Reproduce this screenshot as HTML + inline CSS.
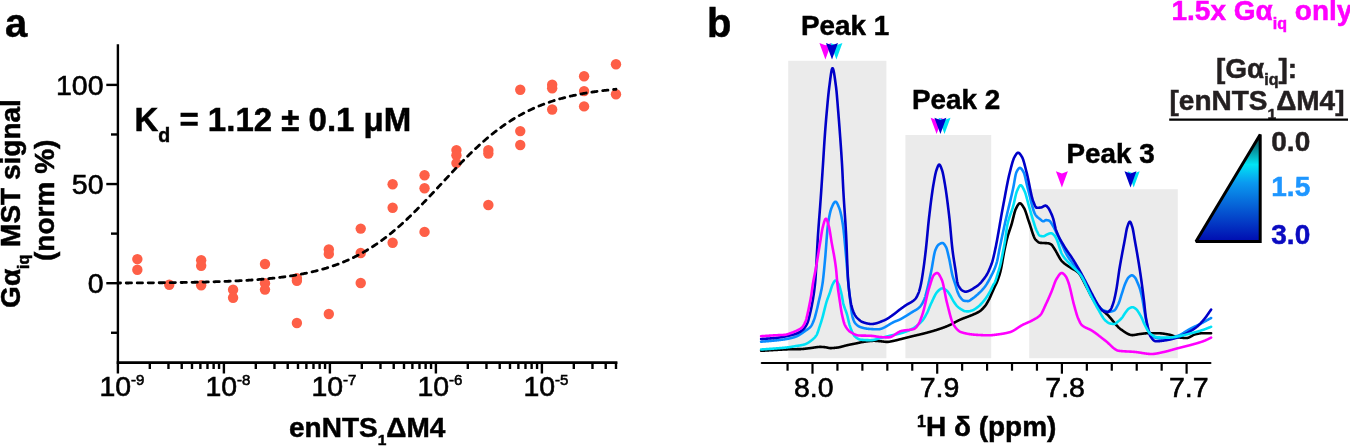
<!DOCTYPE html>
<html><head><meta charset="utf-8"><style>
html,body{margin:0;padding:0;background:#fff;overflow:hidden;}
svg{display:block;will-change:transform;}
text{font-family:"Liberation Sans", sans-serif;}
</style></head><body>
<svg width="1350" height="446" viewBox="0 0 1350 446" font-family='"Liberation Sans", sans-serif'>
<rect width="1350" height="446" fill="#fff"/>
<line x1="117.9" y1="44.2" x2="117.9" y2="373.5" stroke="#000" stroke-width="2.4"/>
<line x1="116.7" y1="362.6" x2="617.4" y2="362.6" stroke="#000" stroke-width="2.6"/>
<line x1="106.3" y1="84.90" x2="117.9" y2="84.90" stroke="#000" stroke-width="2.4"/>
<line x1="111.0" y1="134.47" x2="117.9" y2="134.47" stroke="#000" stroke-width="2.4"/>
<line x1="106.3" y1="184.05" x2="117.9" y2="184.05" stroke="#000" stroke-width="2.4"/>
<line x1="111.0" y1="233.62" x2="117.9" y2="233.62" stroke="#000" stroke-width="2.4"/>
<line x1="106.3" y1="283.20" x2="117.9" y2="283.20" stroke="#000" stroke-width="2.4"/>
<line x1="111.0" y1="332.77" x2="117.9" y2="332.77" stroke="#000" stroke-width="2.4"/>
<line x1="149.81" y1="362" x2="149.81" y2="369" stroke="#000" stroke-width="2.4"/>
<line x1="168.47" y1="362" x2="168.47" y2="369" stroke="#000" stroke-width="2.4"/>
<line x1="181.72" y1="362" x2="181.72" y2="369" stroke="#000" stroke-width="2.4"/>
<line x1="191.99" y1="362" x2="191.99" y2="369" stroke="#000" stroke-width="2.4"/>
<line x1="200.38" y1="362" x2="200.38" y2="369" stroke="#000" stroke-width="2.4"/>
<line x1="207.48" y1="362" x2="207.48" y2="369" stroke="#000" stroke-width="2.4"/>
<line x1="213.63" y1="362" x2="213.63" y2="369" stroke="#000" stroke-width="2.4"/>
<line x1="219.05" y1="362" x2="219.05" y2="369" stroke="#000" stroke-width="2.4"/>
<line x1="223.90" y1="362" x2="223.90" y2="373.5" stroke="#000" stroke-width="2.4"/>
<line x1="255.81" y1="362" x2="255.81" y2="369" stroke="#000" stroke-width="2.4"/>
<line x1="274.47" y1="362" x2="274.47" y2="369" stroke="#000" stroke-width="2.4"/>
<line x1="287.72" y1="362" x2="287.72" y2="369" stroke="#000" stroke-width="2.4"/>
<line x1="297.99" y1="362" x2="297.99" y2="369" stroke="#000" stroke-width="2.4"/>
<line x1="306.38" y1="362" x2="306.38" y2="369" stroke="#000" stroke-width="2.4"/>
<line x1="313.48" y1="362" x2="313.48" y2="369" stroke="#000" stroke-width="2.4"/>
<line x1="319.63" y1="362" x2="319.63" y2="369" stroke="#000" stroke-width="2.4"/>
<line x1="325.05" y1="362" x2="325.05" y2="369" stroke="#000" stroke-width="2.4"/>
<line x1="329.90" y1="362" x2="329.90" y2="373.5" stroke="#000" stroke-width="2.4"/>
<line x1="361.81" y1="362" x2="361.81" y2="369" stroke="#000" stroke-width="2.4"/>
<line x1="380.47" y1="362" x2="380.47" y2="369" stroke="#000" stroke-width="2.4"/>
<line x1="393.72" y1="362" x2="393.72" y2="369" stroke="#000" stroke-width="2.4"/>
<line x1="403.99" y1="362" x2="403.99" y2="369" stroke="#000" stroke-width="2.4"/>
<line x1="412.38" y1="362" x2="412.38" y2="369" stroke="#000" stroke-width="2.4"/>
<line x1="419.48" y1="362" x2="419.48" y2="369" stroke="#000" stroke-width="2.4"/>
<line x1="425.63" y1="362" x2="425.63" y2="369" stroke="#000" stroke-width="2.4"/>
<line x1="431.05" y1="362" x2="431.05" y2="369" stroke="#000" stroke-width="2.4"/>
<line x1="435.90" y1="362" x2="435.90" y2="373.5" stroke="#000" stroke-width="2.4"/>
<line x1="467.81" y1="362" x2="467.81" y2="369" stroke="#000" stroke-width="2.4"/>
<line x1="486.47" y1="362" x2="486.47" y2="369" stroke="#000" stroke-width="2.4"/>
<line x1="499.72" y1="362" x2="499.72" y2="369" stroke="#000" stroke-width="2.4"/>
<line x1="509.99" y1="362" x2="509.99" y2="369" stroke="#000" stroke-width="2.4"/>
<line x1="518.38" y1="362" x2="518.38" y2="369" stroke="#000" stroke-width="2.4"/>
<line x1="525.48" y1="362" x2="525.48" y2="369" stroke="#000" stroke-width="2.4"/>
<line x1="531.63" y1="362" x2="531.63" y2="369" stroke="#000" stroke-width="2.4"/>
<line x1="537.05" y1="362" x2="537.05" y2="369" stroke="#000" stroke-width="2.4"/>
<line x1="541.90" y1="362" x2="541.90" y2="373.5" stroke="#000" stroke-width="2.4"/>
<line x1="573.81" y1="362" x2="573.81" y2="369" stroke="#000" stroke-width="2.4"/>
<line x1="592.47" y1="362" x2="592.47" y2="369" stroke="#000" stroke-width="2.4"/>
<line x1="605.72" y1="362" x2="605.72" y2="369" stroke="#000" stroke-width="2.4"/>
<line x1="615.99" y1="362" x2="615.99" y2="369" stroke="#000" stroke-width="2.4"/>
<text x="103.5" y="95.10" text-anchor="end" font-size="28.5" stroke="#000" stroke-width="0.6">100</text>
<text x="103.5" y="194.25" text-anchor="end" font-size="28.5" stroke="#000" stroke-width="0.6">50</text>
<text x="103.5" y="293.40" text-anchor="end" font-size="28.5" stroke="#000" stroke-width="0.6">0</text>
<text x="99.40" y="395.8" font-size="28.5" stroke="#000" stroke-width="0.6">10<tspan font-size="15" dy="-11">-9</tspan></text>
<text x="205.40" y="395.8" font-size="28.5" stroke="#000" stroke-width="0.6">10<tspan font-size="15" dy="-11">-8</tspan></text>
<text x="311.40" y="395.8" font-size="28.5" stroke="#000" stroke-width="0.6">10<tspan font-size="15" dy="-11">-7</tspan></text>
<text x="417.40" y="395.8" font-size="28.5" stroke="#000" stroke-width="0.6">10<tspan font-size="15" dy="-11">-6</tspan></text>
<text x="523.40" y="395.8" font-size="28.5" stroke="#000" stroke-width="0.6">10<tspan font-size="15" dy="-11">-5</tspan></text>
<circle cx="137.35" cy="259.1" r="5.2" fill="#fe5f47"/>
<circle cx="137.35" cy="269.8" r="5.2" fill="#fe5f47"/>
<circle cx="169.26" cy="284.8" r="5.2" fill="#fe5f47"/>
<circle cx="201.17" cy="260.2" r="5.2" fill="#fe5f47"/>
<circle cx="201.17" cy="265.8" r="5.2" fill="#fe5f47"/>
<circle cx="201.17" cy="285.3" r="5.2" fill="#fe5f47"/>
<circle cx="233.08" cy="289.8" r="5.2" fill="#fe5f47"/>
<circle cx="233.08" cy="297.8" r="5.2" fill="#fe5f47"/>
<circle cx="264.99" cy="264" r="5.2" fill="#fe5f47"/>
<circle cx="264.99" cy="283.2" r="5.2" fill="#fe5f47"/>
<circle cx="264.99" cy="289.6" r="5.2" fill="#fe5f47"/>
<circle cx="296.90" cy="278.1" r="5.2" fill="#fe5f47"/>
<circle cx="296.90" cy="280.8" r="5.2" fill="#fe5f47"/>
<circle cx="296.90" cy="323" r="5.2" fill="#fe5f47"/>
<circle cx="328.81" cy="249.4" r="5.2" fill="#fe5f47"/>
<circle cx="328.81" cy="253.9" r="5.2" fill="#fe5f47"/>
<circle cx="328.81" cy="314" r="5.2" fill="#fe5f47"/>
<circle cx="360.72" cy="253" r="5.2" fill="#fe5f47"/>
<circle cx="360.72" cy="283" r="5.2" fill="#fe5f47"/>
<circle cx="360.72" cy="228.6" r="5.2" fill="#fe5f47"/>
<circle cx="392.63" cy="242.7" r="5.2" fill="#fe5f47"/>
<circle cx="392.63" cy="184.2" r="5.2" fill="#fe5f47"/>
<circle cx="392.63" cy="207.7" r="5.2" fill="#fe5f47"/>
<circle cx="424.54" cy="175.2" r="5.2" fill="#fe5f47"/>
<circle cx="424.54" cy="188.2" r="5.2" fill="#fe5f47"/>
<circle cx="424.54" cy="231.9" r="5.2" fill="#fe5f47"/>
<circle cx="456.44" cy="150.1" r="5.2" fill="#fe5f47"/>
<circle cx="456.44" cy="155.2" r="5.2" fill="#fe5f47"/>
<circle cx="456.44" cy="163.1" r="5.2" fill="#fe5f47"/>
<circle cx="488.35" cy="150.1" r="5.2" fill="#fe5f47"/>
<circle cx="488.35" cy="153.5" r="5.2" fill="#fe5f47"/>
<circle cx="488.35" cy="205" r="5.2" fill="#fe5f47"/>
<circle cx="520.26" cy="89.8" r="5.2" fill="#fe5f47"/>
<circle cx="520.26" cy="131.1" r="5.2" fill="#fe5f47"/>
<circle cx="520.26" cy="145" r="5.2" fill="#fe5f47"/>
<circle cx="552.17" cy="84.8" r="5.2" fill="#fe5f47"/>
<circle cx="552.17" cy="88.2" r="5.2" fill="#fe5f47"/>
<circle cx="552.17" cy="109.5" r="5.2" fill="#fe5f47"/>
<circle cx="584.08" cy="76.3" r="5.2" fill="#fe5f47"/>
<circle cx="584.08" cy="91.1" r="5.2" fill="#fe5f47"/>
<circle cx="584.08" cy="106.4" r="5.2" fill="#fe5f47"/>
<circle cx="615.99" cy="64.2" r="5.2" fill="#fe5f47"/>
<circle cx="615.99" cy="94.3" r="5.2" fill="#fe5f47"/>
<polyline points="117.90,283.02 118.73,283.02 119.56,283.02 120.39,283.01 121.22,283.01 122.05,283.01 122.88,283.00 123.71,283.00 124.54,283.00 125.37,282.99 126.20,282.99 127.03,282.98 127.86,282.98 128.69,282.98 129.52,282.97 130.35,282.97 131.18,282.96 132.01,282.96 132.84,282.96 133.67,282.95 134.50,282.95 135.33,282.94 136.16,282.94 136.99,282.93 137.82,282.93 138.65,282.92 139.48,282.92 140.31,282.91 141.14,282.91 141.97,282.90 142.80,282.90 143.63,282.89 144.46,282.89 145.29,282.88 146.13,282.87 146.96,282.87 147.79,282.86 148.62,282.86 149.45,282.85 150.28,282.84 151.11,282.84 151.94,282.83 152.77,282.82 153.60,282.82 154.43,282.81 155.26,282.80 156.09,282.79 156.92,282.79 157.75,282.78 158.58,282.77 159.41,282.76 160.24,282.76 161.07,282.75 161.90,282.74 162.73,282.73 163.56,282.72 164.39,282.72 165.22,282.71 166.05,282.70 166.88,282.69 167.71,282.68 168.54,282.67 169.37,282.66 170.20,282.65 171.03,282.64 171.86,282.63 172.69,282.62 173.52,282.61 174.35,282.60 175.18,282.59 176.01,282.58 176.84,282.57 177.67,282.55 178.50,282.54 179.33,282.53 180.16,282.52 180.99,282.51 181.82,282.49 182.65,282.48 183.48,282.47 184.31,282.45 185.14,282.44 185.97,282.43 186.80,282.41 187.63,282.40 188.46,282.38 189.29,282.37 190.12,282.35 190.95,282.34 191.78,282.32 192.61,282.31 193.44,282.29 194.27,282.27 195.10,282.26 195.93,282.24 196.76,282.22 197.59,282.21 198.42,282.19 199.25,282.17 200.08,282.15 200.92,282.13 201.75,282.11 202.58,282.09 203.41,282.07 204.24,282.05 205.07,282.03 205.90,282.01 206.73,281.99 207.56,281.97 208.39,281.94 209.22,281.92 210.05,281.90 210.88,281.87 211.71,281.85 212.54,281.83 213.37,281.80 214.20,281.78 215.03,281.75 215.86,281.72 216.69,281.70 217.52,281.67 218.35,281.64 219.18,281.61 220.01,281.59 220.84,281.56 221.67,281.53 222.50,281.50 223.33,281.47 224.16,281.44 224.99,281.40 225.82,281.37 226.65,281.34 227.48,281.30 228.31,281.27 229.14,281.24 229.97,281.20 230.80,281.16 231.63,281.13 232.46,281.09 233.29,281.05 234.12,281.01 234.95,280.97 235.78,280.93 236.61,280.89 237.44,280.85 238.27,280.81 239.10,280.77 239.93,280.72 240.76,280.68 241.59,280.63 242.42,280.59 243.25,280.54 244.08,280.49 244.91,280.44 245.74,280.39 246.57,280.34 247.40,280.29 248.23,280.24 249.06,280.19 249.89,280.13 250.72,280.08 251.55,280.02 252.38,279.97 253.21,279.91 254.04,279.85 254.87,279.79 255.71,279.73 256.54,279.67 257.37,279.60 258.20,279.54 259.03,279.47 259.86,279.41 260.69,279.34 261.52,279.27 262.35,279.20 263.18,279.13 264.01,279.06 264.84,278.98 265.67,278.91 266.50,278.83 267.33,278.75 268.16,278.68 268.99,278.59 269.82,278.51 270.65,278.43 271.48,278.35 272.31,278.26 273.14,278.17 273.97,278.08 274.80,277.99 275.63,277.90 276.46,277.81 277.29,277.71 278.12,277.61 278.95,277.51 279.78,277.41 280.61,277.31 281.44,277.21 282.27,277.10 283.10,276.99 283.93,276.89 284.76,276.77 285.59,276.66 286.42,276.55 287.25,276.43 288.08,276.31 288.91,276.19 289.74,276.07 290.57,275.94 291.40,275.81 292.23,275.68 293.06,275.55 293.89,275.42 294.72,275.28 295.55,275.15 296.38,275.00 297.21,274.86 298.04,274.72 298.87,274.57 299.70,274.42 300.53,274.27 301.36,274.11 302.19,273.95 303.02,273.79 303.85,273.63 304.68,273.46 305.51,273.30 306.34,273.13 307.17,272.95 308.00,272.77 308.83,272.60 309.66,272.41 310.50,272.23 311.33,272.04 312.16,271.85 312.99,271.65 313.82,271.46 314.65,271.25 315.48,271.05 316.31,270.84 317.14,270.63 317.97,270.42 318.80,270.20 319.63,269.98 320.46,269.76 321.29,269.53 322.12,269.30 322.95,269.06 323.78,268.82 324.61,268.58 325.44,268.33 326.27,268.09 327.10,267.83 327.93,267.57 328.76,267.31 329.59,267.05 330.42,266.78 331.25,266.50 332.08,266.23 332.91,265.94 333.74,265.66 334.57,265.37 335.40,265.07 336.23,264.77 337.06,264.47 337.89,264.16 338.72,263.85 339.55,263.53 340.38,263.21 341.21,262.88 342.04,262.55 342.87,262.22 343.70,261.87 344.53,261.53 345.36,261.18 346.19,260.82 347.02,260.46 347.85,260.10 348.68,259.73 349.51,259.35 350.34,258.97 351.17,258.58 352.00,258.19 352.83,257.80 353.66,257.39 354.49,256.99 355.32,256.57 356.15,256.15 356.98,255.73 357.81,255.30 358.64,254.87 359.47,254.42 360.30,253.98 361.13,253.53 361.96,253.07 362.79,252.60 363.62,252.14 364.45,251.66 365.29,251.18 366.12,250.69 366.95,250.20 367.78,249.70 368.61,249.19 369.44,248.68 370.27,248.17 371.10,247.64 371.93,247.11 372.76,246.58 373.59,246.04 374.42,245.49 375.25,244.94 376.08,244.38 376.91,243.81 377.74,243.24 378.57,242.66 379.40,242.07 380.23,241.48 381.06,240.89 381.89,240.28 382.72,239.67 383.55,239.06 384.38,238.44 385.21,237.81 386.04,237.17 386.87,236.53 387.70,235.89 388.53,235.23 389.36,234.57 390.19,233.91 391.02,233.24 391.85,232.56 392.68,231.88 393.51,231.19 394.34,230.49 395.17,229.79 396.00,229.09 396.83,228.37 397.66,227.66 398.49,226.93 399.32,226.20 400.15,225.47 400.98,224.73 401.81,223.98 402.64,223.23 403.47,222.47 404.30,221.71 405.13,220.94 405.96,220.17 406.79,219.39 407.62,218.61 408.45,217.82 409.28,217.03 410.11,216.23 410.94,215.43 411.77,214.62 412.60,213.81 413.43,212.99 414.26,212.17 415.09,211.35 415.92,210.52 416.75,209.69 417.58,208.85 418.41,208.01 419.24,207.17 420.08,206.32 420.91,205.47 421.74,204.62 422.57,203.76 423.40,202.90 424.23,202.04 425.06,201.17 425.89,200.30 426.72,199.43 427.55,198.56 428.38,197.68 429.21,196.81 430.04,195.92 430.87,195.04 431.70,194.16 432.53,193.27 433.36,192.39 434.19,191.50 435.02,190.61 435.85,189.72 436.68,188.83 437.51,187.93 438.34,187.04 439.17,186.15 440.00,185.25 440.83,184.36 441.66,183.47 442.49,182.57 443.32,181.68 444.15,180.79 444.98,179.89 445.81,179.00 446.64,178.11 447.47,177.22 448.30,176.33 449.13,175.44 449.96,174.56 450.79,173.67 451.62,172.79 452.45,171.91 453.28,171.03 454.11,170.15 454.94,169.27 455.77,168.40 456.60,167.53 457.43,166.66 458.26,165.80 459.09,164.93 459.92,164.08 460.75,163.22 461.58,162.37 462.41,161.52 463.24,160.67 464.07,159.83 464.90,158.99 465.73,158.15 466.56,157.32 467.39,156.50 468.22,155.67 469.05,154.86 469.88,154.04 470.71,153.23 471.54,152.43 472.37,151.63 473.20,150.83 474.03,150.04 474.87,149.25 475.70,148.47 476.53,147.69 477.36,146.92 478.19,146.16 479.02,145.40 479.85,144.64 480.68,143.89 481.51,143.15 482.34,142.41 483.17,141.67 484.00,140.95 484.83,140.22 485.66,139.51 486.49,138.80 487.32,138.09 488.15,137.39 488.98,136.70 489.81,136.01 490.64,135.33 491.47,134.66 492.30,133.99 493.13,133.32 493.96,132.67 494.79,132.02 495.62,131.37 496.45,130.73 497.28,130.10 498.11,129.47 498.94,128.85 499.77,128.24 500.60,127.63 501.43,127.03 502.26,126.44 503.09,125.85 503.92,125.26 504.75,124.69 505.58,124.12 506.41,123.55 507.24,122.99 508.07,122.44 508.90,121.90 509.73,121.36 510.56,120.82 511.39,120.30 512.22,119.78 513.05,119.26 513.88,118.75 514.71,118.25 515.54,117.75 516.37,117.26 517.20,116.77 518.03,116.29 518.86,115.82 519.69,115.35 520.52,114.89 521.35,114.43 522.18,113.98 523.01,113.54 523.84,113.10 524.67,112.67 525.50,112.24 526.33,111.82 527.16,111.40 527.99,110.99 528.82,110.58 529.66,110.18 530.49,109.79 531.32,109.40 532.15,109.01 532.98,108.63 533.81,108.26 534.64,107.89 535.47,107.53 536.30,107.17 537.13,106.81 537.96,106.46 538.79,106.12 539.62,105.78 540.45,105.45 541.28,105.12 542.11,104.79 542.94,104.47 543.77,104.16 544.60,103.84 545.43,103.54 546.26,103.24 547.09,102.94 547.92,102.64 548.75,102.35 549.58,102.07 550.41,101.79 551.24,101.51 552.07,101.24 552.90,100.97 553.73,100.71 554.56,100.45 555.39,100.19 556.22,99.94 557.05,99.69 557.88,99.44 558.71,99.20 559.54,98.97 560.37,98.73 561.20,98.50 562.03,98.28 562.86,98.05 563.69,97.83 564.52,97.62 565.35,97.40 566.18,97.19 567.01,96.99 567.84,96.78 568.67,96.58 569.50,96.39 570.33,96.19 571.16,96.00 571.99,95.82 572.82,95.63 573.65,95.45 574.48,95.27 575.31,95.10 576.14,94.92 576.97,94.75 577.80,94.58 578.63,94.42 579.46,94.26 580.29,94.10 581.12,93.94 581.95,93.79 582.78,93.64 583.61,93.49 584.45,93.34 585.28,93.19 586.11,93.05 586.94,92.91 587.77,92.77 588.60,92.64 589.43,92.51 590.26,92.38 591.09,92.25 591.92,92.12 592.75,92.00 593.58,91.87 594.41,91.75 595.24,91.64 596.07,91.52 596.90,91.40 597.73,91.29 598.56,91.18 599.39,91.07 600.22,90.97 601.05,90.86 601.88,90.76 602.71,90.66 603.54,90.56 604.37,90.46 605.20,90.36 606.03,90.27 606.86,90.17 607.69,90.08 608.52,89.99 609.35,89.90 610.18,89.81 611.01,89.73 611.84,89.64 612.67,89.56 613.50,89.48 614.33,89.40 615.16,89.32 615.99,89.24" fill="none" stroke="#000" stroke-width="2.8" stroke-linecap="round" stroke-dasharray="5.3 5.669" stroke-dashoffset="2.624"/>
<text x="5" y="36.5" font-size="40" font-weight="bold" stroke="#000" stroke-width="0.5">a</text>
<text x="134.5" y="131.1" font-size="33" font-weight="bold" stroke="#000" stroke-width="0.5">K<tspan font-size="19.5" dy="10.5">d</tspan><tspan dy="-10.5"> = 1.12 ± 0.1 μM</tspan></text>
<text x="289" y="436.7" font-size="28" font-weight="bold" stroke="#000" stroke-width="0.5">enNTS<tspan font-size="15.5" dy="8.7">1</tspan><tspan dy="-8.7">ΔM4</tspan></text>
<text transform="translate(20.4,203.5) rotate(-90)" text-anchor="middle" font-size="28" font-weight="bold" stroke="#000" stroke-width="0.5">Gα<tspan font-size="16" dy="8.5">iq</tspan><tspan dy="-8.5"> MST signal</tspan></text>
<text transform="translate(53.8,200.3) rotate(-90)" text-anchor="middle" font-size="28" font-weight="bold" stroke="#000" stroke-width="0.5">(norm %)</text>
<rect x="788.2" y="60.8" width="98.2" height="297.4" fill="#ebebeb"/>
<rect x="905.4" y="135" width="85.8" height="223.2" fill="#ebebeb"/>
<rect x="1029.2" y="189.2" width="148.6" height="169" fill="#ebebeb"/>
<line x1="761.8" y1="363" x2="1210.4" y2="363" stroke="#000" stroke-width="2.2" stroke-linecap="round"/>
<line x1="787.56" y1="363" x2="787.56" y2="370.7" stroke="#000" stroke-width="2.2"/>
<line x1="812.50" y1="363" x2="812.50" y2="373.7" stroke="#000" stroke-width="2.2"/>
<line x1="837.44" y1="363" x2="837.44" y2="370.7" stroke="#000" stroke-width="2.2"/>
<line x1="862.38" y1="363" x2="862.38" y2="370.7" stroke="#000" stroke-width="2.2"/>
<line x1="887.32" y1="363" x2="887.32" y2="370.7" stroke="#000" stroke-width="2.2"/>
<line x1="912.26" y1="363" x2="912.26" y2="370.7" stroke="#000" stroke-width="2.2"/>
<line x1="937.20" y1="363" x2="937.20" y2="373.7" stroke="#000" stroke-width="2.2"/>
<line x1="962.14" y1="363" x2="962.14" y2="370.7" stroke="#000" stroke-width="2.2"/>
<line x1="987.08" y1="363" x2="987.08" y2="370.7" stroke="#000" stroke-width="2.2"/>
<line x1="1012.02" y1="363" x2="1012.02" y2="370.7" stroke="#000" stroke-width="2.2"/>
<line x1="1036.96" y1="363" x2="1036.96" y2="370.7" stroke="#000" stroke-width="2.2"/>
<line x1="1061.90" y1="363" x2="1061.90" y2="373.7" stroke="#000" stroke-width="2.2"/>
<line x1="1086.84" y1="363" x2="1086.84" y2="370.7" stroke="#000" stroke-width="2.2"/>
<line x1="1111.78" y1="363" x2="1111.78" y2="370.7" stroke="#000" stroke-width="2.2"/>
<line x1="1136.72" y1="363" x2="1136.72" y2="370.7" stroke="#000" stroke-width="2.2"/>
<line x1="1161.66" y1="363" x2="1161.66" y2="370.7" stroke="#000" stroke-width="2.2"/>
<line x1="1186.60" y1="363" x2="1186.60" y2="373.7" stroke="#000" stroke-width="2.2"/>
<text x="813.70" y="396.6" text-anchor="middle" font-size="28.5" stroke="#000" stroke-width="0.6">8.0</text>
<text x="939.50" y="396.6" text-anchor="middle" font-size="28.5" stroke="#000" stroke-width="0.6">7.9</text>
<text x="1065.10" y="396.6" text-anchor="middle" font-size="28.5" stroke="#000" stroke-width="0.6">7.8</text>
<text x="1188.80" y="396.6" text-anchor="middle" font-size="28.5" stroke="#000" stroke-width="0.6">7.7</text>
<text x="917" y="435.9" font-size="28" font-weight="bold" stroke="#000" stroke-width="0.5"><tspan font-size="16" dy="-9">1</tspan><tspan dy="9">H δ (ppm)</tspan></text>
<text x="707" y="36.7" font-size="40" font-weight="bold" stroke="#000" stroke-width="0.5">b</text>
<text x="801" y="34.8" font-size="27.8" font-weight="bold" stroke="#000" stroke-width="0.5">Peak 1</text>
<text x="912" y="109.3" font-size="27.8" font-weight="bold" stroke="#000" stroke-width="0.5">Peak 2</text>
<text x="1066.5" y="163" font-size="27.8" font-weight="bold" stroke="#000" stroke-width="0.5">Peak 3</text>
<polyline points="761.10,350.80 761.35,350.79 761.60,350.77 761.85,350.76 762.10,350.74 762.35,350.73 762.60,350.71 762.85,350.70 763.10,350.68 763.35,350.67 763.60,350.65 763.85,350.64 764.10,350.62 764.35,350.61 764.60,350.59 764.85,350.58 765.10,350.56 765.35,350.55 765.60,350.53 765.85,350.52 766.10,350.50 766.35,350.49 766.60,350.47 766.85,350.46 767.10,350.44 767.35,350.43 767.60,350.41 767.85,350.40 768.10,350.38 768.35,350.37 768.60,350.35 768.85,350.34 769.10,350.32 769.35,350.31 769.60,350.29 769.85,350.28 770.10,350.26 770.35,350.25 770.60,350.23 770.85,350.22 771.10,350.20 771.35,350.19 771.60,350.17 771.85,350.16 772.10,350.14 772.35,350.13 772.60,350.11 772.85,350.10 773.10,350.08 773.35,350.07 773.60,350.06 773.85,350.04 774.10,350.03 774.35,350.01 774.60,350.00 774.85,349.98 775.10,349.97 775.35,349.95 775.60,349.94 775.85,349.93 776.10,349.91 776.35,349.90 776.60,349.88 776.85,349.87 777.10,349.86 777.35,349.84 777.60,349.83 777.85,349.81 778.10,349.80 778.35,349.79 778.60,349.77 778.85,349.76 779.10,349.75 779.35,349.73 779.60,349.72 779.85,349.71 780.10,349.69 780.35,349.68 780.60,349.67 780.85,349.65 781.10,349.64 781.35,349.63 781.60,349.61 781.85,349.60 782.10,349.59 782.35,349.57 782.60,349.56 782.85,349.54 783.10,349.53 783.35,349.52 783.60,349.50 783.85,349.49 784.10,349.48 784.35,349.46 784.60,349.45 784.85,349.44 785.10,349.42 785.35,349.41 785.60,349.40 785.85,349.39 786.10,349.38 786.35,349.37 786.60,349.36 786.85,349.35 787.10,349.34 787.35,349.33 787.60,349.32 787.85,349.31 788.10,349.31 788.35,349.30 788.60,349.29 788.85,349.29 789.10,349.28 789.35,349.28 789.60,349.27 789.85,349.27 790.10,349.26 790.35,349.26 790.60,349.25 790.85,349.25 791.10,349.25 791.35,349.24 791.60,349.24 791.85,349.23 792.10,349.23 792.35,349.23 792.60,349.23 792.85,349.22 793.10,349.22 793.35,349.22 793.60,349.21 793.85,349.21 794.10,349.21 794.35,349.20 794.60,349.20 794.85,349.20 795.10,349.20 795.35,349.19 795.60,349.19 795.85,349.19 796.10,349.18 796.35,349.18 796.60,349.18 796.85,349.17 797.10,349.17 797.35,349.17 797.60,349.16 797.85,349.16 798.10,349.15 798.35,349.15 798.60,349.14 798.85,349.14 799.10,349.13 799.35,349.13 799.60,349.12 799.85,349.11 800.10,349.11 800.35,349.10 800.60,349.09 800.85,349.08 801.10,349.07 801.35,349.06 801.60,349.04 801.85,349.03 802.10,349.01 802.35,348.99 802.60,348.97 802.85,348.95 803.10,348.93 803.35,348.91 803.60,348.88 803.85,348.86 804.10,348.83 804.35,348.81 804.60,348.78 804.85,348.75 805.10,348.72 805.35,348.69 805.60,348.66 805.85,348.64 806.10,348.61 806.35,348.57 806.60,348.54 806.85,348.51 807.10,348.48 807.35,348.45 807.60,348.42 807.85,348.39 808.10,348.36 808.35,348.33 808.60,348.30 808.85,348.27 809.10,348.24 809.35,348.21 809.60,348.18 809.85,348.15 810.10,348.12 810.35,348.09 810.60,348.07 810.85,348.04 811.10,348.00 811.35,347.97 811.60,347.94 811.85,347.90 812.10,347.87 812.35,347.83 812.60,347.79 812.85,347.75 813.10,347.71 813.35,347.67 813.60,347.63 813.85,347.59 814.10,347.55 814.35,347.51 814.60,347.47 814.85,347.43 815.10,347.39 815.35,347.36 815.60,347.32 815.85,347.28 816.10,347.25 816.35,347.21 816.60,347.18 816.85,347.14 817.10,347.11 817.35,347.08 817.60,347.06 817.85,347.03 818.10,347.01 818.35,346.99 818.60,346.97 818.85,346.95 819.10,346.93 819.35,346.92 819.60,346.91 819.85,346.90 820.10,346.90 820.35,346.90 820.60,346.90 820.85,346.91 821.10,346.91 821.35,346.92 821.60,346.93 821.85,346.95 822.10,346.96 822.35,346.98 822.60,346.99 822.85,347.01 823.10,347.03 823.35,347.05 823.60,347.07 823.85,347.09 824.10,347.12 824.35,347.14 824.60,347.16 824.85,347.19 825.10,347.21 825.35,347.24 825.60,347.27 825.85,347.32 826.10,347.36 826.35,347.41 826.60,347.46 826.85,347.52 827.10,347.57 827.35,347.63 827.60,347.69 827.85,347.75 828.10,347.80 828.35,347.85 828.60,347.90 828.85,347.95 829.10,347.99 829.35,348.03 829.60,348.06 829.85,348.08 830.10,348.09 830.35,348.10 830.60,348.10 830.85,348.10 831.10,348.09 831.35,348.09 831.60,348.08 831.85,348.07 832.10,348.06 832.35,348.04 832.60,348.03 832.85,348.01 833.10,347.99 833.35,347.97 833.60,347.95 833.85,347.93 834.10,347.91 834.35,347.89 834.60,347.86 834.85,347.84 835.10,347.82 835.35,347.79 835.60,347.76 835.85,347.74 836.10,347.71 836.35,347.68 836.60,347.65 836.85,347.63 837.10,347.60 837.35,347.57 837.60,347.54 837.85,347.50 838.10,347.46 838.35,347.42 838.60,347.38 838.85,347.33 839.10,347.28 839.35,347.23 839.60,347.18 839.85,347.12 840.10,347.06 840.35,347.01 840.60,346.94 840.85,346.88 841.10,346.82 841.35,346.75 841.60,346.69 841.85,346.62 842.10,346.55 842.35,346.48 842.60,346.41 842.85,346.34 843.10,346.27 843.35,346.20 843.60,346.13 843.85,346.06 844.10,345.99 844.35,345.92 844.60,345.85 844.85,345.79 845.10,345.72 845.35,345.65 845.60,345.59 845.85,345.52 846.10,345.46 846.35,345.40 846.60,345.34 846.85,345.28 847.10,345.22 847.35,345.17 847.60,345.11 847.85,345.06 848.10,345.01 848.35,344.95 848.60,344.90 848.85,344.85 849.10,344.80 849.35,344.75 849.60,344.70 849.85,344.64 850.10,344.59 850.35,344.54 850.60,344.49 850.85,344.44 851.10,344.39 851.35,344.34 851.60,344.29 851.85,344.24 852.10,344.19 852.35,344.15 852.60,344.10 852.85,344.05 853.10,344.00 853.35,343.95 853.60,343.90 853.85,343.85 854.10,343.80 854.35,343.75 854.60,343.70 854.85,343.65 855.10,343.60 855.35,343.55 855.60,343.50 855.85,343.45 856.10,343.40 856.35,343.34 856.60,343.29 856.85,343.24 857.10,343.18 857.35,343.13 857.60,343.07 857.85,343.01 858.10,342.96 858.35,342.90 858.60,342.85 858.85,342.79 859.10,342.73 859.35,342.68 859.60,342.62 859.85,342.57 860.10,342.51 860.35,342.46 860.60,342.41 860.85,342.35 861.10,342.30 861.35,342.25 861.60,342.20 861.85,342.15 862.10,342.11 862.35,342.06 862.60,342.02 862.85,341.97 863.10,341.93 863.35,341.89 863.60,341.86 863.85,341.82 864.10,341.79 864.35,341.75 864.60,341.72 864.85,341.68 865.10,341.65 865.35,341.62 865.60,341.58 865.85,341.55 866.10,341.51 866.35,341.48 866.60,341.44 866.85,341.41 867.10,341.38 867.35,341.34 867.60,341.31 867.85,341.28 868.10,341.24 868.35,341.21 868.60,341.18 868.85,341.15 869.10,341.12 869.35,341.10 869.60,341.07 869.85,341.04 870.10,341.02 870.35,340.99 870.60,340.97 870.85,340.95 871.10,340.93 871.35,340.91 871.60,340.89 871.85,340.87 872.10,340.86 872.35,340.85 872.60,340.83 872.85,340.82 873.10,340.82 873.35,340.81 873.60,340.80 873.85,340.80 874.10,340.80 874.35,340.80 874.60,340.81 874.85,340.81 875.10,340.82 875.35,340.83 875.60,340.84 875.85,340.86 876.10,340.87 876.35,340.89 876.60,340.91 876.85,340.93 877.10,340.95 877.35,340.97 877.60,340.99 877.85,341.01 878.10,341.03 878.35,341.06 878.60,341.08 878.85,341.10 879.10,341.12 879.35,341.15 879.60,341.17 879.85,341.19 880.10,341.21 880.35,341.23 880.60,341.25 880.85,341.28 881.10,341.31 881.35,341.33 881.60,341.36 881.85,341.39 882.10,341.42 882.35,341.46 882.60,341.49 882.85,341.52 883.10,341.55 883.35,341.58 883.60,341.62 883.85,341.65 884.10,341.68 884.35,341.71 884.60,341.73 884.85,341.76 885.10,341.78 885.35,341.81 885.60,341.83 885.85,341.85 886.10,341.86 886.35,341.88 886.60,341.89 886.85,341.89 887.10,341.90 887.35,341.90 887.60,341.90 887.85,341.89 888.10,341.87 888.35,341.85 888.60,341.82 888.85,341.79 889.10,341.76 889.35,341.72 889.60,341.68 889.85,341.64 890.10,341.59 890.35,341.55 890.60,341.50 890.85,341.45 891.10,341.39 891.35,341.34 891.60,341.29 891.85,341.23 892.10,341.18 892.35,341.13 892.60,341.08 892.85,341.03 893.10,340.98 893.35,340.93 893.60,340.88 893.85,340.83 894.10,340.78 894.35,340.72 894.60,340.67 894.85,340.61 895.10,340.55 895.35,340.49 895.60,340.43 895.85,340.37 896.10,340.31 896.35,340.25 896.60,340.18 896.85,340.12 897.10,340.06 897.35,339.99 897.60,339.93 897.85,339.87 898.10,339.80 898.35,339.74 898.60,339.67 898.85,339.61 899.10,339.55 899.35,339.49 899.60,339.42 899.85,339.36 900.10,339.30 900.35,339.24 900.60,339.18 900.85,339.12 901.10,339.05 901.35,338.99 901.60,338.93 901.85,338.87 902.10,338.80 902.35,338.74 902.60,338.68 902.85,338.61 903.10,338.55 903.35,338.49 903.60,338.42 903.85,338.36 904.10,338.30 904.35,338.23 904.60,338.17 904.85,338.11 905.10,338.04 905.35,337.98 905.60,337.91 905.85,337.85 906.10,337.79 906.35,337.72 906.60,337.66 906.85,337.60 907.10,337.53 907.35,337.47 907.60,337.40 907.85,337.34 908.10,337.28 908.35,337.21 908.60,337.15 908.85,337.09 909.10,337.02 909.35,336.96 909.60,336.90 909.85,336.83 910.10,336.77 910.35,336.71 910.60,336.65 910.85,336.58 911.10,336.52 911.35,336.46 911.60,336.40 911.85,336.34 912.10,336.28 912.35,336.21 912.60,336.15 912.85,336.09 913.10,336.03 913.35,335.97 913.60,335.91 913.85,335.86 914.10,335.80 914.35,335.74 914.60,335.68 914.85,335.62 915.10,335.56 915.35,335.50 915.60,335.45 915.85,335.39 916.10,335.33 916.35,335.27 916.60,335.22 916.85,335.16 917.10,335.10 917.35,335.04 917.60,334.99 917.85,334.93 918.10,334.87 918.35,334.81 918.60,334.75 918.85,334.70 919.10,334.64 919.35,334.58 919.60,334.52 919.85,334.46 920.10,334.41 920.35,334.35 920.60,334.29 920.85,334.23 921.10,334.17 921.35,334.11 921.60,334.05 921.85,333.99 922.10,333.93 922.35,333.87 922.60,333.81 922.85,333.75 923.10,333.68 923.35,333.62 923.60,333.56 923.85,333.50 924.10,333.43 924.35,333.37 924.60,333.30 924.85,333.24 925.10,333.17 925.35,333.11 925.60,333.04 925.85,332.98 926.10,332.91 926.35,332.84 926.60,332.78 926.85,332.71 927.10,332.64 927.35,332.58 927.60,332.51 927.85,332.44 928.10,332.37 928.35,332.30 928.60,332.24 928.85,332.17 929.10,332.10 929.35,332.03 929.60,331.96 929.85,331.89 930.10,331.82 930.35,331.75 930.60,331.68 930.85,331.61 931.10,331.54 931.35,331.47 931.60,331.40 931.85,331.32 932.10,331.25 932.35,331.18 932.60,331.11 932.85,331.03 933.10,330.96 933.35,330.89 933.60,330.81 933.85,330.74 934.10,330.66 934.35,330.59 934.60,330.51 934.85,330.44 935.10,330.36 935.35,330.29 935.60,330.21 935.85,330.13 936.10,330.06 936.35,329.98 936.60,329.90 936.85,329.82 937.10,329.74 937.35,329.66 937.60,329.58 937.85,329.50 938.10,329.42 938.35,329.34 938.60,329.26 938.85,329.18 939.10,329.10 939.35,329.02 939.60,328.93 939.85,328.85 940.10,328.77 940.35,328.68 940.60,328.60 940.85,328.51 941.10,328.42 941.35,328.34 941.60,328.25 941.85,328.16 942.10,328.07 942.35,327.98 942.60,327.89 942.85,327.80 943.10,327.71 943.35,327.62 943.60,327.53 943.85,327.44 944.10,327.34 944.35,327.25 944.60,327.15 944.85,327.06 945.10,326.96 945.35,326.86 945.60,326.76 945.85,326.67 946.10,326.57 946.35,326.47 946.60,326.36 946.85,326.26 947.10,326.16 947.35,326.06 947.60,325.95 947.85,325.85 948.10,325.74 948.35,325.64 948.60,325.53 948.85,325.42 949.10,325.30 949.35,325.19 949.60,325.07 949.85,324.95 950.10,324.84 950.35,324.71 950.60,324.59 950.85,324.47 951.10,324.34 951.35,324.22 951.60,324.09 951.85,323.96 952.10,323.83 952.35,323.70 952.60,323.57 952.85,323.44 953.10,323.30 953.35,323.17 953.60,323.04 953.85,322.90 954.10,322.77 954.35,322.64 954.60,322.50 954.85,322.37 955.10,322.23 955.35,322.10 955.60,321.97 955.85,321.83 956.10,321.70 956.35,321.57 956.60,321.44 956.85,321.30 957.10,321.17 957.35,321.04 957.60,320.92 957.85,320.79 958.10,320.66 958.35,320.54 958.60,320.41 958.85,320.29 959.10,320.17 959.35,320.05 959.60,319.93 959.85,319.81 960.10,319.70 960.35,319.58 960.60,319.47 960.85,319.36 961.10,319.26 961.35,319.15 961.60,319.05 961.85,318.95 962.10,318.85 962.35,318.75 962.60,318.65 962.85,318.55 963.10,318.46 963.35,318.36 963.60,318.27 963.85,318.18 964.10,318.08 964.35,317.99 964.60,317.90 964.85,317.81 965.10,317.71 965.35,317.62 965.60,317.53 965.85,317.44 966.10,317.34 966.35,317.25 966.60,317.15 966.85,317.06 967.10,316.96 967.35,316.86 967.60,316.77 967.85,316.67 968.10,316.58 968.35,316.48 968.60,316.39 968.85,316.30 969.10,316.20 969.35,316.11 969.60,316.01 969.85,315.92 970.10,315.82 970.35,315.73 970.60,315.63 970.85,315.53 971.10,315.43 971.35,315.33 971.60,315.23 971.85,315.13 972.10,315.03 972.35,314.92 972.60,314.82 972.85,314.71 973.10,314.60 973.35,314.49 973.60,314.38 973.85,314.27 974.10,314.16 974.35,314.05 974.60,313.94 974.85,313.83 975.10,313.72 975.35,313.61 975.60,313.50 975.85,313.38 976.10,313.27 976.35,313.15 976.60,313.03 976.85,312.90 977.10,312.78 977.35,312.65 977.60,312.52 977.85,312.39 978.10,312.25 978.35,312.11 978.60,311.96 978.85,311.81 979.10,311.66 979.35,311.50 979.60,311.33 979.85,311.17 980.10,310.99 980.35,310.80 980.60,310.61 980.85,310.41 981.10,310.20 981.35,309.99 981.60,309.76 981.85,309.53 982.10,309.29 982.35,309.05 982.60,308.79 982.85,308.54 983.10,308.27 983.35,308.00 983.60,307.72 983.85,307.43 984.10,307.14 984.35,306.85 984.60,306.55 984.85,306.24 985.10,305.93 985.35,305.61 985.60,305.27 985.85,304.92 986.10,304.55 986.35,304.17 986.60,303.78 986.85,303.37 987.10,302.95 987.35,302.52 987.60,302.08 987.85,301.63 988.10,301.18 988.35,300.71 988.60,300.25 988.85,299.77 989.10,299.29 989.35,298.81 989.60,298.30 989.85,297.77 990.10,297.22 990.35,296.66 990.60,296.09 990.85,295.51 991.10,294.93 991.35,294.35 991.60,293.78 991.85,293.21 992.10,292.65 992.35,292.08 992.60,291.51 992.85,290.94 993.10,290.37 993.35,289.80 993.60,289.23 993.85,288.66 994.10,288.10 994.35,287.55 994.60,287.00 994.85,286.47 995.10,285.96 995.35,285.46 995.60,284.97 995.85,284.48 996.10,283.97 996.35,283.45 996.60,282.90 996.85,282.32 997.10,281.71 997.35,281.08 997.60,280.44 997.85,279.78 998.10,279.10 998.35,278.40 998.60,277.67 998.85,276.92 999.10,276.15 999.35,275.34 999.60,274.51 999.85,273.64 1000.10,272.74 1000.35,271.81 1000.60,270.80 1000.85,269.69 1001.10,268.51 1001.35,267.26 1001.60,265.95 1001.85,264.59 1002.10,263.20 1002.35,261.78 1002.60,260.34 1002.85,258.90 1003.10,257.46 1003.35,256.04 1003.60,254.65 1003.85,253.29 1004.10,251.98 1004.35,250.72 1004.60,249.53 1004.85,248.35 1005.10,247.19 1005.35,246.03 1005.60,244.89 1005.85,243.77 1006.10,242.66 1006.35,241.58 1006.60,240.53 1006.85,239.51 1007.10,238.51 1007.35,237.56 1007.60,236.64 1007.85,235.76 1008.10,234.91 1008.35,234.09 1008.60,233.30 1008.85,232.52 1009.10,231.77 1009.35,231.02 1009.60,230.29 1009.85,229.55 1010.10,228.82 1010.35,228.08 1010.60,227.34 1010.85,226.57 1011.10,225.79 1011.35,224.99 1011.60,224.16 1011.85,223.28 1012.10,222.36 1012.35,221.40 1012.60,220.40 1012.85,219.39 1013.10,218.37 1013.35,217.34 1013.60,216.32 1013.85,215.31 1014.10,214.33 1014.35,213.37 1014.60,212.46 1014.85,211.60 1015.10,210.79 1015.35,210.05 1015.60,209.39 1015.85,208.81 1016.10,208.31 1016.35,207.83 1016.60,207.34 1016.85,206.87 1017.10,206.40 1017.35,205.95 1017.60,205.52 1017.85,205.12 1018.10,204.74 1018.35,204.40 1018.60,204.09 1018.85,203.83 1019.10,203.62 1019.35,203.45 1019.60,203.35 1019.85,203.30 1020.10,203.32 1020.35,203.39 1020.60,203.51 1020.85,203.67 1021.10,203.87 1021.35,204.12 1021.60,204.39 1021.85,204.70 1022.10,205.03 1022.35,205.38 1022.60,205.76 1022.85,206.14 1023.10,206.54 1023.35,206.94 1023.60,207.35 1023.85,207.76 1024.10,208.17 1024.35,208.62 1024.60,209.13 1024.85,209.69 1025.10,210.30 1025.35,210.95 1025.60,211.63 1025.85,212.35 1026.10,213.09 1026.35,213.85 1026.60,214.63 1026.85,215.42 1027.10,216.21 1027.35,217.01 1027.60,217.81 1027.85,218.59 1028.10,219.37 1028.35,220.12 1028.60,220.86 1028.85,221.56 1029.10,222.26 1029.35,222.97 1029.60,223.71 1029.85,224.46 1030.10,225.23 1030.35,226.02 1030.60,226.81 1030.85,227.60 1031.10,228.40 1031.35,229.20 1031.60,230.00 1031.85,230.78 1032.10,231.56 1032.35,232.32 1032.60,233.07 1032.85,233.80 1033.10,234.50 1033.35,235.18 1033.60,235.83 1033.85,236.45 1034.10,237.03 1034.35,237.57 1034.60,238.07 1034.85,238.53 1035.10,238.94 1035.35,239.30 1035.60,239.60 1035.85,239.87 1036.10,240.14 1036.35,240.40 1036.60,240.66 1036.85,240.91 1037.10,241.14 1037.35,241.37 1037.60,241.58 1037.85,241.79 1038.10,241.97 1038.35,242.15 1038.60,242.30 1038.85,242.44 1039.10,242.55 1039.35,242.65 1039.60,242.73 1039.85,242.78 1040.10,242.81 1040.35,242.83 1040.60,242.85 1040.85,242.87 1041.10,242.89 1041.35,242.90 1041.60,242.91 1041.85,242.93 1042.10,242.94 1042.35,242.95 1042.60,242.96 1042.85,242.97 1043.10,242.98 1043.35,243.00 1043.60,243.01 1043.85,243.03 1044.10,243.04 1044.35,243.05 1044.60,243.06 1044.85,243.08 1045.10,243.09 1045.35,243.10 1045.60,243.11 1045.85,243.12 1046.10,243.14 1046.35,243.15 1046.60,243.17 1046.85,243.19 1047.10,243.20 1047.35,243.23 1047.60,243.25 1047.85,243.27 1048.10,243.30 1048.35,243.33 1048.60,243.38 1048.85,243.44 1049.10,243.50 1049.35,243.58 1049.60,243.67 1049.85,243.77 1050.10,243.87 1050.35,243.99 1050.60,244.11 1050.85,244.24 1051.10,244.38 1051.35,244.53 1051.60,244.72 1051.85,244.97 1052.10,245.26 1052.35,245.59 1052.60,245.95 1052.85,246.33 1053.10,246.73 1053.35,247.13 1053.60,247.53 1053.85,247.92 1054.10,248.30 1054.35,248.67 1054.60,249.06 1054.85,249.46 1055.10,249.86 1055.35,250.28 1055.60,250.71 1055.85,251.15 1056.10,251.59 1056.35,252.04 1056.60,252.50 1056.85,252.95 1057.10,253.41 1057.35,253.88 1057.60,254.34 1057.85,254.80 1058.10,255.26 1058.35,255.71 1058.60,256.16 1058.85,256.61 1059.10,257.05 1059.35,257.48 1059.60,257.90 1059.85,258.31 1060.10,258.71 1060.35,259.10 1060.60,259.48 1060.85,259.84 1061.10,260.19 1061.35,260.52 1061.60,260.83 1061.85,261.12 1062.10,261.40 1062.35,261.65 1062.60,261.90 1062.85,262.14 1063.10,262.37 1063.35,262.59 1063.60,262.81 1063.85,263.03 1064.10,263.24 1064.35,263.44 1064.60,263.64 1064.85,263.83 1065.10,264.02 1065.35,264.20 1065.60,264.38 1065.85,264.56 1066.10,264.73 1066.35,264.91 1066.60,265.07 1066.85,265.24 1067.10,265.41 1067.35,265.57 1067.60,265.73 1067.85,265.90 1068.10,266.06 1068.35,266.22 1068.60,266.38 1068.85,266.54 1069.10,266.70 1069.35,266.86 1069.60,267.03 1069.85,267.20 1070.10,267.36 1070.35,267.53 1070.60,267.70 1070.85,267.86 1071.10,268.02 1071.35,268.17 1071.60,268.32 1071.85,268.46 1072.10,268.61 1072.35,268.75 1072.60,268.88 1072.85,269.02 1073.10,269.15 1073.35,269.29 1073.60,269.42 1073.85,269.56 1074.10,269.69 1074.35,269.83 1074.60,269.97 1074.85,270.11 1075.10,270.26 1075.35,270.41 1075.60,270.56 1075.85,270.72 1076.10,270.88 1076.35,271.05 1076.60,271.22 1076.85,271.40 1077.10,271.59 1077.35,271.78 1077.60,271.98 1077.85,272.20 1078.10,272.42 1078.35,272.65 1078.60,272.90 1078.85,273.17 1079.10,273.46 1079.35,273.78 1079.60,274.11 1079.85,274.46 1080.10,274.83 1080.35,275.22 1080.60,275.62 1080.85,276.04 1081.10,276.46 1081.35,276.90 1081.60,277.36 1081.85,277.82 1082.10,278.29 1082.35,278.77 1082.60,279.25 1082.85,279.74 1083.10,280.24 1083.35,280.73 1083.60,281.24 1083.85,281.74 1084.10,282.24 1084.35,282.74 1084.60,283.24 1084.85,283.74 1085.10,284.24 1085.35,284.72 1085.60,285.21 1085.85,285.68 1086.10,286.15 1086.35,286.61 1086.60,287.06 1086.85,287.53 1087.10,287.99 1087.35,288.47 1087.60,288.95 1087.85,289.43 1088.10,289.92 1088.35,290.41 1088.60,290.91 1088.85,291.40 1089.10,291.90 1089.35,292.40 1089.60,292.89 1089.85,293.39 1090.10,293.88 1090.35,294.37 1090.60,294.86 1090.85,295.34 1091.10,295.82 1091.35,296.29 1091.60,296.76 1091.85,297.21 1092.10,297.66 1092.35,298.11 1092.60,298.54 1092.85,298.96 1093.10,299.37 1093.35,299.77 1093.60,300.15 1093.85,300.53 1094.10,300.91 1094.35,301.28 1094.60,301.64 1094.85,302.00 1095.10,302.35 1095.35,302.69 1095.60,303.04 1095.85,303.37 1096.10,303.70 1096.35,304.02 1096.60,304.34 1096.85,304.65 1097.10,304.95 1097.35,305.25 1097.60,305.54 1097.85,305.83 1098.10,306.11 1098.35,306.39 1098.60,306.65 1098.85,306.92 1099.10,307.18 1099.35,307.43 1099.60,307.68 1099.85,307.93 1100.10,308.17 1100.35,308.41 1100.60,308.64 1100.85,308.87 1101.10,309.10 1101.35,309.33 1101.60,309.55 1101.85,309.77 1102.10,309.99 1102.35,310.21 1102.60,310.43 1102.85,310.64 1103.10,310.86 1103.35,311.07 1103.60,311.29 1103.85,311.50 1104.10,311.72 1104.35,311.93 1104.60,312.15 1104.85,312.36 1105.10,312.58 1105.35,312.80 1105.60,313.02 1105.85,313.25 1106.10,313.48 1106.35,313.70 1106.60,313.94 1106.85,314.17 1107.10,314.41 1107.35,314.65 1107.60,314.90 1107.85,315.15 1108.10,315.41 1108.35,315.67 1108.60,315.93 1108.85,316.20 1109.10,316.48 1109.35,316.76 1109.60,317.04 1109.85,317.32 1110.10,317.61 1110.35,317.90 1110.60,318.20 1110.85,318.49 1111.10,318.79 1111.35,319.09 1111.60,319.39 1111.85,319.69 1112.10,320.00 1112.35,320.30 1112.60,320.61 1112.85,320.91 1113.10,321.22 1113.35,321.52 1113.60,321.83 1113.85,322.13 1114.10,322.43 1114.35,322.74 1114.60,323.04 1114.85,323.34 1115.10,323.63 1115.35,323.93 1115.60,324.22 1115.85,324.51 1116.10,324.79 1116.35,325.08 1116.60,325.36 1116.85,325.63 1117.10,325.90 1117.35,326.17 1117.60,326.43 1117.85,326.69 1118.10,326.95 1118.35,327.19 1118.60,327.44 1118.85,327.67 1119.10,327.90 1119.35,328.13 1119.60,328.35 1119.85,328.56 1120.10,328.76 1120.35,328.96 1120.60,329.15 1120.85,329.33 1121.10,329.50 1121.35,329.67 1121.60,329.84 1121.85,330.01 1122.10,330.19 1122.35,330.36 1122.60,330.54 1122.85,330.71 1123.10,330.88 1123.35,331.06 1123.60,331.23 1123.85,331.41 1124.10,331.58 1124.35,331.75 1124.60,331.92 1124.85,332.08 1125.10,332.25 1125.35,332.41 1125.60,332.57 1125.85,332.73 1126.10,332.89 1126.35,333.04 1126.60,333.19 1126.85,333.33 1127.10,333.47 1127.35,333.61 1127.60,333.74 1127.85,333.87 1128.10,333.99 1128.35,334.11 1128.60,334.22 1128.85,334.33 1129.10,334.43 1129.35,334.53 1129.60,334.61 1129.85,334.70 1130.10,334.77 1130.35,334.84 1130.60,334.90 1130.85,334.95 1131.10,335.00 1131.35,335.04 1131.60,335.06 1131.85,335.09 1132.10,335.10 1132.35,335.10 1132.60,335.10 1132.85,335.09 1133.10,335.08 1133.35,335.06 1133.60,335.04 1133.85,335.01 1134.10,334.98 1134.35,334.95 1134.60,334.92 1134.85,334.88 1135.10,334.84 1135.35,334.80 1135.60,334.76 1135.85,334.71 1136.10,334.67 1136.35,334.62 1136.60,334.57 1136.85,334.53 1137.10,334.48 1137.35,334.43 1137.60,334.38 1137.85,334.33 1138.10,334.29 1138.35,334.24 1138.60,334.20 1138.85,334.16 1139.10,334.12 1139.35,334.08 1139.60,334.05 1139.85,334.02 1140.10,333.99 1140.35,333.96 1140.60,333.93 1140.85,333.90 1141.10,333.87 1141.35,333.84 1141.60,333.81 1141.85,333.78 1142.10,333.75 1142.35,333.72 1142.60,333.68 1142.85,333.65 1143.10,333.62 1143.35,333.59 1143.60,333.56 1143.85,333.53 1144.10,333.51 1144.35,333.48 1144.60,333.45 1144.85,333.42 1145.10,333.40 1145.35,333.38 1145.60,333.35 1145.85,333.33 1146.10,333.31 1146.35,333.29 1146.60,333.27 1146.85,333.26 1147.10,333.24 1147.35,333.23 1147.60,333.22 1147.85,333.21 1148.10,333.21 1148.35,333.20 1148.60,333.20 1148.85,333.20 1149.10,333.20 1149.35,333.20 1149.60,333.20 1149.85,333.20 1150.10,333.20 1150.35,333.20 1150.60,333.20 1150.85,333.20 1151.10,333.20 1151.35,333.20 1151.60,333.20 1151.85,333.20 1152.10,333.20 1152.35,333.20 1152.60,333.20 1152.85,333.20 1153.10,333.20 1153.35,333.20 1153.60,333.20 1153.85,333.20 1154.10,333.20 1154.35,333.20 1154.60,333.20 1154.85,333.20 1155.10,333.20 1155.35,333.20 1155.60,333.20 1155.85,333.20 1156.10,333.20 1156.35,333.20 1156.60,333.20 1156.85,333.20 1157.10,333.20 1157.35,333.20 1157.60,333.20 1157.85,333.20 1158.10,333.21 1158.35,333.21 1158.60,333.22 1158.85,333.23 1159.10,333.24 1159.35,333.25 1159.60,333.27 1159.85,333.28 1160.10,333.30 1160.35,333.32 1160.60,333.34 1160.85,333.36 1161.10,333.38 1161.35,333.41 1161.60,333.44 1161.85,333.46 1162.10,333.49 1162.35,333.52 1162.60,333.55 1162.85,333.58 1163.10,333.62 1163.35,333.65 1163.60,333.69 1163.85,333.72 1164.10,333.76 1164.35,333.80 1164.60,333.83 1164.85,333.87 1165.10,333.91 1165.35,333.95 1165.60,333.99 1165.85,334.03 1166.10,334.08 1166.35,334.12 1166.60,334.16 1166.85,334.20 1167.10,334.25 1167.35,334.29 1167.60,334.33 1167.85,334.38 1168.10,334.42 1168.35,334.47 1168.60,334.51 1168.85,334.56 1169.10,334.60 1169.35,334.65 1169.60,334.70 1169.85,334.76 1170.10,334.82 1170.35,334.89 1170.60,334.96 1170.85,335.04 1171.10,335.12 1171.35,335.21 1171.60,335.29 1171.85,335.38 1172.10,335.47 1172.35,335.56 1172.60,335.66 1172.85,335.75 1173.10,335.85 1173.35,335.95 1173.60,336.04 1173.85,336.14 1174.10,336.23 1174.35,336.33 1174.60,336.42 1174.85,336.51 1175.10,336.60 1175.35,336.68 1175.60,336.76 1175.85,336.84 1176.10,336.91 1176.35,336.98 1176.60,337.05 1176.85,337.11 1177.10,337.16 1177.35,337.21 1177.60,337.26 1177.85,337.29 1178.10,337.33 1178.35,337.36 1178.60,337.39 1178.85,337.42 1179.10,337.45 1179.35,337.48 1179.60,337.51 1179.85,337.54 1180.10,337.57 1180.35,337.60 1180.60,337.62 1180.85,337.65 1181.10,337.68 1181.35,337.70 1181.60,337.73 1181.85,337.75 1182.10,337.77 1182.35,337.80 1182.60,337.82 1182.85,337.84 1183.10,337.86 1183.35,337.88 1183.60,337.89 1183.85,337.91 1184.10,337.93 1184.35,337.94 1184.60,337.95 1184.85,337.96 1185.10,337.97 1185.35,337.98 1185.60,337.99 1185.85,337.99 1186.10,338.00 1186.35,338.00 1186.60,338.00 1186.85,337.99 1187.10,337.97 1187.35,337.94 1187.60,337.89 1187.85,337.83 1188.10,337.76 1188.35,337.68 1188.60,337.59 1188.85,337.49 1189.10,337.38 1189.35,337.27 1189.60,337.15 1189.85,337.02 1190.10,336.89 1190.35,336.76 1190.60,336.62 1190.85,336.48 1191.10,336.33 1191.35,336.19 1191.60,336.04 1191.85,335.90 1192.10,335.75 1192.35,335.61 1192.60,335.47 1192.85,335.33 1193.10,335.20 1193.35,335.07 1193.60,334.95 1193.85,334.83 1194.10,334.72 1194.35,334.62 1194.60,334.53 1194.85,334.45 1195.10,334.37 1195.35,334.31 1195.60,334.26 1195.85,334.20 1196.10,334.15 1196.35,334.09 1196.60,334.04 1196.85,333.98 1197.10,333.93 1197.35,333.88 1197.60,333.83 1197.85,333.78 1198.10,333.73 1198.35,333.68 1198.60,333.63 1198.85,333.59 1199.10,333.54 1199.35,333.50 1199.60,333.46 1199.85,333.42 1200.10,333.39 1200.35,333.36 1200.60,333.33 1200.85,333.30 1201.10,333.28 1201.35,333.25 1201.60,333.24 1201.85,333.22 1202.10,333.21 1202.35,333.20 1202.60,333.20 1202.85,333.20 1203.10,333.20 1203.35,333.20 1203.60,333.20 1203.85,333.20 1204.10,333.20 1204.35,333.20 1204.60,333.20 1204.85,333.20 1205.10,333.20 1205.35,333.20 1205.60,333.20 1205.85,333.20 1206.10,333.20 1206.35,333.20 1206.60,333.20 1206.85,333.20 1207.10,333.20 1207.35,333.20 1207.60,333.20 1207.85,333.20 1208.10,333.20 1208.35,333.20 1208.60,333.20 1208.85,333.20 1209.10,333.20 1209.35,333.20 1209.60,333.20 1209.85,333.20 1210.10,333.20 1210.35,333.20 1210.60,333.20 1210.85,333.20 1211.10,333.20" fill="none" stroke="#000" stroke-width="2.6" stroke-linejoin="round" stroke-linecap="round"/>
<polyline points="761.10,341.70 761.35,341.68 761.60,341.66 761.85,341.64 762.10,341.61 762.35,341.59 762.60,341.57 762.85,341.55 763.10,341.53 763.35,341.51 763.60,341.49 763.85,341.47 764.10,341.45 764.35,341.43 764.60,341.41 764.85,341.39 765.10,341.37 765.35,341.35 765.60,341.33 765.85,341.31 766.10,341.29 766.35,341.27 766.60,341.24 766.85,341.22 767.10,341.20 767.35,341.18 767.60,341.16 767.85,341.14 768.10,341.12 768.35,341.10 768.60,341.08 768.85,341.06 769.10,341.04 769.35,341.02 769.60,341.00 769.85,340.98 770.10,340.95 770.35,340.93 770.60,340.91 770.85,340.89 771.10,340.87 771.35,340.84 771.60,340.82 771.85,340.80 772.10,340.78 772.35,340.75 772.60,340.73 772.85,340.71 773.10,340.69 773.35,340.66 773.60,340.64 773.85,340.61 774.10,340.59 774.35,340.56 774.60,340.54 774.85,340.52 775.10,340.49 775.35,340.46 775.60,340.44 775.85,340.41 776.10,340.39 776.35,340.36 776.60,340.34 776.85,340.31 777.10,340.28 777.35,340.26 777.60,340.23 777.85,340.20 778.10,340.18 778.35,340.15 778.60,340.12 778.85,340.10 779.10,340.07 779.35,340.04 779.60,340.01 779.85,339.98 780.10,339.95 780.35,339.92 780.60,339.89 780.85,339.86 781.10,339.83 781.35,339.80 781.60,339.77 781.85,339.74 782.10,339.71 782.35,339.68 782.60,339.64 782.85,339.61 783.10,339.58 783.35,339.54 783.60,339.51 783.85,339.47 784.10,339.43 784.35,339.40 784.60,339.36 784.85,339.32 785.10,339.28 785.35,339.25 785.60,339.20 785.85,339.16 786.10,339.12 786.35,339.08 786.60,339.03 786.85,338.98 787.10,338.94 787.35,338.89 787.60,338.84 787.85,338.79 788.10,338.74 788.35,338.68 788.60,338.63 788.85,338.58 789.10,338.52 789.35,338.47 789.60,338.41 789.85,338.35 790.10,338.29 790.35,338.24 790.60,338.18 790.85,338.12 791.10,338.05 791.35,337.99 791.60,337.93 791.85,337.87 792.10,337.80 792.35,337.74 792.60,337.67 792.85,337.60 793.10,337.53 793.35,337.46 793.60,337.39 793.85,337.31 794.10,337.23 794.35,337.16 794.60,337.07 794.85,336.99 795.10,336.91 795.35,336.82 795.60,336.73 795.85,336.63 796.10,336.54 796.35,336.44 796.60,336.34 796.85,336.23 797.10,336.11 797.35,336.00 797.60,335.87 797.85,335.75 798.10,335.62 798.35,335.48 798.60,335.34 798.85,335.20 799.10,335.06 799.35,334.91 799.60,334.76 799.85,334.60 800.10,334.44 800.35,334.28 800.60,334.12 800.85,333.96 801.10,333.79 801.35,333.62 801.60,333.45 801.85,333.28 802.10,333.10 802.35,332.93 802.60,332.75 802.85,332.58 803.10,332.40 803.35,332.22 803.60,332.04 803.85,331.86 804.10,331.68 804.35,331.51 804.60,331.33 804.85,331.15 805.10,330.97 805.35,330.79 805.60,330.62 805.85,330.45 806.10,330.29 806.35,330.12 806.60,329.95 806.85,329.79 807.10,329.62 807.35,329.45 807.60,329.28 807.85,329.10 808.10,328.92 808.35,328.73 808.60,328.54 808.85,328.34 809.10,328.13 809.35,327.91 809.60,327.68 809.85,327.44 810.10,327.18 810.35,326.92 810.60,326.64 810.85,326.34 811.10,326.01 811.35,325.64 811.60,325.23 811.85,324.79 812.10,324.31 812.35,323.80 812.60,323.27 812.85,322.70 813.10,322.12 813.35,321.51 813.60,320.89 813.85,320.25 814.10,319.60 814.35,318.91 814.60,318.16 814.85,317.35 815.10,316.50 815.35,315.61 815.60,314.69 815.85,313.74 816.10,312.77 816.35,311.78 816.60,310.79 816.85,309.80 817.10,308.79 817.35,307.74 817.60,306.65 817.85,305.53 818.10,304.40 818.35,303.26 818.60,302.13 818.85,301.01 819.10,299.93 819.35,298.88 819.60,297.88 819.85,296.89 820.10,295.87 820.35,294.77 820.60,293.64 820.85,292.50 821.10,291.34 821.35,290.13 821.60,288.88 821.85,287.55 822.10,286.13 822.35,284.62 822.60,283.00 822.85,281.20 823.10,279.17 823.35,276.97 823.60,274.61 823.85,272.12 824.10,269.55 824.35,266.91 824.60,264.25 824.85,261.58 825.10,258.93 825.35,256.05 825.60,252.96 825.85,249.71 826.10,246.36 826.35,242.99 826.60,239.64 826.85,236.38 827.10,233.27 827.35,230.38 827.60,227.76 827.85,225.48 828.10,223.60 828.35,221.97 828.60,220.42 828.85,218.94 829.10,217.53 829.35,216.19 829.60,214.94 829.85,213.76 830.10,212.66 830.35,211.63 830.60,210.69 830.85,209.84 831.10,209.06 831.35,208.37 831.60,207.76 831.85,207.17 832.10,206.59 832.35,206.01 832.60,205.46 832.85,204.92 833.10,204.41 833.35,203.93 833.60,203.49 833.85,203.08 834.10,202.72 834.35,202.40 834.60,202.14 834.85,201.93 835.10,201.79 835.35,201.71 835.60,201.71 835.85,201.78 836.10,201.94 836.35,202.17 836.60,202.47 836.85,202.83 837.10,203.24 837.35,203.71 837.60,204.21 837.85,204.75 838.10,205.32 838.35,205.91 838.60,206.51 838.85,207.13 839.10,207.75 839.35,208.39 839.60,209.09 839.85,209.88 840.10,210.74 840.35,211.67 840.60,212.68 840.85,213.75 841.10,214.89 841.35,216.09 841.60,217.36 841.85,218.68 842.10,220.07 842.35,221.50 842.60,222.99 842.85,224.56 843.10,226.33 843.35,228.30 843.60,230.45 843.85,232.75 844.10,235.18 844.35,237.73 844.60,240.37 844.85,243.07 845.10,245.83 845.35,248.61 845.60,251.40 845.85,254.18 846.10,256.92 846.35,259.65 846.60,262.53 846.85,265.53 847.10,268.61 847.35,271.72 847.60,274.80 847.85,277.82 848.10,280.72 848.35,283.46 848.60,285.98 848.85,288.30 849.10,290.50 849.35,292.67 849.60,294.90 849.85,297.18 850.10,299.46 850.35,301.70 850.60,303.87 850.85,306.09 851.10,308.28 851.35,310.30 851.60,312.00 851.85,313.45 852.10,314.79 852.35,316.01 852.60,317.09 852.85,318.02 853.10,318.79 853.35,319.49 853.60,320.15 853.85,320.75 854.10,321.31 854.35,321.82 854.60,322.28 854.85,322.69 855.10,323.05 855.35,323.36 855.60,323.64 855.85,323.92 856.10,324.18 856.35,324.44 856.60,324.68 856.85,324.91 857.10,325.13 857.35,325.34 857.60,325.54 857.85,325.73 858.10,325.90 858.35,326.07 858.60,326.23 858.85,326.38 859.10,326.51 859.35,326.64 859.60,326.76 859.85,326.87 860.10,326.96 860.35,327.05 860.60,327.14 860.85,327.23 861.10,327.31 861.35,327.39 861.60,327.47 861.85,327.55 862.10,327.62 862.35,327.70 862.60,327.77 862.85,327.84 863.10,327.91 863.35,327.97 863.60,328.03 863.85,328.10 864.10,328.16 864.35,328.21 864.60,328.27 864.85,328.32 865.10,328.37 865.35,328.42 865.60,328.47 865.85,328.52 866.10,328.56 866.35,328.60 866.60,328.64 866.85,328.68 867.10,328.71 867.35,328.74 867.60,328.78 867.85,328.80 868.10,328.83 868.35,328.85 868.60,328.88 868.85,328.90 869.10,328.91 869.35,328.93 869.60,328.95 869.85,328.97 870.10,328.99 870.35,329.00 870.60,329.02 870.85,329.04 871.10,329.05 871.35,329.07 871.60,329.08 871.85,329.10 872.10,329.11 872.35,329.13 872.60,329.14 872.85,329.15 873.10,329.17 873.35,329.18 873.60,329.19 873.85,329.20 874.10,329.21 874.35,329.22 874.60,329.23 874.85,329.24 875.10,329.25 875.35,329.26 875.60,329.27 875.85,329.27 876.10,329.28 876.35,329.28 876.60,329.29 876.85,329.29 877.10,329.29 877.35,329.30 877.60,329.30 877.85,329.30 878.10,329.30 878.35,329.29 878.60,329.28 878.85,329.26 879.10,329.23 879.35,329.20 879.60,329.16 879.85,329.11 880.10,329.06 880.35,329.00 880.60,328.94 880.85,328.87 881.10,328.80 881.35,328.72 881.60,328.63 881.85,328.54 882.10,328.45 882.35,328.35 882.60,328.25 882.85,328.14 883.10,328.03 883.35,327.92 883.60,327.80 883.85,327.68 884.10,327.56 884.35,327.43 884.60,327.30 884.85,327.17 885.10,327.03 885.35,326.89 885.60,326.75 885.85,326.61 886.10,326.47 886.35,326.32 886.60,326.17 886.85,326.02 887.10,325.87 887.35,325.72 887.60,325.57 887.85,325.42 888.10,325.26 888.35,325.11 888.60,324.96 888.85,324.80 889.10,324.65 889.35,324.50 889.60,324.34 889.85,324.19 890.10,324.04 890.35,323.89 890.60,323.74 890.85,323.59 891.10,323.45 891.35,323.30 891.60,323.16 891.85,323.02 892.10,322.88 892.35,322.75 892.60,322.61 892.85,322.48 893.10,322.35 893.35,322.23 893.60,322.11 893.85,321.99 894.10,321.88 894.35,321.76 894.60,321.66 894.85,321.55 895.10,321.45 895.35,321.35 895.60,321.25 895.85,321.16 896.10,321.06 896.35,320.97 896.60,320.87 896.85,320.78 897.10,320.68 897.35,320.59 897.60,320.49 897.85,320.39 898.10,320.29 898.35,320.19 898.60,320.09 898.85,319.98 899.10,319.87 899.35,319.76 899.60,319.65 899.85,319.53 900.10,319.41 900.35,319.28 900.60,319.15 900.85,319.02 901.10,318.88 901.35,318.75 901.60,318.60 901.85,318.46 902.10,318.32 902.35,318.17 902.60,318.02 902.85,317.87 903.10,317.72 903.35,317.57 903.60,317.42 903.85,317.27 904.10,317.11 904.35,316.96 904.60,316.81 904.85,316.65 905.10,316.50 905.35,316.35 905.60,316.20 905.85,316.05 906.10,315.90 906.35,315.75 906.60,315.60 906.85,315.44 907.10,315.29 907.35,315.14 907.60,314.98 907.85,314.83 908.10,314.67 908.35,314.52 908.60,314.36 908.85,314.20 909.10,314.05 909.35,313.89 909.60,313.73 909.85,313.57 910.10,313.41 910.35,313.26 910.60,313.10 910.85,312.94 911.10,312.78 911.35,312.62 911.60,312.46 911.85,312.30 912.10,312.14 912.35,311.98 912.60,311.83 912.85,311.67 913.10,311.53 913.35,311.38 913.60,311.24 913.85,311.09 914.10,310.95 914.35,310.81 914.60,310.67 914.85,310.52 915.10,310.38 915.35,310.23 915.60,310.09 915.85,309.94 916.10,309.78 916.35,309.63 916.60,309.47 916.85,309.31 917.10,309.14 917.35,308.97 917.60,308.79 917.85,308.60 918.10,308.41 918.35,308.21 918.60,308.01 918.85,307.80 919.10,307.58 919.35,307.35 919.60,307.10 919.85,306.84 920.10,306.56 920.35,306.25 920.60,305.93 920.85,305.59 921.10,305.24 921.35,304.87 921.60,304.49 921.85,304.09 922.10,303.68 922.35,303.26 922.60,302.83 922.85,302.37 923.10,301.90 923.35,301.40 923.60,300.87 923.85,300.32 924.10,299.73 924.35,299.13 924.60,298.49 924.85,297.82 925.10,297.11 925.35,296.33 925.60,295.48 925.85,294.57 926.10,293.61 926.35,292.62 926.60,291.61 926.85,290.60 927.10,289.60 927.35,288.58 927.60,287.55 927.85,286.50 928.10,285.44 928.35,284.36 928.60,283.26 928.85,282.16 929.10,281.04 929.35,279.91 929.60,278.77 929.85,277.62 930.10,276.47 930.35,275.30 930.60,274.13 930.85,272.96 931.10,271.77 931.35,270.57 931.60,269.29 931.85,267.93 932.10,266.52 932.35,265.06 932.60,263.58 932.85,262.08 933.10,260.60 933.35,259.14 933.60,257.71 933.85,256.34 934.10,255.03 934.35,253.82 934.60,252.70 934.85,251.70 935.10,250.84 935.35,250.12 935.60,249.53 935.85,248.95 936.10,248.41 936.35,247.89 936.60,247.40 936.85,246.94 937.10,246.51 937.35,246.11 937.60,245.75 937.85,245.42 938.10,245.12 938.35,244.86 938.60,244.65 938.85,244.47 939.10,244.30 939.35,244.14 939.60,243.99 939.85,243.84 940.10,243.70 940.35,243.57 940.60,243.45 940.85,243.34 941.10,243.25 941.35,243.16 941.60,243.10 941.85,243.05 942.10,243.01 942.35,243.00 942.60,243.02 942.85,243.09 943.10,243.20 943.35,243.37 943.60,243.57 943.85,243.82 944.10,244.10 944.35,244.41 944.60,244.75 944.85,245.11 945.10,245.50 945.35,245.90 945.60,246.31 945.85,246.74 946.10,247.18 946.35,247.74 946.60,248.40 946.85,249.18 947.10,250.04 947.35,250.97 947.60,251.97 947.85,253.01 948.10,254.09 948.35,255.18 948.60,256.28 948.85,257.36 949.10,258.43 949.35,259.57 949.60,260.79 949.85,262.07 950.10,263.40 950.35,264.76 950.60,266.14 950.85,267.52 951.10,268.89 951.35,270.23 951.60,271.53 951.85,272.77 952.10,273.93 952.35,275.00 952.60,275.98 952.85,276.89 953.10,277.74 953.35,278.55 953.60,279.33 953.85,280.08 954.10,280.81 954.35,281.54 954.60,282.26 954.85,283.00 955.10,283.75 955.35,284.52 955.60,285.33 955.85,286.19 956.10,287.08 956.35,287.99 956.60,288.88 956.85,289.75 957.10,290.56 957.35,291.30 957.60,291.95 957.85,292.57 958.10,293.17 958.35,293.74 958.60,294.29 958.85,294.82 959.10,295.31 959.35,295.78 959.60,296.21 959.85,296.61 960.10,296.97 960.35,297.29 960.60,297.62 960.85,297.94 961.10,298.26 961.35,298.57 961.60,298.86 961.85,299.15 962.10,299.42 962.35,299.68 962.60,299.92 962.85,300.13 963.10,300.32 963.35,300.48 963.60,300.61 963.85,300.72 964.10,300.78 964.35,300.82 964.60,300.85 964.85,300.88 965.10,300.91 965.35,300.94 965.60,300.97 965.85,300.99 966.10,301.01 966.35,301.03 966.60,301.05 966.85,301.06 967.10,301.07 967.35,301.08 967.60,301.09 967.85,301.10 968.10,301.10 968.35,301.09 968.60,301.05 968.85,300.98 969.10,300.88 969.35,300.76 969.60,300.62 969.85,300.46 970.10,300.28 970.35,300.10 970.60,299.91 970.85,299.72 971.10,299.53 971.35,299.34 971.60,299.17 971.85,299.00 972.10,298.83 972.35,298.66 972.60,298.49 972.85,298.31 973.10,298.13 973.35,297.95 973.60,297.76 973.85,297.57 974.10,297.38 974.35,297.18 974.60,296.99 974.85,296.79 975.10,296.58 975.35,296.38 975.60,296.17 975.85,295.96 976.10,295.75 976.35,295.54 976.60,295.32 976.85,295.10 977.10,294.88 977.35,294.66 977.60,294.43 977.85,294.20 978.10,293.98 978.35,293.75 978.60,293.51 978.85,293.28 979.10,293.05 979.35,292.81 979.60,292.57 979.85,292.33 980.10,292.09 980.35,291.84 980.60,291.59 980.85,291.34 981.10,291.08 981.35,290.83 981.60,290.56 981.85,290.30 982.10,290.03 982.35,289.76 982.60,289.48 982.85,289.20 983.10,288.91 983.35,288.62 983.60,288.32 983.85,288.02 984.10,287.72 984.35,287.40 984.60,287.09 984.85,286.76 985.10,286.43 985.35,286.10 985.60,285.75 985.85,285.39 986.10,285.03 986.35,284.65 986.60,284.26 986.85,283.87 987.10,283.46 987.35,283.05 987.60,282.63 987.85,282.20 988.10,281.77 988.35,281.33 988.60,280.88 988.85,280.43 989.10,279.98 989.35,279.51 989.60,279.05 989.85,278.58 990.10,278.10 990.35,277.63 990.60,277.15 990.85,276.66 991.10,276.18 991.35,275.69 991.60,275.20 991.85,274.71 992.10,274.22 992.35,273.72 992.60,273.21 992.85,272.70 993.10,272.17 993.35,271.64 993.60,271.09 993.85,270.53 994.10,269.95 994.35,269.36 994.60,268.75 994.85,268.13 995.10,267.48 995.35,266.83 995.60,266.15 995.85,265.44 996.10,264.69 996.35,263.91 996.60,263.07 996.85,262.18 997.10,261.21 997.35,260.12 997.60,258.93 997.85,257.66 998.10,256.35 998.35,255.00 998.60,253.64 998.85,252.30 999.10,251.00 999.35,249.76 999.60,248.54 999.85,247.32 1000.10,246.11 1000.35,244.90 1000.60,243.69 1000.85,242.49 1001.10,241.28 1001.35,240.08 1001.60,238.89 1001.85,237.69 1002.10,236.51 1002.35,235.32 1002.60,234.14 1002.85,232.96 1003.10,231.79 1003.35,230.62 1003.60,229.46 1003.85,228.30 1004.10,227.15 1004.35,226.00 1004.60,224.86 1004.85,223.73 1005.10,222.60 1005.35,221.48 1005.60,220.36 1005.85,219.26 1006.10,218.17 1006.35,217.09 1006.60,216.02 1006.85,214.96 1007.10,213.90 1007.35,212.85 1007.60,211.81 1007.85,210.77 1008.10,209.74 1008.35,208.70 1008.60,207.68 1008.85,206.65 1009.10,205.62 1009.35,204.59 1009.60,203.56 1009.85,202.53 1010.10,201.50 1010.35,200.46 1010.60,199.42 1010.85,198.37 1011.10,197.32 1011.35,196.25 1011.60,195.19 1011.85,194.11 1012.10,193.02 1012.35,191.92 1012.60,190.81 1012.85,189.69 1013.10,188.56 1013.35,187.39 1013.60,186.11 1013.85,184.75 1014.10,183.32 1014.35,181.86 1014.60,180.40 1014.85,178.96 1015.10,177.57 1015.35,176.25 1015.60,175.04 1015.85,173.97 1016.10,173.06 1016.35,172.33 1016.60,171.81 1016.85,171.33 1017.10,170.87 1017.35,170.43 1017.60,170.01 1017.85,169.62 1018.10,169.26 1018.35,168.93 1018.60,168.64 1018.85,168.40 1019.10,168.19 1019.35,168.04 1019.60,167.94 1019.85,167.90 1020.10,167.92 1020.35,167.99 1020.60,168.11 1020.85,168.29 1021.10,168.50 1021.35,168.76 1021.60,169.05 1021.85,169.37 1022.10,169.72 1022.35,170.09 1022.60,170.48 1022.85,170.89 1023.10,171.31 1023.35,171.74 1023.60,172.18 1023.85,172.73 1024.10,173.39 1024.35,174.15 1024.60,175.00 1024.85,175.93 1025.10,176.92 1025.35,177.97 1025.60,179.05 1025.85,180.17 1026.10,181.30 1026.35,182.43 1026.60,183.56 1026.85,184.66 1027.10,185.74 1027.35,186.76 1027.60,187.73 1027.85,188.65 1028.10,189.58 1028.35,190.53 1028.60,191.51 1028.85,192.49 1029.10,193.49 1029.35,194.50 1029.60,195.51 1029.85,196.53 1030.10,197.56 1030.35,198.58 1030.60,199.59 1030.85,200.60 1031.10,201.60 1031.35,202.59 1031.60,203.57 1031.85,204.53 1032.10,205.47 1032.35,206.38 1032.60,207.27 1032.85,208.13 1033.10,208.96 1033.35,209.76 1033.60,210.52 1033.85,211.25 1034.10,211.93 1034.35,212.57 1034.60,213.16 1034.85,213.70 1035.10,214.19 1035.35,214.62 1035.60,215.00 1035.85,215.34 1036.10,215.65 1036.35,215.95 1036.60,216.23 1036.85,216.50 1037.10,216.75 1037.35,216.99 1037.60,217.22 1037.85,217.44 1038.10,217.65 1038.35,217.85 1038.60,218.05 1038.85,218.24 1039.10,218.43 1039.35,218.61 1039.60,218.80 1039.85,218.99 1040.10,219.18 1040.35,219.38 1040.60,219.59 1040.85,219.81 1041.10,220.02 1041.35,220.24 1041.60,220.44 1041.85,220.64 1042.10,220.81 1042.35,220.97 1042.60,221.10 1042.85,221.20 1043.10,221.27 1043.35,221.30 1043.60,221.28 1043.85,221.20 1044.10,221.09 1044.35,220.94 1044.60,220.77 1044.85,220.60 1045.10,220.43 1045.35,220.29 1045.60,220.18 1045.85,220.11 1046.10,220.10 1046.35,220.11 1046.60,220.12 1046.85,220.15 1047.10,220.18 1047.35,220.22 1047.60,220.26 1047.85,220.31 1048.10,220.37 1048.35,220.43 1048.60,220.49 1048.85,220.56 1049.10,220.63 1049.35,220.76 1049.60,220.93 1049.85,221.15 1050.10,221.41 1050.35,221.71 1050.60,222.05 1050.85,222.41 1051.10,222.79 1051.35,223.20 1051.60,223.62 1051.85,224.04 1052.10,224.48 1052.35,224.91 1052.60,225.34 1052.85,225.76 1053.10,226.16 1053.35,226.59 1053.60,227.03 1053.85,227.49 1054.10,227.97 1054.35,228.46 1054.60,228.96 1054.85,229.47 1055.10,229.99 1055.35,230.52 1055.60,231.05 1055.85,231.58 1056.10,232.11 1056.35,232.64 1056.60,233.17 1056.85,233.69 1057.10,234.20 1057.35,234.72 1057.60,235.23 1057.85,235.75 1058.10,236.27 1058.35,236.79 1058.60,237.31 1058.85,237.84 1059.10,238.36 1059.35,238.89 1059.60,239.41 1059.85,239.94 1060.10,240.47 1060.35,241.00 1060.60,241.53 1060.85,242.06 1061.10,242.59 1061.35,243.12 1061.60,243.65 1061.85,244.18 1062.10,244.71 1062.35,245.25 1062.60,245.80 1062.85,246.36 1063.10,246.92 1063.35,247.49 1063.60,248.06 1063.85,248.62 1064.10,249.19 1064.35,249.76 1064.60,250.32 1064.85,250.87 1065.10,251.42 1065.35,251.96 1065.60,252.48 1065.85,253.00 1066.10,253.49 1066.35,253.98 1066.60,254.44 1066.85,254.89 1067.10,255.32 1067.35,255.74 1067.60,256.15 1067.85,256.55 1068.10,256.94 1068.35,257.32 1068.60,257.70 1068.85,258.07 1069.10,258.43 1069.35,258.79 1069.60,259.15 1069.85,259.50 1070.10,259.85 1070.35,260.19 1070.60,260.54 1070.85,260.89 1071.10,261.23 1071.35,261.58 1071.60,261.93 1071.85,262.29 1072.10,262.64 1072.35,263.00 1072.60,263.34 1072.85,263.69 1073.10,264.03 1073.35,264.37 1073.60,264.70 1073.85,265.03 1074.10,265.36 1074.35,265.69 1074.60,266.02 1074.85,266.35 1075.10,266.67 1075.35,267.00 1075.60,267.32 1075.85,267.65 1076.10,267.97 1076.35,268.30 1076.60,268.63 1076.85,268.96 1077.10,269.30 1077.35,269.64 1077.60,269.98 1077.85,270.32 1078.10,270.67 1078.35,271.03 1078.60,271.38 1078.85,271.75 1079.10,272.12 1079.35,272.49 1079.60,272.87 1079.85,273.26 1080.10,273.66 1080.35,274.06 1080.60,274.48 1080.85,274.90 1081.10,275.33 1081.35,275.76 1081.60,276.21 1081.85,276.66 1082.10,277.11 1082.35,277.57 1082.60,278.04 1082.85,278.51 1083.10,278.99 1083.35,279.47 1083.60,279.95 1083.85,280.44 1084.10,280.93 1084.35,281.42 1084.60,281.91 1084.85,282.41 1085.10,282.91 1085.35,283.40 1085.60,283.90 1085.85,284.40 1086.10,284.90 1086.35,285.39 1086.60,285.89 1086.85,286.38 1087.10,286.87 1087.35,287.36 1087.60,287.85 1087.85,288.33 1088.10,288.81 1088.35,289.29 1088.60,289.76 1088.85,290.22 1089.10,290.68 1089.35,291.15 1089.60,291.61 1089.85,292.07 1090.10,292.54 1090.35,293.00 1090.60,293.47 1090.85,293.93 1091.10,294.40 1091.35,294.86 1091.60,295.31 1091.85,295.77 1092.10,296.22 1092.35,296.67 1092.60,297.12 1092.85,297.55 1093.10,297.99 1093.35,298.42 1093.60,298.84 1093.85,299.25 1094.10,299.66 1094.35,300.07 1094.60,300.48 1094.85,300.89 1095.10,301.30 1095.35,301.71 1095.60,302.11 1095.85,302.52 1096.10,302.91 1096.35,303.30 1096.60,303.69 1096.85,304.06 1097.10,304.43 1097.35,304.79 1097.60,305.13 1097.85,305.47 1098.10,305.79 1098.35,306.09 1098.60,306.39 1098.85,306.67 1099.10,306.94 1099.35,307.21 1099.60,307.47 1099.85,307.73 1100.10,307.98 1100.35,308.22 1100.60,308.45 1100.85,308.67 1101.10,308.87 1101.35,309.07 1101.60,309.25 1101.85,309.41 1102.10,309.56 1102.35,309.70 1102.60,309.84 1102.85,309.97 1103.10,310.09 1103.35,310.21 1103.60,310.33 1103.85,310.44 1104.10,310.54 1104.35,310.64 1104.60,310.73 1104.85,310.81 1105.10,310.89 1105.35,310.96 1105.60,311.03 1105.85,311.09 1106.10,311.15 1106.35,311.21 1106.60,311.27 1106.85,311.33 1107.10,311.39 1107.35,311.44 1107.60,311.50 1107.85,311.54 1108.10,311.58 1108.35,311.62 1108.60,311.65 1108.85,311.67 1109.10,311.69 1109.35,311.70 1109.60,311.70 1109.85,311.69 1110.10,311.68 1110.35,311.65 1110.60,311.62 1110.85,311.58 1111.10,311.54 1111.35,311.48 1111.60,311.43 1111.85,311.36 1112.10,311.29 1112.35,311.21 1112.60,311.13 1112.85,311.05 1113.10,310.96 1113.35,310.86 1113.60,310.76 1113.85,310.66 1114.10,310.55 1114.35,310.41 1114.60,310.22 1114.85,309.98 1115.10,309.71 1115.35,309.41 1115.60,309.07 1115.85,308.70 1116.10,308.31 1116.35,307.89 1116.60,307.45 1116.85,306.99 1117.10,306.51 1117.35,306.02 1117.60,305.53 1117.85,305.02 1118.10,304.51 1118.35,304.00 1118.60,303.47 1118.85,302.88 1119.10,302.23 1119.35,301.54 1119.60,300.80 1119.85,300.04 1120.10,299.24 1120.35,298.44 1120.60,297.62 1120.85,296.80 1121.10,295.99 1121.35,295.18 1121.60,294.40 1121.85,293.65 1122.10,292.89 1122.35,292.12 1122.60,291.33 1122.85,290.53 1123.10,289.73 1123.35,288.94 1123.60,288.15 1123.85,287.38 1124.10,286.63 1124.35,285.90 1124.60,285.21 1124.85,284.55 1125.10,283.93 1125.35,283.35 1125.60,282.78 1125.85,282.21 1126.10,281.65 1126.35,281.10 1126.60,280.56 1126.85,280.05 1127.10,279.56 1127.35,279.10 1127.60,278.68 1127.85,278.29 1128.10,277.95 1128.35,277.65 1128.60,277.40 1128.85,277.16 1129.10,276.93 1129.35,276.69 1129.60,276.47 1129.85,276.26 1130.10,276.06 1130.35,275.88 1130.60,275.72 1130.85,275.58 1131.10,275.47 1131.35,275.38 1131.60,275.33 1131.85,275.30 1132.10,275.31 1132.35,275.37 1132.60,275.45 1132.85,275.58 1133.10,275.73 1133.35,275.91 1133.60,276.11 1133.85,276.33 1134.10,276.57 1134.35,276.82 1134.60,277.07 1134.85,277.34 1135.10,277.61 1135.35,277.95 1135.60,278.36 1135.85,278.83 1136.10,279.35 1136.35,279.90 1136.60,280.48 1136.85,281.07 1137.10,281.67 1137.35,282.26 1137.60,282.83 1137.85,283.40 1138.10,283.97 1138.35,284.55 1138.60,285.15 1138.85,285.77 1139.10,286.41 1139.35,287.09 1139.60,287.79 1139.85,288.53 1140.10,289.32 1140.35,290.18 1140.60,291.09 1140.85,292.07 1141.10,293.10 1141.35,294.17 1141.60,295.27 1141.85,296.41 1142.10,297.57 1142.35,298.81 1142.60,300.13 1142.85,301.51 1143.10,302.95 1143.35,304.43 1143.60,305.94 1143.85,307.46 1144.10,308.98 1144.35,310.50 1144.60,311.99 1144.85,313.45 1145.10,314.87 1145.35,316.22 1145.60,317.51 1145.85,318.73 1146.10,319.96 1146.35,321.20 1146.60,322.42 1146.85,323.63 1147.10,324.80 1147.35,325.91 1147.60,326.96 1147.85,327.94 1148.10,328.82 1148.35,329.59 1148.60,330.26 1148.85,330.88 1149.10,331.49 1149.35,332.08 1149.60,332.64 1149.85,333.17 1150.10,333.66 1150.35,334.12 1150.60,334.54 1150.85,334.91 1151.10,335.24 1151.35,335.51 1151.60,335.73 1151.85,335.90 1152.10,336.06 1152.35,336.21 1152.60,336.37 1152.85,336.51 1153.10,336.66 1153.35,336.79 1153.60,336.93 1153.85,337.05 1154.10,337.18 1154.35,337.29 1154.60,337.41 1154.85,337.51 1155.10,337.62 1155.35,337.71 1155.60,337.80 1155.85,337.89 1156.10,337.96 1156.35,338.04 1156.60,338.10 1156.85,338.16 1157.10,338.22 1157.35,338.26 1157.60,338.30 1157.85,338.34 1158.10,338.36 1158.35,338.38 1158.60,338.39 1158.85,338.40 1159.10,338.40 1159.35,338.40 1159.60,338.40 1159.85,338.40 1160.10,338.39 1160.35,338.39 1160.60,338.39 1160.85,338.38 1161.10,338.38 1161.35,338.37 1161.60,338.37 1161.85,338.36 1162.10,338.35 1162.35,338.35 1162.60,338.34 1162.85,338.33 1163.10,338.32 1163.35,338.31 1163.60,338.30 1163.85,338.29 1164.10,338.28 1164.35,338.27 1164.60,338.26 1164.85,338.25 1165.10,338.24 1165.35,338.23 1165.60,338.21 1165.85,338.20 1166.10,338.19 1166.35,338.17 1166.60,338.16 1166.85,338.14 1167.10,338.13 1167.35,338.11 1167.60,338.10 1167.85,338.08 1168.10,338.07 1168.35,338.05 1168.60,338.03 1168.85,338.02 1169.10,338.00 1169.35,337.98 1169.60,337.96 1169.85,337.93 1170.10,337.90 1170.35,337.87 1170.60,337.83 1170.85,337.79 1171.10,337.75 1171.35,337.70 1171.60,337.65 1171.85,337.60 1172.10,337.55 1172.35,337.49 1172.60,337.43 1172.85,337.37 1173.10,337.31 1173.35,337.24 1173.60,337.17 1173.85,337.10 1174.10,337.03 1174.35,336.96 1174.60,336.88 1174.85,336.81 1175.10,336.73 1175.35,336.65 1175.60,336.57 1175.85,336.49 1176.10,336.41 1176.35,336.32 1176.60,336.24 1176.85,336.16 1177.10,336.07 1177.35,335.99 1177.60,335.90 1177.85,335.82 1178.10,335.73 1178.35,335.64 1178.60,335.54 1178.85,335.44 1179.10,335.33 1179.35,335.22 1179.60,335.11 1179.85,334.99 1180.10,334.86 1180.35,334.74 1180.60,334.61 1180.85,334.47 1181.10,334.34 1181.35,334.20 1181.60,334.05 1181.85,333.91 1182.10,333.76 1182.35,333.61 1182.60,333.46 1182.85,333.31 1183.10,333.15 1183.35,332.99 1183.60,332.84 1183.85,332.68 1184.10,332.52 1184.35,332.36 1184.60,332.20 1184.85,332.03 1185.10,331.87 1185.35,331.71 1185.60,331.55 1185.85,331.39 1186.10,331.23 1186.35,331.07 1186.60,330.91 1186.85,330.75 1187.10,330.60 1187.35,330.44 1187.60,330.29 1187.85,330.14 1188.10,329.99 1188.35,329.84 1188.60,329.70 1188.85,329.56 1189.10,329.42 1189.35,329.28 1189.60,329.15 1189.85,329.02 1190.10,328.88 1190.35,328.76 1190.60,328.63 1190.85,328.50 1191.10,328.37 1191.35,328.24 1191.60,328.12 1191.85,327.99 1192.10,327.87 1192.35,327.74 1192.60,327.62 1192.85,327.50 1193.10,327.38 1193.35,327.25 1193.60,327.13 1193.85,327.01 1194.10,326.89 1194.35,326.77 1194.60,326.65 1194.85,326.53 1195.10,326.41 1195.35,326.29 1195.60,326.17 1195.85,326.05 1196.10,325.92 1196.35,325.80 1196.60,325.68 1196.85,325.56 1197.10,325.44 1197.35,325.32 1197.60,325.20 1197.85,325.08 1198.10,324.96 1198.35,324.83 1198.60,324.71 1198.85,324.59 1199.10,324.46 1199.35,324.34 1199.60,324.22 1199.85,324.09 1200.10,323.96 1200.35,323.84 1200.60,323.71 1200.85,323.58 1201.10,323.45 1201.35,323.32 1201.60,323.19 1201.85,323.06 1202.10,322.93 1202.35,322.80 1202.60,322.66 1202.85,322.53 1203.10,322.40 1203.35,322.26 1203.60,322.13 1203.85,321.99 1204.10,321.85 1204.35,321.72 1204.60,321.58 1204.85,321.45 1205.10,321.31 1205.35,321.17 1205.60,321.03 1205.85,320.90 1206.10,320.76 1206.35,320.62 1206.60,320.48 1206.85,320.34 1207.10,320.21 1207.35,320.07 1207.60,319.93 1207.85,319.79 1208.10,319.65 1208.35,319.51 1208.60,319.38 1208.85,319.24 1209.10,319.10 1209.35,318.96 1209.60,318.82 1209.85,318.69 1210.10,318.55 1210.35,318.41 1210.60,318.27 1210.85,318.14 1211.10,318.00" fill="none" stroke="#0a8cff" stroke-width="2.6" stroke-linejoin="round" stroke-linecap="round"/>
<polyline points="761.10,339.00 761.35,338.98 761.60,338.96 761.85,338.95 762.10,338.93 762.35,338.91 762.60,338.90 762.85,338.88 763.10,338.86 763.35,338.85 763.60,338.83 763.85,338.81 764.10,338.80 764.35,338.78 764.60,338.77 764.85,338.75 765.10,338.73 765.35,338.72 765.60,338.70 765.85,338.69 766.10,338.67 766.35,338.66 766.60,338.64 766.85,338.62 767.10,338.61 767.35,338.59 767.60,338.58 767.85,338.56 768.10,338.54 768.35,338.53 768.60,338.51 768.85,338.49 769.10,338.48 769.35,338.46 769.60,338.44 769.85,338.43 770.10,338.41 770.35,338.39 770.60,338.37 770.85,338.35 771.10,338.34 771.35,338.32 771.60,338.30 771.85,338.28 772.10,338.26 772.35,338.24 772.60,338.22 772.85,338.20 773.10,338.18 773.35,338.15 773.60,338.13 773.85,338.11 774.10,338.09 774.35,338.06 774.60,338.04 774.85,338.01 775.10,337.99 775.35,337.96 775.60,337.94 775.85,337.91 776.10,337.88 776.35,337.85 776.60,337.82 776.85,337.79 777.10,337.76 777.35,337.73 777.60,337.70 777.85,337.66 778.10,337.63 778.35,337.60 778.60,337.56 778.85,337.52 779.10,337.49 779.35,337.45 779.60,337.41 779.85,337.38 780.10,337.34 780.35,337.30 780.60,337.26 780.85,337.22 781.10,337.18 781.35,337.14 781.60,337.09 781.85,337.05 782.10,337.01 782.35,336.97 782.60,336.93 782.85,336.88 783.10,336.84 783.35,336.79 783.60,336.75 783.85,336.71 784.10,336.66 784.35,336.62 784.60,336.57 784.85,336.53 785.10,336.48 785.35,336.44 785.60,336.39 785.85,336.34 786.10,336.29 786.35,336.24 786.60,336.19 786.85,336.14 787.10,336.09 787.35,336.03 787.60,335.98 787.85,335.92 788.10,335.87 788.35,335.81 788.60,335.75 788.85,335.69 789.10,335.64 789.35,335.58 789.60,335.52 789.85,335.46 790.10,335.40 790.35,335.34 790.60,335.28 790.85,335.21 791.10,335.15 791.35,335.09 791.60,335.03 791.85,334.97 792.10,334.91 792.35,334.85 792.60,334.79 792.85,334.72 793.10,334.66 793.35,334.59 793.60,334.53 793.85,334.46 794.10,334.39 794.35,334.32 794.60,334.24 794.85,334.16 795.10,334.08 795.35,334.00 795.60,333.92 795.85,333.83 796.10,333.74 796.35,333.64 796.60,333.54 796.85,333.44 797.10,333.34 797.35,333.23 797.60,333.12 797.85,333.01 798.10,332.89 798.35,332.76 798.60,332.64 798.85,332.51 799.10,332.37 799.35,332.23 799.60,332.09 799.85,331.94 800.10,331.79 800.35,331.63 800.60,331.46 800.85,331.30 801.10,331.12 801.35,330.94 801.60,330.76 801.85,330.57 802.10,330.37 802.35,330.17 802.60,329.96 802.85,329.74 803.10,329.52 803.35,329.28 803.60,329.03 803.85,328.76 804.10,328.47 804.35,328.17 804.60,327.85 804.85,327.51 805.10,327.16 805.35,326.78 805.60,326.39 805.85,325.98 806.10,325.55 806.35,325.10 806.60,324.64 806.85,324.15 807.10,323.64 807.35,323.11 807.60,322.53 807.85,321.86 808.10,321.11 808.35,320.28 808.60,319.40 808.85,318.45 809.10,317.47 809.35,316.45 809.60,315.42 809.85,314.37 810.10,313.32 810.35,312.27 810.60,311.18 810.85,310.05 811.10,308.88 811.35,307.68 811.60,306.44 811.85,305.16 812.10,303.86 812.35,302.52 812.60,301.15 812.85,299.73 813.10,298.24 813.35,296.67 813.60,295.00 813.85,293.27 814.10,291.50 814.35,289.63 814.60,287.63 814.85,285.45 815.10,283.04 815.35,280.29 815.60,276.99 815.85,273.20 816.10,269.03 816.35,264.56 816.60,259.90 816.85,255.14 817.10,250.38 817.35,245.73 817.60,241.27 817.85,237.11 818.10,233.32 818.35,229.75 818.60,226.31 818.85,222.98 819.10,219.72 819.35,216.51 819.60,213.31 819.85,210.09 820.10,206.82 820.35,203.46 820.60,200.00 820.85,196.44 821.10,192.82 821.35,189.14 821.60,185.43 821.85,181.68 822.10,177.90 822.35,174.10 822.60,170.28 822.85,166.46 823.10,162.60 823.35,158.61 823.60,154.56 823.85,150.50 824.10,146.48 824.35,142.58 824.60,138.84 824.85,135.31 825.10,131.94 825.35,128.66 825.60,125.48 825.85,122.39 826.10,119.39 826.35,116.47 826.60,113.62 826.85,110.85 827.10,108.10 827.35,105.35 827.60,102.64 827.85,99.99 828.10,97.41 828.35,94.92 828.60,92.55 828.85,90.31 829.10,88.24 829.35,86.33 829.60,84.43 829.85,82.47 830.10,80.49 830.35,78.54 830.60,76.64 830.85,74.84 831.10,73.18 831.35,71.70 831.60,70.43 831.85,69.40 832.10,68.67 832.35,68.27 832.60,68.22 832.85,68.49 833.10,69.01 833.35,69.79 833.60,70.78 833.85,71.97 834.10,73.33 834.35,74.84 834.60,76.46 834.85,78.19 835.10,79.99 835.35,81.84 835.60,83.71 835.85,85.59 836.10,87.47 836.35,89.64 836.60,92.12 836.85,94.85 837.10,97.77 837.35,100.82 837.60,103.95 837.85,107.09 838.10,110.19 838.35,113.22 838.60,116.30 838.85,119.43 839.10,122.63 839.35,125.89 839.60,129.20 839.85,132.57 840.10,136.00 840.35,139.45 840.60,142.90 840.85,146.40 841.10,149.97 841.35,153.65 841.60,157.47 841.85,161.48 842.10,165.70 842.35,170.40 842.60,175.59 842.85,180.95 843.10,186.16 843.35,190.90 843.60,195.23 843.85,199.31 844.10,203.21 844.35,206.97 844.60,210.66 844.85,214.35 845.10,218.09 845.35,221.95 845.60,225.97 845.85,230.24 846.10,234.80 846.35,239.99 846.60,245.91 846.85,252.25 847.10,258.73 847.35,265.03 847.60,270.88 847.85,275.97 848.10,280.00 848.35,283.22 848.60,286.09 848.85,288.66 849.10,290.98 849.35,293.08 849.60,295.00 849.85,296.81 850.10,298.54 850.35,300.17 850.60,301.69 850.85,303.08 851.10,304.33 851.35,305.42 851.60,306.36 851.85,307.23 852.10,308.07 852.35,308.86 852.60,309.62 852.85,310.34 853.10,311.02 853.35,311.67 853.60,312.29 853.85,312.87 854.10,313.42 854.35,313.94 854.60,314.43 854.85,314.89 855.10,315.32 855.35,315.72 855.60,316.10 855.85,316.45 856.10,316.79 856.35,317.10 856.60,317.39 856.85,317.67 857.10,317.93 857.35,318.19 857.60,318.43 857.85,318.66 858.10,318.88 858.35,319.10 858.60,319.31 858.85,319.53 859.10,319.74 859.35,319.95 859.60,320.17 859.85,320.37 860.10,320.58 860.35,320.78 860.60,320.97 860.85,321.15 861.10,321.32 861.35,321.48 861.60,321.63 861.85,321.76 862.10,321.88 862.35,321.98 862.60,322.07 862.85,322.16 863.10,322.25 863.35,322.33 863.60,322.42 863.85,322.50 864.10,322.59 864.35,322.67 864.60,322.75 864.85,322.82 865.10,322.90 865.35,322.97 865.60,323.05 865.85,323.12 866.10,323.18 866.35,323.25 866.60,323.32 866.85,323.38 867.10,323.44 867.35,323.49 867.60,323.55 867.85,323.60 868.10,323.65 868.35,323.69 868.60,323.74 868.85,323.78 869.10,323.81 869.35,323.85 869.60,323.88 869.85,323.91 870.10,323.93 870.35,323.95 870.60,323.97 870.85,323.98 871.10,323.99 871.35,324.00 871.60,324.00 871.85,324.00 872.10,323.99 872.35,323.98 872.60,323.96 872.85,323.94 873.10,323.92 873.35,323.89 873.60,323.86 873.85,323.82 874.10,323.78 874.35,323.74 874.60,323.69 874.85,323.64 875.10,323.59 875.35,323.53 875.60,323.47 875.85,323.41 876.10,323.34 876.35,323.27 876.60,323.20 876.85,323.13 877.10,323.05 877.35,322.97 877.60,322.89 877.85,322.81 878.10,322.72 878.35,322.64 878.60,322.55 878.85,322.46 879.10,322.36 879.35,322.27 879.60,322.17 879.85,322.08 880.10,321.98 880.35,321.88 880.60,321.78 880.85,321.68 881.10,321.58 881.35,321.48 881.60,321.37 881.85,321.27 882.10,321.17 882.35,321.06 882.60,320.96 882.85,320.86 883.10,320.75 883.35,320.65 883.60,320.55 883.85,320.44 884.10,320.34 884.35,320.24 884.60,320.13 884.85,320.02 885.10,319.90 885.35,319.78 885.60,319.66 885.85,319.53 886.10,319.39 886.35,319.26 886.60,319.12 886.85,318.97 887.10,318.83 887.35,318.68 887.60,318.52 887.85,318.37 888.10,318.21 888.35,318.05 888.60,317.89 888.85,317.72 889.10,317.56 889.35,317.39 889.60,317.22 889.85,317.05 890.10,316.88 890.35,316.71 890.60,316.53 890.85,316.36 891.10,316.18 891.35,316.01 891.60,315.84 891.85,315.66 892.10,315.49 892.35,315.31 892.60,315.14 892.85,314.97 893.10,314.79 893.35,314.61 893.60,314.43 893.85,314.25 894.10,314.06 894.35,313.87 894.60,313.68 894.85,313.48 895.10,313.29 895.35,313.09 895.60,312.89 895.85,312.69 896.10,312.49 896.35,312.29 896.60,312.09 896.85,311.88 897.10,311.68 897.35,311.48 897.60,311.28 897.85,311.08 898.10,310.87 898.35,310.68 898.60,310.48 898.85,310.28 899.10,310.08 899.35,309.89 899.60,309.70 899.85,309.51 900.10,309.33 900.35,309.14 900.60,308.96 900.85,308.77 901.10,308.59 901.35,308.41 901.60,308.23 901.85,308.05 902.10,307.87 902.35,307.69 902.60,307.51 902.85,307.33 903.10,307.15 903.35,306.97 903.60,306.80 903.85,306.62 904.10,306.44 904.35,306.27 904.60,306.09 904.85,305.92 905.10,305.75 905.35,305.57 905.60,305.40 905.85,305.23 906.10,305.06 906.35,304.91 906.60,304.75 906.85,304.60 907.10,304.45 907.35,304.31 907.60,304.16 907.85,304.02 908.10,303.89 908.35,303.75 908.60,303.61 908.85,303.48 909.10,303.35 909.35,303.21 909.60,303.08 909.85,302.94 910.10,302.80 910.35,302.66 910.60,302.52 910.85,302.38 911.10,302.23 911.35,302.08 911.60,301.93 911.85,301.77 912.10,301.60 912.35,301.43 912.60,301.26 912.85,301.08 913.10,300.89 913.35,300.69 913.60,300.49 913.85,300.28 914.10,300.07 914.35,299.84 914.60,299.60 914.85,299.36 915.10,299.10 915.35,298.84 915.60,298.53 915.85,298.20 916.10,297.84 916.35,297.44 916.60,297.02 916.85,296.57 917.10,296.09 917.35,295.59 917.60,295.06 917.85,294.52 918.10,293.95 918.35,293.36 918.60,292.75 918.85,292.08 919.10,291.35 919.35,290.56 919.60,289.71 919.85,288.80 920.10,287.84 920.35,286.83 920.60,285.77 920.85,284.62 921.10,283.38 921.35,282.06 921.60,280.67 921.85,279.21 922.10,277.69 922.35,276.11 922.60,274.49 922.85,272.83 923.10,271.14 923.35,269.43 923.60,267.70 923.85,265.94 924.10,264.11 924.35,262.19 924.60,260.21 924.85,258.17 925.10,256.08 925.35,253.94 925.60,251.76 925.85,249.55 926.10,247.25 926.35,244.84 926.60,242.35 926.85,239.79 927.10,237.18 927.35,234.55 927.60,231.91 927.85,229.29 928.10,226.71 928.35,224.19 928.60,221.75 928.85,219.42 929.10,217.20 929.35,215.06 929.60,212.93 929.85,210.83 930.10,208.74 930.35,206.68 930.60,204.65 930.85,202.65 931.10,200.68 931.35,198.76 931.60,196.87 931.85,195.02 932.10,193.23 932.35,191.48 932.60,189.78 932.85,188.15 933.10,186.57 933.35,185.05 933.60,183.60 933.85,182.19 934.10,180.78 934.35,179.41 934.60,178.06 934.85,176.76 935.10,175.51 935.35,174.33 935.60,173.22 935.85,172.19 936.10,171.26 936.35,170.44 936.60,169.72 936.85,169.01 937.10,168.31 937.35,167.62 937.60,166.96 937.85,166.36 938.10,165.82 938.35,165.36 938.60,164.99 938.85,164.74 939.10,164.61 939.35,164.62 939.60,164.76 939.85,165.02 940.10,165.37 940.35,165.82 940.60,166.33 940.85,166.91 941.10,167.54 941.35,168.20 941.60,168.89 941.85,169.58 942.10,170.29 942.35,171.10 942.60,172.04 942.85,173.10 943.10,174.25 943.35,175.48 943.60,176.79 943.85,178.15 944.10,179.56 944.35,180.99 944.60,182.44 944.85,183.89 945.10,185.38 945.35,186.92 945.60,188.52 945.85,190.17 946.10,191.87 946.35,193.62 946.60,195.41 946.85,197.25 947.10,199.13 947.35,201.05 947.60,203.01 947.85,205.01 948.10,207.04 948.35,209.10 948.60,211.20 948.85,213.32 949.10,215.46 949.35,217.64 949.60,219.95 949.85,222.43 950.10,225.04 950.35,227.74 950.60,230.51 950.85,233.30 951.10,236.09 951.35,238.83 951.60,241.51 951.85,244.08 952.10,246.50 952.35,248.75 952.60,250.80 952.85,252.73 953.10,254.56 953.35,256.32 953.60,258.01 953.85,259.65 954.10,261.25 954.35,262.82 954.60,264.37 954.85,265.92 955.10,267.47 955.35,269.04 955.60,270.65 955.85,272.32 956.10,274.14 956.35,276.03 956.60,277.90 956.85,279.65 957.10,281.19 957.35,282.44 957.60,283.32 957.85,284.05 958.10,284.71 958.35,285.31 958.60,285.84 958.85,286.33 959.10,286.77 959.35,287.18 959.60,287.56 959.85,287.93 960.10,288.28 960.35,288.62 960.60,288.95 960.85,289.25 961.10,289.53 961.35,289.79 961.60,290.01 961.85,290.20 962.10,290.36 962.35,290.51 962.60,290.65 962.85,290.79 963.10,290.93 963.35,291.06 963.60,291.18 963.85,291.29 964.10,291.39 964.35,291.48 964.60,291.56 964.85,291.62 965.10,291.66 965.35,291.69 965.60,291.70 965.85,291.69 966.10,291.67 966.35,291.64 966.60,291.60 966.85,291.55 967.10,291.48 967.35,291.41 967.60,291.34 967.85,291.25 968.10,291.16 968.35,291.07 968.60,290.97 968.85,290.87 969.10,290.77 969.35,290.66 969.60,290.56 969.85,290.46 970.10,290.36 970.35,290.25 970.60,290.13 970.85,290.00 971.10,289.87 971.35,289.72 971.60,289.57 971.85,289.42 972.10,289.26 972.35,289.09 972.60,288.93 972.85,288.76 973.10,288.59 973.35,288.43 973.60,288.26 973.85,288.10 974.10,287.94 974.35,287.78 974.60,287.62 974.85,287.47 975.10,287.31 975.35,287.15 975.60,287.00 975.85,286.84 976.10,286.68 976.35,286.51 976.60,286.34 976.85,286.17 977.10,286.00 977.35,285.82 977.60,285.63 977.85,285.44 978.10,285.25 978.35,285.04 978.60,284.83 978.85,284.61 979.10,284.38 979.35,284.14 979.60,283.90 979.85,283.65 980.10,283.39 980.35,283.12 980.60,282.85 980.85,282.58 981.10,282.29 981.35,282.01 981.60,281.71 981.85,281.42 982.10,281.12 982.35,280.81 982.60,280.50 982.85,280.19 983.10,279.88 983.35,279.56 983.60,279.24 983.85,278.92 984.10,278.59 984.35,278.26 984.60,277.92 984.85,277.58 985.10,277.23 985.35,276.87 985.60,276.50 985.85,276.13 986.10,275.74 986.35,275.35 986.60,274.95 986.85,274.53 987.10,274.11 987.35,273.67 987.60,273.22 987.85,272.74 988.10,272.24 988.35,271.72 988.60,271.18 988.85,270.62 989.10,270.04 989.35,269.46 989.60,268.86 989.85,268.25 990.10,267.64 990.35,267.03 990.60,266.42 990.85,265.79 991.10,265.16 991.35,264.49 991.60,263.81 991.85,263.08 992.10,262.32 992.35,261.51 992.60,260.64 992.85,259.72 993.10,258.76 993.35,257.76 993.60,256.72 993.85,255.65 994.10,254.55 994.35,253.43 994.60,252.30 994.85,251.15 995.10,250.00 995.35,248.83 995.60,247.63 995.85,246.40 996.10,245.14 996.35,243.86 996.60,242.56 996.85,241.24 997.10,239.89 997.35,238.53 997.60,237.15 997.85,235.75 998.10,234.35 998.35,232.93 998.60,231.50 998.85,230.06 999.10,228.62 999.35,227.17 999.60,225.72 999.85,224.27 1000.10,222.81 1000.35,221.36 1000.60,219.91 1000.85,218.47 1001.10,217.04 1001.35,215.61 1001.60,214.19 1001.85,212.79 1002.10,211.40 1002.35,210.02 1002.60,208.66 1002.85,207.32 1003.10,206.00 1003.35,204.68 1003.60,203.36 1003.85,202.02 1004.10,200.68 1004.35,199.34 1004.60,197.99 1004.85,196.64 1005.10,195.29 1005.35,193.94 1005.60,192.60 1005.85,191.26 1006.10,189.93 1006.35,188.62 1006.60,187.31 1006.85,186.02 1007.10,184.74 1007.35,183.48 1007.60,182.23 1007.85,181.01 1008.10,179.81 1008.35,178.64 1008.60,177.49 1008.85,176.37 1009.10,175.28 1009.35,174.22 1009.60,173.19 1009.85,172.20 1010.10,171.22 1010.35,170.24 1010.60,169.25 1010.85,168.27 1011.10,167.30 1011.35,166.34 1011.60,165.40 1011.85,164.48 1012.10,163.58 1012.35,162.72 1012.60,161.88 1012.85,161.08 1013.10,160.32 1013.35,159.61 1013.60,158.94 1013.85,158.33 1014.10,157.77 1014.35,157.27 1014.60,156.83 1014.85,156.40 1015.10,155.97 1015.35,155.54 1015.60,155.13 1015.85,154.73 1016.10,154.36 1016.35,154.01 1016.60,153.69 1016.85,153.41 1017.10,153.17 1017.35,152.97 1017.60,152.82 1017.85,152.73 1018.10,152.70 1018.35,152.73 1018.60,152.80 1018.85,152.93 1019.10,153.09 1019.35,153.30 1019.60,153.54 1019.85,153.81 1020.10,154.12 1020.35,154.44 1020.60,154.79 1020.85,155.16 1021.10,155.55 1021.35,155.94 1021.60,156.35 1021.85,156.75 1022.10,157.17 1022.35,157.65 1022.60,158.20 1022.85,158.83 1023.10,159.51 1023.35,160.25 1023.60,161.05 1023.85,161.88 1024.10,162.76 1024.35,163.67 1024.60,164.61 1024.85,165.56 1025.10,166.54 1025.35,167.52 1025.60,168.51 1025.85,169.50 1026.10,170.48 1026.35,171.45 1026.60,172.40 1026.85,173.37 1027.10,174.38 1027.35,175.45 1027.60,176.55 1027.85,177.69 1028.10,178.86 1028.35,180.06 1028.60,181.28 1028.85,182.52 1029.10,183.76 1029.35,185.01 1029.60,186.26 1029.85,187.51 1030.10,188.75 1030.35,189.97 1030.60,191.17 1030.85,192.35 1031.10,193.50 1031.35,194.61 1031.60,195.68 1031.85,196.71 1032.10,197.68 1032.35,198.60 1032.60,199.46 1032.85,200.26 1033.10,200.98 1033.35,201.62 1033.60,202.26 1033.85,202.90 1034.10,203.55 1034.35,204.18 1034.60,204.79 1034.85,205.38 1035.10,205.92 1035.35,206.41 1035.60,206.85 1035.85,207.21 1036.10,207.50 1036.35,207.69 1036.60,207.79 1036.85,207.80 1037.10,207.80 1037.35,207.79 1037.60,207.78 1037.85,207.77 1038.10,207.76 1038.35,207.75 1038.60,207.73 1038.85,207.71 1039.10,207.69 1039.35,207.67 1039.60,207.65 1039.85,207.63 1040.10,207.60 1040.35,207.57 1040.60,207.55 1040.85,207.52 1041.10,207.49 1041.35,207.43 1041.60,207.35 1041.85,207.26 1042.10,207.14 1042.35,207.01 1042.60,206.87 1042.85,206.72 1043.10,206.57 1043.35,206.42 1043.60,206.27 1043.85,206.13 1044.10,206.00 1044.35,205.88 1044.60,205.78 1044.85,205.70 1045.10,205.64 1045.35,205.61 1045.60,205.60 1045.85,205.66 1046.10,205.76 1046.35,205.90 1046.60,206.09 1046.85,206.30 1047.10,206.54 1047.35,206.80 1047.60,207.07 1047.85,207.34 1048.10,207.61 1048.35,207.94 1048.60,208.32 1048.85,208.75 1049.10,209.21 1049.35,209.70 1049.60,210.20 1049.85,210.70 1050.10,211.20 1050.35,211.70 1050.60,212.21 1050.85,212.73 1051.10,213.26 1051.35,213.81 1051.60,214.37 1051.85,214.96 1052.10,215.57 1052.35,216.21 1052.60,216.87 1052.85,217.57 1053.10,218.30 1053.35,219.14 1053.60,220.08 1053.85,221.09 1054.10,222.16 1054.35,223.26 1054.60,224.38 1054.85,225.49 1055.10,226.58 1055.35,227.61 1055.60,228.57 1055.85,229.44 1056.10,230.20 1056.35,230.88 1056.60,231.55 1056.85,232.20 1057.10,232.82 1057.35,233.44 1057.60,234.03 1057.85,234.61 1058.10,235.18 1058.35,235.73 1058.60,236.26 1058.85,236.79 1059.10,237.30 1059.35,237.80 1059.60,238.29 1059.85,238.77 1060.10,239.24 1060.35,239.70 1060.60,240.16 1060.85,240.61 1061.10,241.05 1061.35,241.49 1061.60,241.92 1061.85,242.35 1062.10,242.77 1062.35,243.19 1062.60,243.61 1062.85,244.03 1063.10,244.45 1063.35,244.87 1063.60,245.28 1063.85,245.71 1064.10,246.13 1064.35,246.55 1064.60,246.97 1064.85,247.38 1065.10,247.79 1065.35,248.19 1065.60,248.58 1065.85,248.96 1066.10,249.35 1066.35,249.72 1066.60,250.10 1066.85,250.47 1067.10,250.83 1067.35,251.19 1067.60,251.55 1067.85,251.91 1068.10,252.27 1068.35,252.63 1068.60,252.98 1068.85,253.33 1069.10,253.69 1069.35,254.04 1069.60,254.40 1069.85,254.75 1070.10,255.11 1070.35,255.47 1070.60,255.83 1070.85,256.20 1071.10,256.57 1071.35,256.94 1071.60,257.32 1071.85,257.70 1072.10,258.09 1072.35,258.48 1072.60,258.87 1072.85,259.27 1073.10,259.67 1073.35,260.06 1073.60,260.46 1073.85,260.86 1074.10,261.27 1074.35,261.67 1074.60,262.08 1074.85,262.48 1075.10,262.89 1075.35,263.30 1075.60,263.71 1075.85,264.12 1076.10,264.54 1076.35,264.95 1076.60,265.37 1076.85,265.79 1077.10,266.21 1077.35,266.63 1077.60,267.05 1077.85,267.48 1078.10,267.90 1078.35,268.33 1078.60,268.76 1078.85,269.19 1079.10,269.63 1079.35,270.06 1079.60,270.50 1079.85,270.94 1080.10,271.38 1080.35,271.82 1080.60,272.27 1080.85,272.72 1081.10,273.18 1081.35,273.63 1081.60,274.09 1081.85,274.56 1082.10,275.02 1082.35,275.49 1082.60,275.96 1082.85,276.43 1083.10,276.90 1083.35,277.37 1083.60,277.85 1083.85,278.32 1084.10,278.80 1084.35,279.27 1084.60,279.74 1084.85,280.22 1085.10,280.69 1085.35,281.16 1085.60,281.64 1085.85,282.11 1086.10,282.59 1086.35,283.07 1086.60,283.54 1086.85,284.02 1087.10,284.50 1087.35,284.98 1087.60,285.46 1087.85,285.94 1088.10,286.43 1088.35,286.91 1088.60,287.39 1088.85,287.87 1089.10,288.35 1089.35,288.83 1089.60,289.32 1089.85,289.80 1090.10,290.28 1090.35,290.77 1090.60,291.25 1090.85,291.74 1091.10,292.24 1091.35,292.73 1091.60,293.22 1091.85,293.71 1092.10,294.20 1092.35,294.68 1092.60,295.17 1092.85,295.65 1093.10,296.13 1093.35,296.60 1093.60,297.07 1093.85,297.53 1094.10,297.98 1094.35,298.44 1094.60,298.90 1094.85,299.35 1095.10,299.81 1095.35,300.27 1095.60,300.72 1095.85,301.17 1096.10,301.62 1096.35,302.06 1096.60,302.50 1096.85,302.93 1097.10,303.35 1097.35,303.76 1097.60,304.16 1097.85,304.55 1098.10,304.92 1098.35,305.29 1098.60,305.64 1098.85,305.99 1099.10,306.35 1099.35,306.71 1099.60,307.07 1099.85,307.43 1100.10,307.78 1100.35,308.12 1100.60,308.46 1100.85,308.78 1101.10,309.09 1101.35,309.39 1101.60,309.67 1101.85,309.93 1102.10,310.16 1102.35,310.37 1102.60,310.56 1102.85,310.72 1103.10,310.85 1103.35,310.97 1103.60,311.09 1103.85,311.21 1104.10,311.33 1104.35,311.44 1104.60,311.54 1104.85,311.65 1105.10,311.74 1105.35,311.83 1105.60,311.91 1105.85,311.98 1106.10,312.04 1106.35,312.09 1106.60,312.14 1106.85,312.17 1107.10,312.19 1107.35,312.20 1107.60,312.18 1107.85,312.12 1108.10,312.02 1108.35,311.88 1108.60,311.70 1108.85,311.49 1109.10,311.26 1109.35,311.00 1109.60,310.72 1109.85,310.43 1110.10,310.13 1110.35,309.82 1110.60,309.50 1110.85,309.15 1111.10,308.73 1111.35,308.25 1111.60,307.71 1111.85,307.13 1112.10,306.49 1112.35,305.82 1112.60,305.12 1112.85,304.39 1113.10,303.63 1113.35,302.86 1113.60,302.05 1113.85,301.18 1114.10,300.23 1114.35,299.23 1114.60,298.17 1114.85,297.06 1115.10,295.91 1115.35,294.71 1115.60,293.48 1115.85,292.21 1116.10,290.92 1116.35,289.59 1116.60,288.16 1116.85,286.63 1117.10,285.02 1117.35,283.35 1117.60,281.63 1117.85,279.87 1118.10,278.10 1118.35,276.33 1118.60,274.57 1118.85,272.84 1119.10,271.16 1119.35,269.54 1119.60,268.00 1119.85,266.51 1120.10,265.05 1120.35,263.60 1120.60,262.18 1120.85,260.77 1121.10,259.38 1121.35,258.00 1121.60,256.64 1121.85,255.29 1122.10,253.94 1122.35,252.61 1122.60,251.29 1122.85,249.97 1123.10,248.66 1123.35,247.35 1123.60,246.05 1123.85,244.74 1124.10,243.44 1124.35,242.13 1124.60,240.82 1124.85,239.50 1125.10,238.10 1125.35,236.67 1125.60,235.21 1125.85,233.77 1126.10,232.36 1126.35,231.02 1126.60,229.77 1126.85,228.64 1127.10,227.66 1127.35,226.85 1127.60,226.09 1127.85,225.34 1128.10,224.61 1128.35,223.92 1128.60,223.30 1128.85,222.75 1129.10,222.29 1129.35,221.95 1129.60,221.75 1129.85,221.70 1130.10,221.81 1130.35,222.07 1130.60,222.45 1130.85,222.94 1131.10,223.53 1131.35,224.18 1131.60,224.89 1131.85,225.63 1132.10,226.39 1132.35,227.16 1132.60,228.06 1132.85,229.14 1133.10,230.37 1133.35,231.71 1133.60,233.15 1133.85,234.64 1134.10,236.16 1134.35,237.68 1134.60,239.16 1134.85,240.58 1135.10,241.97 1135.35,243.37 1135.60,244.77 1135.85,246.17 1136.10,247.58 1136.35,248.99 1136.60,250.42 1136.85,251.85 1137.10,253.29 1137.35,254.75 1137.60,256.21 1137.85,257.69 1138.10,259.19 1138.35,260.70 1138.60,262.23 1138.85,263.77 1139.10,265.34 1139.35,266.93 1139.60,268.54 1139.85,270.17 1140.10,271.83 1140.35,273.51 1140.60,275.21 1140.85,276.94 1141.10,278.70 1141.35,280.47 1141.60,282.28 1141.85,284.10 1142.10,285.95 1142.35,287.83 1142.60,289.73 1142.85,291.65 1143.10,293.60 1143.35,295.57 1143.60,297.57 1143.85,299.59 1144.10,301.71 1144.35,304.00 1144.60,306.41 1144.85,308.85 1145.10,311.23 1145.35,313.47 1145.60,315.49 1145.85,317.22 1146.10,318.77 1146.35,320.21 1146.60,321.56 1146.85,322.84 1147.10,324.05 1147.35,325.20 1147.60,326.30 1147.85,327.37 1148.10,328.42 1148.35,329.48 1148.60,330.55 1148.85,331.60 1149.10,332.59 1149.35,333.52 1149.60,334.35 1149.85,335.06 1150.10,335.62 1150.35,336.04 1150.60,336.44 1150.85,336.83 1151.10,337.21 1151.35,337.57 1151.60,337.93 1151.85,338.27 1152.10,338.59 1152.35,338.90 1152.60,339.20 1152.85,339.48 1153.10,339.74 1153.35,339.98 1153.60,340.21 1153.85,340.41 1154.10,340.60 1154.35,340.77 1154.60,340.91 1154.85,341.04 1155.10,341.14 1155.35,341.21 1155.60,341.27 1155.85,341.30 1156.10,341.30 1156.35,341.30 1156.60,341.29 1156.85,341.29 1157.10,341.28 1157.35,341.27 1157.60,341.26 1157.85,341.25 1158.10,341.23 1158.35,341.21 1158.60,341.20 1158.85,341.18 1159.10,341.15 1159.35,341.13 1159.60,341.11 1159.85,341.08 1160.10,341.06 1160.35,341.03 1160.60,341.00 1160.85,340.97 1161.10,340.94 1161.35,340.91 1161.60,340.88 1161.85,340.84 1162.10,340.81 1162.35,340.77 1162.60,340.74 1162.85,340.70 1163.10,340.67 1163.35,340.63 1163.60,340.59 1163.85,340.56 1164.10,340.52 1164.35,340.48 1164.60,340.44 1164.85,340.40 1165.10,340.37 1165.35,340.33 1165.60,340.29 1165.85,340.25 1166.10,340.21 1166.35,340.18 1166.60,340.14 1166.85,340.10 1167.10,340.06 1167.35,340.02 1167.60,339.97 1167.85,339.93 1168.10,339.88 1168.35,339.84 1168.60,339.79 1168.85,339.74 1169.10,339.69 1169.35,339.64 1169.60,339.58 1169.85,339.53 1170.10,339.48 1170.35,339.42 1170.60,339.36 1170.85,339.31 1171.10,339.25 1171.35,339.19 1171.60,339.13 1171.85,339.07 1172.10,339.00 1172.35,338.94 1172.60,338.87 1172.85,338.81 1173.10,338.74 1173.35,338.68 1173.60,338.61 1173.85,338.54 1174.10,338.47 1174.35,338.40 1174.60,338.32 1174.85,338.25 1175.10,338.18 1175.35,338.10 1175.60,338.03 1175.85,337.95 1176.10,337.88 1176.35,337.80 1176.60,337.72 1176.85,337.64 1177.10,337.56 1177.35,337.48 1177.60,337.40 1177.85,337.32 1178.10,337.23 1178.35,337.15 1178.60,337.06 1178.85,336.96 1179.10,336.87 1179.35,336.77 1179.60,336.67 1179.85,336.56 1180.10,336.46 1180.35,336.35 1180.60,336.24 1180.85,336.12 1181.10,336.01 1181.35,335.89 1181.60,335.77 1181.85,335.65 1182.10,335.53 1182.35,335.40 1182.60,335.28 1182.85,335.15 1183.10,335.02 1183.35,334.90 1183.60,334.77 1183.85,334.64 1184.10,334.50 1184.35,334.37 1184.60,334.24 1184.85,334.11 1185.10,333.98 1185.35,333.84 1185.60,333.71 1185.85,333.58 1186.10,333.45 1186.35,333.31 1186.60,333.18 1186.85,333.05 1187.10,332.92 1187.35,332.78 1187.60,332.65 1187.85,332.52 1188.10,332.38 1188.35,332.25 1188.60,332.11 1188.85,331.97 1189.10,331.84 1189.35,331.70 1189.60,331.56 1189.85,331.42 1190.10,331.28 1190.35,331.13 1190.60,330.99 1190.85,330.84 1191.10,330.70 1191.35,330.55 1191.60,330.40 1191.85,330.25 1192.10,330.10 1192.35,329.94 1192.60,329.79 1192.85,329.63 1193.10,329.47 1193.35,329.31 1193.60,329.14 1193.85,328.98 1194.10,328.81 1194.35,328.64 1194.60,328.47 1194.85,328.29 1195.10,328.12 1195.35,327.94 1195.60,327.75 1195.85,327.57 1196.10,327.38 1196.35,327.19 1196.60,327.00 1196.85,326.80 1197.10,326.60 1197.35,326.39 1197.60,326.18 1197.85,325.96 1198.10,325.74 1198.35,325.51 1198.60,325.28 1198.85,325.05 1199.10,324.81 1199.35,324.56 1199.60,324.31 1199.85,324.06 1200.10,323.81 1200.35,323.55 1200.60,323.29 1200.85,323.02 1201.10,322.75 1201.35,322.48 1201.60,322.21 1201.85,321.93 1202.10,321.65 1202.35,321.37 1202.60,321.09 1202.85,320.80 1203.10,320.51 1203.35,320.22 1203.60,319.93 1203.85,319.64 1204.10,319.34 1204.35,319.04 1204.60,318.73 1204.85,318.41 1205.10,318.09 1205.35,317.76 1205.60,317.43 1205.85,317.09 1206.10,316.75 1206.35,316.40 1206.60,316.05 1206.85,315.70 1207.10,315.35 1207.35,314.99 1207.60,314.63 1207.85,314.27 1208.10,313.91 1208.35,313.54 1208.60,313.18 1208.85,312.82 1209.10,312.45 1209.35,312.09 1209.60,311.73 1209.85,311.37 1210.10,311.01 1210.35,310.65 1210.60,310.30 1210.85,309.95 1211.10,309.60" fill="none" stroke="#0000c8" stroke-width="2.6" stroke-linejoin="round" stroke-linecap="round"/>
<polyline points="761.10,349.50 761.35,349.48 761.60,349.46 761.85,349.45 762.10,349.43 762.35,349.41 762.60,349.39 762.85,349.38 763.10,349.36 763.35,349.34 763.60,349.32 763.85,349.31 764.10,349.29 764.35,349.27 764.60,349.25 764.85,349.24 765.10,349.22 765.35,349.20 765.60,349.18 765.85,349.17 766.10,349.15 766.35,349.13 766.60,349.12 766.85,349.10 767.10,349.08 767.35,349.06 767.60,349.05 767.85,349.03 768.10,349.01 768.35,348.99 768.60,348.98 768.85,348.96 769.10,348.94 769.35,348.92 769.60,348.91 769.85,348.89 770.10,348.87 770.35,348.85 770.60,348.83 770.85,348.82 771.10,348.80 771.35,348.78 771.60,348.76 771.85,348.74 772.10,348.72 772.35,348.70 772.60,348.69 772.85,348.67 773.10,348.65 773.35,348.63 773.60,348.61 773.85,348.59 774.10,348.57 774.35,348.55 774.60,348.53 774.85,348.51 775.10,348.49 775.35,348.47 775.60,348.45 775.85,348.43 776.10,348.41 776.35,348.39 776.60,348.37 776.85,348.35 777.10,348.33 777.35,348.31 777.60,348.29 777.85,348.27 778.10,348.25 778.35,348.23 778.60,348.22 778.85,348.20 779.10,348.18 779.35,348.16 779.60,348.13 779.85,348.11 780.10,348.09 780.35,348.07 780.60,348.05 780.85,348.03 781.10,348.01 781.35,347.99 781.60,347.97 781.85,347.95 782.10,347.93 782.35,347.90 782.60,347.88 782.85,347.86 783.10,347.84 783.35,347.81 783.60,347.79 783.85,347.77 784.10,347.74 784.35,347.72 784.60,347.70 784.85,347.67 785.10,347.65 785.35,347.62 785.60,347.60 785.85,347.57 786.10,347.55 786.35,347.52 786.60,347.49 786.85,347.47 787.10,347.44 787.35,347.41 787.60,347.38 787.85,347.35 788.10,347.32 788.35,347.29 788.60,347.26 788.85,347.23 789.10,347.20 789.35,347.16 789.60,347.13 789.85,347.09 790.10,347.05 790.35,347.01 790.60,346.97 790.85,346.93 791.10,346.89 791.35,346.85 791.60,346.81 791.85,346.76 792.10,346.72 792.35,346.68 792.60,346.63 792.85,346.59 793.10,346.54 793.35,346.50 793.60,346.45 793.85,346.41 794.10,346.36 794.35,346.32 794.60,346.27 794.85,346.23 795.10,346.19 795.35,346.14 795.60,346.10 795.85,346.06 796.10,346.01 796.35,345.97 796.60,345.93 796.85,345.89 797.10,345.85 797.35,345.82 797.60,345.78 797.85,345.74 798.10,345.71 798.35,345.67 798.60,345.63 798.85,345.60 799.10,345.56 799.35,345.52 799.60,345.49 799.85,345.45 800.10,345.41 800.35,345.36 800.60,345.32 800.85,345.27 801.10,345.23 801.35,345.18 801.60,345.13 801.85,345.08 802.10,345.03 802.35,344.98 802.60,344.93 802.85,344.88 803.10,344.82 803.35,344.76 803.60,344.70 803.85,344.63 804.10,344.57 804.35,344.50 804.60,344.42 804.85,344.35 805.10,344.27 805.35,344.18 805.60,344.07 805.85,343.96 806.10,343.85 806.35,343.72 806.60,343.59 806.85,343.46 807.10,343.32 807.35,343.17 807.60,343.03 807.85,342.89 808.10,342.74 808.35,342.59 808.60,342.44 808.85,342.29 809.10,342.12 809.35,341.96 809.60,341.79 809.85,341.61 810.10,341.43 810.35,341.25 810.60,341.06 810.85,340.86 811.10,340.66 811.35,340.47 811.60,340.27 811.85,340.08 812.10,339.88 812.35,339.68 812.60,339.48 812.85,339.27 813.10,339.06 813.35,338.84 813.60,338.61 813.85,338.37 814.10,338.13 814.35,337.88 814.60,337.61 814.85,337.34 815.10,337.05 815.35,336.74 815.60,336.43 815.85,336.09 816.10,335.74 816.35,335.38 816.60,334.97 816.85,334.49 817.10,333.95 817.35,333.35 817.60,332.70 817.85,332.01 818.10,331.29 818.35,330.54 818.60,329.77 818.85,329.00 819.10,328.22 819.35,327.45 819.60,326.70 819.85,325.96 820.10,325.21 820.35,324.46 820.60,323.69 820.85,322.91 821.10,322.12 821.35,321.31 821.60,320.49 821.85,319.66 822.10,318.80 822.35,317.93 822.60,317.04 822.85,316.10 823.10,315.12 823.35,314.11 823.60,313.10 823.85,312.08 824.10,311.09 824.35,310.12 824.60,309.13 824.85,308.14 825.10,307.15 825.35,306.17 825.60,305.21 825.85,304.27 826.10,303.36 826.35,302.50 826.60,301.68 826.85,300.90 827.10,300.15 827.35,299.42 827.60,298.72 827.85,298.03 828.10,297.36 828.35,296.70 828.60,296.04 828.85,295.38 829.10,294.71 829.35,294.04 829.60,293.35 829.85,292.64 830.10,291.91 830.35,291.13 830.60,290.31 830.85,289.49 831.10,288.66 831.35,287.84 831.60,287.06 831.85,286.32 832.10,285.63 832.35,285.02 832.60,284.50 832.85,284.02 833.10,283.54 833.35,283.06 833.60,282.59 833.85,282.15 834.10,281.74 834.35,281.37 834.60,281.05 834.85,280.80 835.10,280.62 835.35,280.52 835.60,280.51 835.85,280.57 836.10,280.70 836.35,280.89 836.60,281.13 836.85,281.41 837.10,281.74 837.35,282.10 837.60,282.48 837.85,282.89 838.10,283.31 838.35,283.74 838.60,284.18 838.85,284.70 839.10,285.31 839.35,286.00 839.60,286.76 839.85,287.58 840.10,288.46 840.35,289.39 840.60,290.35 840.85,291.34 841.10,292.36 841.35,293.38 841.60,294.43 841.85,295.63 842.10,296.97 842.35,298.38 842.60,299.81 842.85,301.20 843.10,302.48 843.35,303.60 843.60,304.55 843.85,305.43 844.10,306.24 844.35,307.00 844.60,307.72 844.85,308.41 845.10,309.08 845.35,309.74 845.60,310.39 845.85,311.05 846.10,311.74 846.35,312.45 846.60,313.20 846.85,313.99 847.10,314.85 847.35,315.79 847.60,316.80 847.85,317.85 848.10,318.94 848.35,320.04 848.60,321.13 848.85,322.20 849.10,323.23 849.35,324.19 849.60,325.07 849.85,325.87 850.10,326.64 850.35,327.37 850.60,328.08 850.85,328.76 851.10,329.41 851.35,330.03 851.60,330.62 851.85,331.18 852.10,331.71 852.35,332.23 852.60,332.75 852.85,333.26 853.10,333.75 853.35,334.22 853.60,334.67 853.85,335.08 854.10,335.46 854.35,335.80 854.60,336.10 854.85,336.35 855.10,336.57 855.35,336.79 855.60,337.01 855.85,337.22 856.10,337.42 856.35,337.62 856.60,337.82 856.85,338.00 857.10,338.18 857.35,338.35 857.60,338.51 857.85,338.66 858.10,338.81 858.35,338.94 858.60,339.07 858.85,339.19 859.10,339.29 859.35,339.39 859.60,339.47 859.85,339.54 860.10,339.60 860.35,339.65 860.60,339.69 860.85,339.71 861.10,339.74 861.35,339.76 861.60,339.78 861.85,339.81 862.10,339.83 862.35,339.85 862.60,339.87 862.85,339.89 863.10,339.91 863.35,339.93 863.60,339.95 863.85,339.96 864.10,339.98 864.35,340.00 864.60,340.01 864.85,340.03 865.10,340.04 865.35,340.05 865.60,340.07 865.85,340.08 866.10,340.09 866.35,340.10 866.60,340.11 866.85,340.12 867.10,340.13 867.35,340.14 867.60,340.15 867.85,340.16 868.10,340.16 868.35,340.17 868.60,340.18 868.85,340.18 869.10,340.19 869.35,340.19 869.60,340.19 869.85,340.20 870.10,340.20 870.35,340.20 870.60,340.20 870.85,340.20 871.10,340.20 871.35,340.19 871.60,340.17 871.85,340.16 872.10,340.13 872.35,340.11 872.60,340.07 872.85,340.04 873.10,340.00 873.35,339.96 873.60,339.91 873.85,339.86 874.10,339.81 874.35,339.75 874.60,339.70 874.85,339.64 875.10,339.57 875.35,339.51 875.60,339.45 875.85,339.38 876.10,339.31 876.35,339.24 876.60,339.17 876.85,339.10 877.10,339.02 877.35,338.95 877.60,338.88 877.85,338.80 878.10,338.73 878.35,338.66 878.60,338.58 878.85,338.51 879.10,338.44 879.35,338.37 879.60,338.30 879.85,338.24 880.10,338.17 880.35,338.11 880.60,338.05 880.85,337.99 881.10,337.93 881.35,337.87 881.60,337.81 881.85,337.75 882.10,337.69 882.35,337.63 882.60,337.57 882.85,337.51 883.10,337.44 883.35,337.38 883.60,337.32 883.85,337.26 884.10,337.19 884.35,337.13 884.60,337.07 884.85,337.00 885.10,336.94 885.35,336.88 885.60,336.81 885.85,336.75 886.10,336.69 886.35,336.62 886.60,336.56 886.85,336.49 887.10,336.43 887.35,336.37 887.60,336.31 887.85,336.24 888.10,336.18 888.35,336.12 888.60,336.05 888.85,335.99 889.10,335.93 889.35,335.87 889.60,335.81 889.85,335.75 890.10,335.69 890.35,335.63 890.60,335.57 890.85,335.51 891.10,335.45 891.35,335.40 891.60,335.34 891.85,335.29 892.10,335.23 892.35,335.18 892.60,335.13 892.85,335.07 893.10,335.02 893.35,334.97 893.60,334.92 893.85,334.87 894.10,334.82 894.35,334.77 894.60,334.72 894.85,334.67 895.10,334.62 895.35,334.57 895.60,334.52 895.85,334.47 896.10,334.42 896.35,334.36 896.60,334.31 896.85,334.26 897.10,334.20 897.35,334.15 897.60,334.09 897.85,334.04 898.10,333.98 898.35,333.92 898.60,333.86 898.85,333.80 899.10,333.74 899.35,333.67 899.60,333.61 899.85,333.54 900.10,333.47 900.35,333.40 900.60,333.33 900.85,333.26 901.10,333.19 901.35,333.12 901.60,333.04 901.85,332.97 902.10,332.89 902.35,332.81 902.60,332.74 902.85,332.66 903.10,332.58 903.35,332.50 903.60,332.42 903.85,332.33 904.10,332.25 904.35,332.16 904.60,332.08 904.85,331.99 905.10,331.90 905.35,331.81 905.60,331.72 905.85,331.63 906.10,331.54 906.35,331.44 906.60,331.34 906.85,331.25 907.10,331.15 907.35,331.05 907.60,330.95 907.85,330.84 908.10,330.74 908.35,330.63 908.60,330.52 908.85,330.41 909.10,330.30 909.35,330.19 909.60,330.08 909.85,329.96 910.10,329.85 910.35,329.73 910.60,329.61 910.85,329.48 911.10,329.36 911.35,329.23 911.60,329.11 911.85,328.98 912.10,328.85 912.35,328.71 912.60,328.58 912.85,328.44 913.10,328.29 913.35,328.15 913.60,328.00 913.85,327.85 914.10,327.69 914.35,327.54 914.60,327.38 914.85,327.21 915.10,327.04 915.35,326.87 915.60,326.70 915.85,326.52 916.10,326.34 916.35,326.15 916.60,325.97 916.85,325.77 917.10,325.58 917.35,325.38 917.60,325.18 917.85,324.97 918.10,324.76 918.35,324.55 918.60,324.33 918.85,324.11 919.10,323.88 919.35,323.65 919.60,323.42 919.85,323.18 920.10,322.94 920.35,322.70 920.60,322.45 920.85,322.19 921.10,321.94 921.35,321.67 921.60,321.41 921.85,321.14 922.10,320.86 922.35,320.58 922.60,320.30 922.85,320.00 923.10,319.69 923.35,319.35 923.60,319.00 923.85,318.63 924.10,318.24 924.35,317.84 924.60,317.42 924.85,317.00 925.10,316.56 925.35,316.11 925.60,315.66 925.85,315.19 926.10,314.72 926.35,314.25 926.60,313.77 926.85,313.29 927.10,312.80 927.35,312.30 927.60,311.76 927.85,311.21 928.10,310.63 928.35,310.05 928.60,309.45 928.85,308.84 929.10,308.22 929.35,307.61 929.60,306.99 929.85,306.38 930.10,305.78 930.35,305.19 930.60,304.61 930.85,304.05 931.10,303.51 931.35,302.99 931.60,302.46 931.85,301.93 932.10,301.39 932.35,300.85 932.60,300.30 932.85,299.76 933.10,299.22 933.35,298.68 933.60,298.14 933.85,297.62 934.10,297.10 934.35,296.58 934.60,296.08 934.85,295.60 935.10,295.12 935.35,294.66 935.60,294.22 935.85,293.80 936.10,293.40 936.35,293.02 936.60,292.66 936.85,292.33 937.10,292.03 937.35,291.75 937.60,291.50 937.85,291.26 938.10,291.01 938.35,290.77 938.60,290.53 938.85,290.29 939.10,290.06 939.35,289.84 939.60,289.63 939.85,289.43 940.10,289.24 940.35,289.07 940.60,288.91 940.85,288.77 941.10,288.65 941.35,288.55 941.60,288.48 941.85,288.43 942.10,288.40 942.35,288.40 942.60,288.43 942.85,288.47 943.10,288.52 943.35,288.60 943.60,288.69 943.85,288.79 944.10,288.91 944.35,289.04 944.60,289.17 944.85,289.32 945.10,289.48 945.35,289.64 945.60,289.81 945.85,289.99 946.10,290.16 946.35,290.34 946.60,290.53 946.85,290.72 947.10,290.94 947.35,291.19 947.60,291.47 947.85,291.77 948.10,292.09 948.35,292.44 948.60,292.80 948.85,293.17 949.10,293.55 949.35,293.94 949.60,294.32 949.85,294.71 950.10,295.10 950.35,295.50 950.60,295.92 950.85,296.37 951.10,296.84 951.35,297.32 951.60,297.80 951.85,298.29 952.10,298.78 952.35,299.26 952.60,299.73 952.85,300.19 953.10,300.62 953.35,301.02 953.60,301.41 953.85,301.79 954.10,302.16 954.35,302.54 954.60,302.91 954.85,303.27 955.10,303.62 955.35,303.97 955.60,304.31 955.85,304.64 956.10,304.95 956.35,305.26 956.60,305.56 956.85,305.84 957.10,306.10 957.35,306.36 957.60,306.59 957.85,306.82 958.10,307.04 958.35,307.26 958.60,307.47 958.85,307.67 959.10,307.87 959.35,308.06 959.60,308.25 959.85,308.43 960.10,308.60 960.35,308.77 960.60,308.94 960.85,309.10 961.10,309.26 961.35,309.41 961.60,309.56 961.85,309.70 962.10,309.84 962.35,309.98 962.60,310.13 962.85,310.28 963.10,310.42 963.35,310.57 963.60,310.70 963.85,310.83 964.10,310.94 964.35,311.04 964.60,311.12 964.85,311.18 965.10,311.21 965.35,311.24 965.60,311.27 965.85,311.29 966.10,311.31 966.35,311.33 966.60,311.35 966.85,311.37 967.10,311.38 967.35,311.39 967.60,311.40 967.85,311.40 968.10,311.40 968.35,311.39 968.60,311.37 968.85,311.34 969.10,311.30 969.35,311.25 969.60,311.20 969.85,311.14 970.10,311.08 970.35,311.01 970.60,310.94 970.85,310.86 971.10,310.78 971.35,310.71 971.60,310.63 971.85,310.55 972.10,310.47 972.35,310.37 972.60,310.27 972.85,310.17 973.10,310.05 973.35,309.93 973.60,309.80 973.85,309.67 974.10,309.53 974.35,309.38 974.60,309.23 974.85,309.08 975.10,308.92 975.35,308.75 975.60,308.58 975.85,308.41 976.10,308.24 976.35,308.06 976.60,307.87 976.85,307.69 977.10,307.50 977.35,307.31 977.60,307.12 977.85,306.93 978.10,306.73 978.35,306.54 978.60,306.34 978.85,306.14 979.10,305.92 979.35,305.71 979.60,305.48 979.85,305.25 980.10,305.01 980.35,304.77 980.60,304.52 980.85,304.26 981.10,304.00 981.35,303.74 981.60,303.47 981.85,303.19 982.10,302.91 982.35,302.63 982.60,302.34 982.85,302.04 983.10,301.74 983.35,301.44 983.60,301.14 983.85,300.83 984.10,300.51 984.35,300.20 984.60,299.88 984.85,299.56 985.10,299.23 985.35,298.90 985.60,298.57 985.85,298.22 986.10,297.87 986.35,297.51 986.60,297.14 986.85,296.76 987.10,296.38 987.35,295.99 987.60,295.59 987.85,295.19 988.10,294.78 988.35,294.37 988.60,293.95 988.85,293.52 989.10,293.09 989.35,292.65 989.60,292.21 989.85,291.76 990.10,291.31 990.35,290.86 990.60,290.40 990.85,289.92 991.10,289.42 991.35,288.90 991.60,288.37 991.85,287.83 992.10,287.28 992.35,286.74 992.60,286.21 992.85,285.69 993.10,285.19 993.35,284.72 993.60,284.29 993.85,283.88 994.10,283.47 994.35,283.05 994.60,282.60 994.85,282.11 995.10,281.55 995.35,280.94 995.60,280.29 995.85,279.59 996.10,278.86 996.35,278.10 996.60,277.32 996.85,276.52 997.10,275.70 997.35,274.88 997.60,274.06 997.85,273.23 998.10,272.42 998.35,271.62 998.60,270.83 998.85,270.03 999.10,269.21 999.35,268.37 999.60,267.50 999.85,266.58 1000.10,265.60 1000.35,264.57 1000.60,263.48 1000.85,262.35 1001.10,261.18 1001.35,259.97 1001.60,258.73 1001.85,257.47 1002.10,256.19 1002.35,254.90 1002.60,253.61 1002.85,252.31 1003.10,251.02 1003.35,249.75 1003.60,248.48 1003.85,247.22 1004.10,245.94 1004.35,244.63 1004.60,243.28 1004.85,241.88 1005.10,240.39 1005.35,238.74 1005.60,236.95 1005.85,235.07 1006.10,233.17 1006.35,231.28 1006.60,229.48 1006.85,227.81 1007.10,226.32 1007.35,225.07 1007.60,223.95 1007.85,222.89 1008.10,221.88 1008.35,220.93 1008.60,220.02 1008.85,219.16 1009.10,218.33 1009.35,217.53 1009.60,216.77 1009.85,216.02 1010.10,215.30 1010.35,214.58 1010.60,213.88 1010.85,213.18 1011.10,212.49 1011.35,211.79 1011.60,211.07 1011.85,210.35 1012.10,209.61 1012.35,208.84 1012.60,208.05 1012.85,207.22 1013.10,206.36 1013.35,205.45 1013.60,204.47 1013.85,203.43 1014.10,202.36 1014.35,201.25 1014.60,200.12 1014.85,198.99 1015.10,197.87 1015.35,196.77 1015.60,195.71 1015.85,194.69 1016.10,193.73 1016.35,192.85 1016.60,192.06 1016.85,191.36 1017.10,190.77 1017.35,190.20 1017.60,189.62 1017.85,189.05 1018.10,188.50 1018.35,187.96 1018.60,187.46 1018.85,186.98 1019.10,186.55 1019.35,186.17 1019.60,185.84 1019.85,185.57 1020.10,185.37 1020.35,185.24 1020.60,185.20 1020.85,185.24 1021.10,185.35 1021.35,185.52 1021.60,185.76 1021.85,186.05 1022.10,186.38 1022.35,186.77 1022.60,187.18 1022.85,187.64 1023.10,188.11 1023.35,188.61 1023.60,189.12 1023.85,189.64 1024.10,190.17 1024.35,190.69 1024.60,191.21 1024.85,191.79 1025.10,192.44 1025.35,193.15 1025.60,193.91 1025.85,194.72 1026.10,195.58 1026.35,196.46 1026.60,197.38 1026.85,198.32 1027.10,199.27 1027.35,200.24 1027.60,201.20 1027.85,202.16 1028.10,203.11 1028.35,204.04 1028.60,204.95 1028.85,205.83 1029.10,206.69 1029.35,207.55 1029.60,208.42 1029.85,209.29 1030.10,210.17 1030.35,211.04 1030.60,211.92 1030.85,212.80 1031.10,213.67 1031.35,214.53 1031.60,215.39 1031.85,216.24 1032.10,217.08 1032.35,217.91 1032.60,218.73 1032.85,219.53 1033.10,220.31 1033.35,221.11 1033.60,221.91 1033.85,222.71 1034.10,223.51 1034.35,224.31 1034.60,225.10 1034.85,225.87 1035.10,226.62 1035.35,227.35 1035.60,228.06 1035.85,228.73 1036.10,229.36 1036.35,229.95 1036.60,230.50 1036.85,231.00 1037.10,231.51 1037.35,232.03 1037.60,232.54 1037.85,233.03 1038.10,233.51 1038.35,233.96 1038.60,234.38 1038.85,234.76 1039.10,235.10 1039.35,235.38 1039.60,235.60 1039.85,235.75 1040.10,235.83 1040.35,235.89 1040.60,235.95 1040.85,236.01 1041.10,236.06 1041.35,236.11 1041.60,236.15 1041.85,236.19 1042.10,236.22 1042.35,236.25 1042.60,236.27 1042.85,236.29 1043.10,236.30 1043.35,236.30 1043.60,236.29 1043.85,236.24 1044.10,236.17 1044.35,236.06 1044.60,235.94 1044.85,235.80 1045.10,235.64 1045.35,235.48 1045.60,235.31 1045.85,235.14 1046.10,234.98 1046.35,234.83 1046.60,234.68 1046.85,234.56 1047.10,234.46 1047.35,234.36 1047.60,234.25 1047.85,234.15 1048.10,234.04 1048.35,233.93 1048.60,233.83 1048.85,233.73 1049.10,233.63 1049.35,233.54 1049.60,233.46 1049.85,233.39 1050.10,233.32 1050.35,233.27 1050.60,233.23 1050.85,233.21 1051.10,233.20 1051.35,233.22 1051.60,233.28 1051.85,233.37 1052.10,233.49 1052.35,233.64 1052.60,233.81 1052.85,234.00 1053.10,234.20 1053.35,234.42 1053.60,234.64 1053.85,234.86 1054.10,235.09 1054.35,235.37 1054.60,235.68 1054.85,236.04 1055.10,236.43 1055.35,236.85 1055.60,237.29 1055.85,237.74 1056.10,238.20 1056.35,238.69 1056.60,239.23 1056.85,239.80 1057.10,240.42 1057.35,241.08 1057.60,241.76 1057.85,242.47 1058.10,243.20 1058.35,243.94 1058.60,244.70 1058.85,245.47 1059.10,246.24 1059.35,247.01 1059.60,247.78 1059.85,248.54 1060.10,249.28 1060.35,250.01 1060.60,250.71 1060.85,251.39 1061.10,252.04 1061.35,252.65 1061.60,253.22 1061.85,253.74 1062.10,254.22 1062.35,254.66 1062.60,255.07 1062.85,255.48 1063.10,255.87 1063.35,256.26 1063.60,256.63 1063.85,256.99 1064.10,257.35 1064.35,257.69 1064.60,258.03 1064.85,258.36 1065.10,258.68 1065.35,258.99 1065.60,259.30 1065.85,259.60 1066.10,259.89 1066.35,260.19 1066.60,260.47 1066.85,260.75 1067.10,261.03 1067.35,261.31 1067.60,261.58 1067.85,261.85 1068.10,262.12 1068.35,262.39 1068.60,262.66 1068.85,262.92 1069.10,263.19 1069.35,263.46 1069.60,263.73 1069.85,264.00 1070.10,264.28 1070.35,264.56 1070.60,264.83 1070.85,265.10 1071.10,265.36 1071.35,265.61 1071.60,265.86 1071.85,266.11 1072.10,266.35 1072.35,266.59 1072.60,266.82 1072.85,267.05 1073.10,267.28 1073.35,267.50 1073.60,267.73 1073.85,267.95 1074.10,268.17 1074.35,268.39 1074.60,268.61 1074.85,268.83 1075.10,269.05 1075.35,269.27 1075.60,269.49 1075.85,269.72 1076.10,269.94 1076.35,270.17 1076.60,270.40 1076.85,270.64 1077.10,270.88 1077.35,271.12 1077.60,271.37 1077.85,271.63 1078.10,271.88 1078.35,272.15 1078.60,272.42 1078.85,272.70 1079.10,272.98 1079.35,273.28 1079.60,273.58 1079.85,273.89 1080.10,274.21 1080.35,274.53 1080.60,274.87 1080.85,275.23 1081.10,275.60 1081.35,275.99 1081.60,276.39 1081.85,276.81 1082.10,277.24 1082.35,277.69 1082.60,278.15 1082.85,278.62 1083.10,279.09 1083.35,279.58 1083.60,280.08 1083.85,280.59 1084.10,281.11 1084.35,281.63 1084.60,282.16 1084.85,282.70 1085.10,283.24 1085.35,283.78 1085.60,284.33 1085.85,284.89 1086.10,285.44 1086.35,286.00 1086.60,286.56 1086.85,287.12 1087.10,287.68 1087.35,288.24 1087.60,288.79 1087.85,289.35 1088.10,289.90 1088.35,290.44 1088.60,290.99 1088.85,291.52 1089.10,292.06 1089.35,292.58 1089.60,293.10 1089.85,293.61 1090.10,294.11 1090.35,294.60 1090.60,295.09 1090.85,295.57 1091.10,296.06 1091.35,296.55 1091.60,297.04 1091.85,297.52 1092.10,298.01 1092.35,298.50 1092.60,298.99 1092.85,299.47 1093.10,299.96 1093.35,300.44 1093.60,300.93 1093.85,301.41 1094.10,301.89 1094.35,302.36 1094.60,302.84 1094.85,303.31 1095.10,303.78 1095.35,304.25 1095.60,304.72 1095.85,305.18 1096.10,305.64 1096.35,306.09 1096.60,306.55 1096.85,306.99 1097.10,307.44 1097.35,307.88 1097.60,308.31 1097.85,308.74 1098.10,309.17 1098.35,309.60 1098.60,310.04 1098.85,310.48 1099.10,310.92 1099.35,311.36 1099.60,311.81 1099.85,312.26 1100.10,312.71 1100.35,313.15 1100.60,313.60 1100.85,314.04 1101.10,314.47 1101.35,314.90 1101.60,315.33 1101.85,315.75 1102.10,316.16 1102.35,316.57 1102.60,316.96 1102.85,317.35 1103.10,317.72 1103.35,318.09 1103.60,318.44 1103.85,318.77 1104.10,319.09 1104.35,319.40 1104.60,319.69 1104.85,319.96 1105.10,320.22 1105.35,320.46 1105.60,320.68 1105.85,320.90 1106.10,321.12 1106.35,321.33 1106.60,321.54 1106.85,321.75 1107.10,321.95 1107.35,322.14 1107.60,322.33 1107.85,322.50 1108.10,322.67 1108.35,322.82 1108.60,322.97 1108.85,323.10 1109.10,323.21 1109.35,323.31 1109.60,323.40 1109.85,323.47 1110.10,323.52 1110.35,323.57 1110.60,323.61 1110.85,323.66 1111.10,323.70 1111.35,323.74 1111.60,323.78 1111.85,323.82 1112.10,323.85 1112.35,323.88 1112.60,323.91 1112.85,323.93 1113.10,323.95 1113.35,323.97 1113.60,323.98 1113.85,323.99 1114.10,324.00 1114.35,324.00 1114.60,323.97 1114.85,323.90 1115.10,323.81 1115.35,323.68 1115.60,323.52 1115.85,323.35 1116.10,323.15 1116.35,322.94 1116.60,322.72 1116.85,322.50 1117.10,322.27 1117.35,322.05 1117.60,321.83 1117.85,321.62 1118.10,321.42 1118.35,321.22 1118.60,321.03 1118.85,320.82 1119.10,320.61 1119.35,320.40 1119.60,320.19 1119.85,319.97 1120.10,319.74 1120.35,319.50 1120.60,319.26 1120.85,319.02 1121.10,318.76 1121.35,318.50 1121.60,318.22 1121.85,317.94 1122.10,317.64 1122.35,317.31 1122.60,316.96 1122.85,316.58 1123.10,316.20 1123.35,315.80 1123.60,315.40 1123.85,315.00 1124.10,314.59 1124.35,314.19 1124.60,313.79 1124.85,313.41 1125.10,313.05 1125.35,312.70 1125.60,312.37 1125.85,312.04 1126.10,311.70 1126.35,311.37 1126.60,311.03 1126.85,310.70 1127.10,310.37 1127.35,310.06 1127.60,309.76 1127.85,309.47 1128.10,309.21 1128.35,308.98 1128.60,308.77 1128.85,308.59 1129.10,308.44 1129.35,308.30 1129.60,308.17 1129.85,308.03 1130.10,307.91 1130.35,307.78 1130.60,307.67 1130.85,307.56 1131.10,307.47 1131.35,307.39 1131.60,307.32 1131.85,307.26 1132.10,307.22 1132.35,307.20 1132.60,307.20 1132.85,307.23 1133.10,307.28 1133.35,307.35 1133.60,307.44 1133.85,307.56 1134.10,307.69 1134.35,307.83 1134.60,307.99 1134.85,308.16 1135.10,308.33 1135.35,308.51 1135.60,308.70 1135.85,308.89 1136.10,309.08 1136.35,309.30 1136.60,309.56 1136.85,309.84 1137.10,310.16 1137.35,310.49 1137.60,310.85 1137.85,311.22 1138.10,311.60 1138.35,311.99 1138.60,312.38 1138.85,312.77 1139.10,313.16 1139.35,313.55 1139.60,313.97 1139.85,314.39 1140.10,314.83 1140.35,315.28 1140.60,315.74 1140.85,316.21 1141.10,316.69 1141.35,317.18 1141.60,317.68 1141.85,318.19 1142.10,318.71 1142.35,319.26 1142.60,319.85 1142.85,320.46 1143.10,321.08 1143.35,321.70 1143.60,322.31 1143.85,322.91 1144.10,323.47 1144.35,324.00 1144.60,324.50 1144.85,324.99 1145.10,325.49 1145.35,325.99 1145.60,326.48 1145.85,326.98 1146.10,327.47 1146.35,327.95 1146.60,328.43 1146.85,328.89 1147.10,329.35 1147.35,329.80 1147.60,330.23 1147.85,330.65 1148.10,331.05 1148.35,331.43 1148.60,331.80 1148.85,332.14 1149.10,332.47 1149.35,332.77 1149.60,333.04 1149.85,333.30 1150.10,333.52 1150.35,333.72 1150.60,333.91 1150.85,334.11 1151.10,334.30 1151.35,334.48 1151.60,334.67 1151.85,334.85 1152.10,335.02 1152.35,335.20 1152.60,335.36 1152.85,335.53 1153.10,335.68 1153.35,335.84 1153.60,335.98 1153.85,336.12 1154.10,336.26 1154.35,336.38 1154.60,336.51 1154.85,336.62 1155.10,336.72 1155.35,336.82 1155.60,336.91 1155.85,336.99 1156.10,337.07 1156.35,337.13 1156.60,337.19 1156.85,337.23 1157.10,337.27 1157.35,337.29 1157.60,337.31 1157.85,337.32 1158.10,337.33 1158.35,337.34 1158.60,337.36 1158.85,337.37 1159.10,337.38 1159.35,337.39 1159.60,337.40 1159.85,337.41 1160.10,337.42 1160.35,337.43 1160.60,337.44 1160.85,337.45 1161.10,337.46 1161.35,337.47 1161.60,337.48 1161.85,337.48 1162.10,337.49 1162.35,337.50 1162.60,337.51 1162.85,337.51 1163.10,337.52 1163.35,337.53 1163.60,337.53 1163.85,337.54 1164.10,337.55 1164.35,337.55 1164.60,337.56 1164.85,337.56 1165.10,337.57 1165.35,337.57 1165.60,337.57 1165.85,337.58 1166.10,337.58 1166.35,337.58 1166.60,337.59 1166.85,337.59 1167.10,337.59 1167.35,337.59 1167.60,337.60 1167.85,337.60 1168.10,337.60 1168.35,337.60 1168.60,337.60 1168.85,337.60 1169.10,337.60 1169.35,337.60 1169.60,337.59 1169.85,337.59 1170.10,337.58 1170.35,337.57 1170.60,337.55 1170.85,337.53 1171.10,337.51 1171.35,337.49 1171.60,337.47 1171.85,337.44 1172.10,337.41 1172.35,337.38 1172.60,337.35 1172.85,337.32 1173.10,337.28 1173.35,337.25 1173.60,337.21 1173.85,337.17 1174.10,337.13 1174.35,337.08 1174.60,337.04 1174.85,337.00 1175.10,336.95 1175.35,336.90 1175.60,336.86 1175.85,336.81 1176.10,336.76 1176.35,336.71 1176.60,336.66 1176.85,336.61 1177.10,336.55 1177.35,336.50 1177.60,336.45 1177.85,336.40 1178.10,336.35 1178.35,336.29 1178.60,336.24 1178.85,336.19 1179.10,336.14 1179.35,336.09 1179.60,336.04 1179.85,335.99 1180.10,335.94 1180.35,335.89 1180.60,335.84 1180.85,335.79 1181.10,335.74 1181.35,335.69 1181.60,335.64 1181.85,335.59 1182.10,335.54 1182.35,335.49 1182.60,335.43 1182.85,335.38 1183.10,335.32 1183.35,335.27 1183.60,335.21 1183.85,335.15 1184.10,335.09 1184.35,335.03 1184.60,334.97 1184.85,334.91 1185.10,334.85 1185.35,334.79 1185.60,334.73 1185.85,334.66 1186.10,334.60 1186.35,334.54 1186.60,334.47 1186.85,334.41 1187.10,334.34 1187.35,334.28 1187.60,334.21 1187.85,334.15 1188.10,334.08 1188.35,334.01 1188.60,333.95 1188.85,333.88 1189.10,333.81 1189.35,333.75 1189.60,333.68 1189.85,333.61 1190.10,333.54 1190.35,333.48 1190.60,333.41 1190.85,333.34 1191.10,333.27 1191.35,333.21 1191.60,333.14 1191.85,333.07 1192.10,333.01 1192.35,332.94 1192.60,332.87 1192.85,332.81 1193.10,332.74 1193.35,332.67 1193.60,332.61 1193.85,332.54 1194.10,332.48 1194.35,332.41 1194.60,332.34 1194.85,332.28 1195.10,332.21 1195.35,332.14 1195.60,332.08 1195.85,332.01 1196.10,331.94 1196.35,331.87 1196.60,331.80 1196.85,331.74 1197.10,331.67 1197.35,331.60 1197.60,331.53 1197.85,331.46 1198.10,331.39 1198.35,331.32 1198.60,331.25 1198.85,331.18 1199.10,331.10 1199.35,331.03 1199.60,330.96 1199.85,330.88 1200.10,330.81 1200.35,330.74 1200.60,330.66 1200.85,330.58 1201.10,330.51 1201.35,330.43 1201.60,330.35 1201.85,330.27 1202.10,330.19 1202.35,330.11 1202.60,330.03 1202.85,329.95 1203.10,329.87 1203.35,329.78 1203.60,329.70 1203.85,329.61 1204.10,329.52 1204.35,329.43 1204.60,329.34 1204.85,329.24 1205.10,329.15 1205.35,329.06 1205.60,328.96 1205.85,328.87 1206.10,328.77 1206.35,328.67 1206.60,328.57 1206.85,328.48 1207.10,328.38 1207.35,328.28 1207.60,328.18 1207.85,328.08 1208.10,327.98 1208.35,327.88 1208.60,327.78 1208.85,327.68 1209.10,327.58 1209.35,327.48 1209.60,327.38 1209.85,327.28 1210.10,327.19 1210.35,327.09 1210.60,326.99 1210.85,326.90 1211.10,326.80" fill="none" stroke="#00e1f5" stroke-width="2.6" stroke-linejoin="round" stroke-linecap="round"/>
<polyline points="761.10,336.20 761.35,336.18 761.60,336.17 761.85,336.15 762.10,336.13 762.35,336.12 762.60,336.10 762.85,336.09 763.10,336.07 763.35,336.05 763.60,336.03 763.85,336.02 764.10,336.00 764.35,335.98 764.60,335.97 764.85,335.95 765.10,335.93 765.35,335.92 765.60,335.90 765.85,335.88 766.10,335.87 766.35,335.85 766.60,335.83 766.85,335.82 767.10,335.80 767.35,335.78 767.60,335.77 767.85,335.75 768.10,335.73 768.35,335.71 768.60,335.70 768.85,335.68 769.10,335.66 769.35,335.65 769.60,335.63 769.85,335.62 770.10,335.60 770.35,335.58 770.60,335.57 770.85,335.55 771.10,335.53 771.35,335.52 771.60,335.50 771.85,335.49 772.10,335.47 772.35,335.46 772.60,335.44 772.85,335.43 773.10,335.41 773.35,335.40 773.60,335.38 773.85,335.37 774.10,335.35 774.35,335.34 774.60,335.32 774.85,335.31 775.10,335.29 775.35,335.28 775.60,335.27 775.85,335.26 776.10,335.24 776.35,335.23 776.60,335.22 776.85,335.21 777.10,335.20 777.35,335.19 777.60,335.18 777.85,335.17 778.10,335.16 778.35,335.15 778.60,335.15 778.85,335.14 779.10,335.13 779.35,335.12 779.60,335.11 779.85,335.10 780.10,335.09 780.35,335.08 780.60,335.07 780.85,335.06 781.10,335.05 781.35,335.04 781.60,335.03 781.85,335.01 782.10,335.00 782.35,334.99 782.60,334.98 782.85,334.96 783.10,334.95 783.35,334.93 783.60,334.91 783.85,334.89 784.10,334.88 784.35,334.86 784.60,334.84 784.85,334.81 785.10,334.79 785.35,334.76 785.60,334.72 785.85,334.68 786.10,334.63 786.35,334.57 786.60,334.51 786.85,334.44 787.10,334.37 787.35,334.30 787.60,334.22 787.85,334.14 788.10,334.05 788.35,333.96 788.60,333.88 788.85,333.79 789.10,333.70 789.35,333.61 789.60,333.52 789.85,333.43 790.10,333.34 790.35,333.25 790.60,333.17 790.85,333.08 791.10,332.99 791.35,332.91 791.60,332.82 791.85,332.73 792.10,332.64 792.35,332.54 792.60,332.45 792.85,332.35 793.10,332.25 793.35,332.15 793.60,332.05 793.85,331.95 794.10,331.85 794.35,331.74 794.60,331.63 794.85,331.52 795.10,331.41 795.35,331.30 795.60,331.19 795.85,331.07 796.10,330.95 796.35,330.83 796.60,330.71 796.85,330.59 797.10,330.47 797.35,330.35 797.60,330.23 797.85,330.11 798.10,329.98 798.35,329.86 798.60,329.72 798.85,329.59 799.10,329.45 799.35,329.31 799.60,329.16 799.85,329.00 800.10,328.84 800.35,328.67 800.60,328.49 800.85,328.30 801.10,328.10 801.35,327.90 801.60,327.68 801.85,327.45 802.10,327.20 802.35,326.93 802.60,326.63 802.85,326.30 803.10,325.94 803.35,325.56 803.60,325.16 803.85,324.73 804.10,324.28 804.35,323.80 804.60,323.29 804.85,322.77 805.10,322.22 805.35,321.64 805.60,321.05 805.85,320.41 806.10,319.65 806.35,318.80 806.60,317.86 806.85,316.85 807.10,315.78 807.35,314.69 807.60,313.57 807.85,312.46 808.10,311.36 808.35,310.21 808.60,309.02 808.85,307.79 809.10,306.54 809.35,305.27 809.60,304.00 809.85,302.74 810.10,301.49 810.35,300.23 810.60,298.94 810.85,297.60 811.10,296.19 811.35,294.69 811.60,293.00 811.85,291.16 812.10,289.26 812.35,287.38 812.60,285.64 812.85,284.08 813.10,282.61 813.35,281.21 813.60,279.86 813.85,278.55 814.10,277.27 814.35,276.01 814.60,274.76 814.85,273.51 815.10,272.24 815.35,270.94 815.60,269.60 815.85,268.22 816.10,266.80 816.35,265.36 816.60,263.91 816.85,262.44 817.10,260.95 817.35,259.45 817.60,257.94 817.85,256.43 818.10,254.91 818.35,253.38 818.60,251.86 818.85,250.33 819.10,248.81 819.35,247.29 819.60,245.78 819.85,244.28 820.10,242.78 820.35,241.30 820.60,239.77 820.85,238.17 821.10,236.54 821.35,234.90 821.60,233.30 821.85,231.76 822.10,230.31 822.35,228.98 822.60,227.81 822.85,226.81 823.10,225.87 823.35,224.92 823.60,223.99 823.85,223.08 824.10,222.21 824.35,221.41 824.60,220.68 824.85,220.04 825.10,219.50 825.35,219.09 825.60,218.82 825.85,218.70 826.10,218.75 826.35,218.97 826.60,219.32 826.85,219.81 827.10,220.41 827.35,221.11 827.60,221.88 827.85,222.73 828.10,223.62 828.35,224.55 828.60,225.49 828.85,226.44 829.10,227.39 829.35,228.49 829.60,229.76 829.85,231.17 830.10,232.68 830.35,234.26 830.60,235.88 830.85,237.52 831.10,239.13 831.35,240.70 831.60,242.19 831.85,243.62 832.10,245.00 832.35,246.36 832.60,247.69 832.85,249.00 833.10,250.32 833.35,251.64 833.60,252.97 833.85,254.33 834.10,255.73 834.35,257.17 834.60,258.67 834.85,260.23 835.10,261.86 835.35,263.58 835.60,265.39 835.85,267.30 836.10,269.37 836.35,271.91 836.60,274.82 836.85,277.88 837.10,280.88 837.35,283.59 837.60,285.85 837.85,287.87 838.10,289.74 838.35,291.50 838.60,293.18 838.85,294.82 839.10,296.44 839.35,298.07 839.60,299.74 839.85,301.44 840.10,303.14 840.35,304.84 840.60,306.51 840.85,308.15 841.10,309.72 841.35,311.21 841.60,312.61 841.85,313.89 842.10,315.06 842.35,316.18 842.60,317.28 842.85,318.35 843.10,319.39 843.35,320.38 843.60,321.32 843.85,322.20 844.10,323.01 844.35,323.75 844.60,324.42 844.85,325.00 845.10,325.49 845.35,325.95 845.60,326.39 845.85,326.82 846.10,327.23 846.35,327.62 846.60,328.00 846.85,328.36 847.10,328.71 847.35,329.04 847.60,329.35 847.85,329.65 848.10,329.94 848.35,330.21 848.60,330.47 848.85,330.72 849.10,330.95 849.35,331.17 849.60,331.38 849.85,331.58 850.10,331.76 850.35,331.94 850.60,332.10 850.85,332.26 851.10,332.41 851.35,332.56 851.60,332.72 851.85,332.86 852.10,333.01 852.35,333.16 852.60,333.30 852.85,333.44 853.10,333.57 853.35,333.71 853.60,333.84 853.85,333.96 854.10,334.08 854.35,334.20 854.60,334.32 854.85,334.43 855.10,334.53 855.35,334.64 855.60,334.73 855.85,334.83 856.10,334.91 856.35,335.00 856.60,335.07 856.85,335.14 857.10,335.21 857.35,335.27 857.60,335.32 857.85,335.37 858.10,335.41 858.35,335.44 858.60,335.47 858.85,335.49 859.10,335.50 859.35,335.52 859.60,335.53 859.85,335.54 860.10,335.55 860.35,335.56 860.60,335.57 860.85,335.58 861.10,335.58 861.35,335.59 861.60,335.60 861.85,335.60 862.10,335.61 862.35,335.62 862.60,335.62 862.85,335.63 863.10,335.63 863.35,335.64 863.60,335.64 863.85,335.64 864.10,335.65 864.35,335.65 864.60,335.66 864.85,335.66 865.10,335.66 865.35,335.67 865.60,335.67 865.85,335.67 866.10,335.68 866.35,335.68 866.60,335.69 866.85,335.69 867.10,335.69 867.35,335.70 867.60,335.70 867.85,335.71 868.10,335.71 868.35,335.72 868.60,335.73 868.85,335.73 869.10,335.74 869.35,335.75 869.60,335.75 869.85,335.76 870.10,335.77 870.35,335.78 870.60,335.79 870.85,335.80 871.10,335.82 871.35,335.83 871.60,335.85 871.85,335.87 872.10,335.89 872.35,335.92 872.60,335.95 872.85,335.98 873.10,336.01 873.35,336.04 873.60,336.08 873.85,336.11 874.10,336.15 874.35,336.19 874.60,336.23 874.85,336.27 875.10,336.31 875.35,336.35 875.60,336.40 875.85,336.44 876.10,336.48 876.35,336.52 876.60,336.57 876.85,336.61 877.10,336.65 877.35,336.69 877.60,336.73 877.85,336.77 878.10,336.81 878.35,336.84 878.60,336.88 878.85,336.91 879.10,336.94 879.35,336.97 879.60,337.00 879.85,337.02 880.10,337.05 880.35,337.07 880.60,337.09 880.85,337.10 881.10,337.12 881.35,337.13 881.60,337.15 881.85,337.16 882.10,337.18 882.35,337.19 882.60,337.20 882.85,337.22 883.10,337.23 883.35,337.24 883.60,337.26 883.85,337.27 884.10,337.28 884.35,337.29 884.60,337.30 884.85,337.31 885.10,337.33 885.35,337.34 885.60,337.34 885.85,337.35 886.10,337.36 886.35,337.37 886.60,337.37 886.85,337.38 887.10,337.39 887.35,337.39 887.60,337.39 887.85,337.40 888.10,337.40 888.35,337.40 888.60,337.40 888.85,337.39 889.10,337.37 889.35,337.33 889.60,337.29 889.85,337.23 890.10,337.17 890.35,337.09 890.60,337.01 890.85,336.92 891.10,336.82 891.35,336.71 891.60,336.60 891.85,336.47 892.10,336.35 892.35,336.21 892.60,336.07 892.85,335.93 893.10,335.78 893.35,335.62 893.60,335.46 893.85,335.30 894.10,335.14 894.35,334.97 894.60,334.80 894.85,334.63 895.10,334.46 895.35,334.28 895.60,334.11 895.85,333.94 896.10,333.76 896.35,333.59 896.60,333.42 896.85,333.25 897.10,333.08 897.35,332.92 897.60,332.76 897.85,332.60 898.10,332.44 898.35,332.29 898.60,332.15 898.85,332.01 899.10,331.87 899.35,331.75 899.60,331.62 899.85,331.51 900.10,331.40 900.35,331.30 900.60,331.21 900.85,331.13 901.10,331.05 901.35,330.99 901.60,330.93 901.85,330.87 902.10,330.82 902.35,330.77 902.60,330.72 902.85,330.67 903.10,330.63 903.35,330.59 903.60,330.55 903.85,330.51 904.10,330.48 904.35,330.44 904.60,330.41 904.85,330.38 905.10,330.35 905.35,330.32 905.60,330.29 905.85,330.26 906.10,330.24 906.35,330.21 906.60,330.19 906.85,330.16 907.10,330.14 907.35,330.11 907.60,330.09 907.85,330.06 908.10,330.03 908.35,330.01 908.60,329.98 908.85,329.95 909.10,329.92 909.35,329.89 909.60,329.86 909.85,329.82 910.10,329.79 910.35,329.75 910.60,329.71 910.85,329.67 911.10,329.63 911.35,329.59 911.60,329.54 911.85,329.49 912.10,329.44 912.35,329.38 912.60,329.32 912.85,329.26 913.10,329.20 913.35,329.13 913.60,329.05 913.85,328.98 914.10,328.90 914.35,328.80 914.60,328.67 914.85,328.52 915.10,328.33 915.35,328.12 915.60,327.89 915.85,327.63 916.10,327.35 916.35,327.06 916.60,326.75 916.85,326.42 917.10,326.08 917.35,325.72 917.60,325.36 917.85,324.99 918.10,324.61 918.35,324.23 918.60,323.84 918.85,323.42 919.10,322.97 919.35,322.47 919.60,321.95 919.85,321.39 920.10,320.81 920.35,320.20 920.60,319.57 920.85,318.91 921.10,318.24 921.35,317.54 921.60,316.84 921.85,316.12 922.10,315.39 922.35,314.65 922.60,313.90 922.85,313.12 923.10,312.30 923.35,311.43 923.60,310.51 923.85,309.56 924.10,308.57 924.35,307.55 924.60,306.51 924.85,305.44 925.10,304.36 925.35,303.26 925.60,302.16 925.85,301.05 926.10,299.94 926.35,298.83 926.60,297.73 926.85,296.64 927.10,295.57 927.35,294.52 927.60,293.50 927.85,292.50 928.10,291.53 928.35,290.61 928.60,289.72 928.85,288.88 929.10,288.08 929.35,287.28 929.60,286.47 929.85,285.65 930.10,284.83 930.35,284.01 930.60,283.19 930.85,282.39 931.10,281.60 931.35,280.82 931.60,280.07 931.85,279.34 932.10,278.65 932.35,277.98 932.60,277.36 932.85,276.78 933.10,276.25 933.35,275.77 933.60,275.35 933.85,274.99 934.10,274.69 934.35,274.46 934.60,274.25 934.85,274.05 935.10,273.86 935.35,273.68 935.60,273.52 935.85,273.37 936.10,273.25 936.35,273.14 936.60,273.07 936.85,273.02 937.10,273.00 937.35,273.03 937.60,273.11 937.85,273.25 938.10,273.43 938.35,273.66 938.60,273.93 938.85,274.24 939.10,274.59 939.35,274.97 939.60,275.38 939.85,275.82 940.10,276.28 940.35,276.76 940.60,277.26 940.85,277.77 941.10,278.30 941.35,278.83 941.60,279.37 941.85,279.91 942.10,280.53 942.35,281.27 942.60,282.10 942.85,283.02 943.10,284.03 943.35,285.11 943.60,286.24 943.85,287.44 944.10,288.67 944.35,289.94 944.60,291.23 944.85,292.53 945.10,293.84 945.35,295.14 945.60,296.43 945.85,297.69 946.10,298.92 946.35,300.11 946.60,301.24 946.85,302.31 947.10,303.30 947.35,304.26 947.60,305.24 947.85,306.22 948.10,307.21 948.35,308.21 948.60,309.20 948.85,310.19 949.10,311.18 949.35,312.16 949.60,313.13 949.85,314.08 950.10,315.02 950.35,315.94 950.60,316.83 950.85,317.70 951.10,318.55 951.35,319.36 951.60,320.13 951.85,320.87 952.10,321.57 952.35,322.22 952.60,322.83 952.85,323.39 953.10,323.90 953.35,324.36 953.60,324.76 953.85,325.14 954.10,325.51 954.35,325.88 954.60,326.24 954.85,326.59 955.10,326.93 955.35,327.27 955.60,327.59 955.85,327.91 956.10,328.21 956.35,328.51 956.60,328.80 956.85,329.08 957.10,329.35 957.35,329.60 957.60,329.85 957.85,330.09 958.10,330.31 958.35,330.53 958.60,330.73 958.85,330.93 959.10,331.11 959.35,331.28 959.60,331.44 959.85,331.58 960.10,331.72 960.35,331.84 960.60,331.95 960.85,332.05 961.10,332.13 961.35,332.21 961.60,332.29 961.85,332.37 962.10,332.45 962.35,332.53 962.60,332.60 962.85,332.67 963.10,332.74 963.35,332.81 963.60,332.88 963.85,332.95 964.10,333.02 964.35,333.08 964.60,333.14 964.85,333.20 965.10,333.26 965.35,333.32 965.60,333.38 965.85,333.44 966.10,333.49 966.35,333.55 966.60,333.60 966.85,333.65 967.10,333.70 967.35,333.75 967.60,333.80 967.85,333.84 968.10,333.89 968.35,333.93 968.60,333.98 968.85,334.02 969.10,334.06 969.35,334.10 969.60,334.14 969.85,334.18 970.10,334.21 970.35,334.25 970.60,334.28 970.85,334.32 971.10,334.35 971.35,334.38 971.60,334.41 971.85,334.44 972.10,334.47 972.35,334.50 972.60,334.52 972.85,334.55 973.10,334.57 973.35,334.60 973.60,334.62 973.85,334.65 974.10,334.67 974.35,334.69 974.60,334.71 974.85,334.73 975.10,334.75 975.35,334.76 975.60,334.78 975.85,334.80 976.10,334.81 976.35,334.83 976.60,334.84 976.85,334.86 977.10,334.87 977.35,334.89 977.60,334.90 977.85,334.92 978.10,334.93 978.35,334.95 978.60,334.96 978.85,334.98 979.10,334.99 979.35,335.01 979.60,335.02 979.85,335.03 980.10,335.05 980.35,335.06 980.60,335.07 980.85,335.08 981.10,335.10 981.35,335.11 981.60,335.12 981.85,335.13 982.10,335.14 982.35,335.15 982.60,335.16 982.85,335.17 983.10,335.18 983.35,335.19 983.60,335.20 983.85,335.21 984.10,335.22 984.35,335.23 984.60,335.24 984.85,335.24 985.10,335.25 985.35,335.26 985.60,335.26 985.85,335.27 986.10,335.27 986.35,335.28 986.60,335.28 986.85,335.29 987.10,335.29 987.35,335.29 987.60,335.30 987.85,335.30 988.10,335.30 988.35,335.30 988.60,335.30 988.85,335.30 989.10,335.30 989.35,335.29 989.60,335.29 989.85,335.28 990.10,335.27 990.35,335.26 990.60,335.25 990.85,335.23 991.10,335.22 991.35,335.20 991.60,335.18 991.85,335.16 992.10,335.14 992.35,335.11 992.60,335.09 992.85,335.07 993.10,335.04 993.35,335.01 993.60,334.98 993.85,334.95 994.10,334.93 994.35,334.89 994.60,334.86 994.85,334.83 995.10,334.80 995.35,334.77 995.60,334.73 995.85,334.70 996.10,334.66 996.35,334.63 996.60,334.59 996.85,334.56 997.10,334.52 997.35,334.49 997.60,334.45 997.85,334.42 998.10,334.38 998.35,334.35 998.60,334.31 998.85,334.28 999.10,334.24 999.35,334.21 999.60,334.17 999.85,334.14 1000.10,334.10 1000.35,334.07 1000.60,334.03 1000.85,334.00 1001.10,333.96 1001.35,333.92 1001.60,333.88 1001.85,333.85 1002.10,333.81 1002.35,333.77 1002.60,333.73 1002.85,333.69 1003.10,333.64 1003.35,333.60 1003.60,333.56 1003.85,333.51 1004.10,333.47 1004.35,333.42 1004.60,333.37 1004.85,333.33 1005.10,333.28 1005.35,333.23 1005.60,333.18 1005.85,333.13 1006.10,333.07 1006.35,333.02 1006.60,332.97 1006.85,332.91 1007.10,332.85 1007.35,332.79 1007.60,332.73 1007.85,332.67 1008.10,332.61 1008.35,332.55 1008.60,332.49 1008.85,332.42 1009.10,332.35 1009.35,332.28 1009.60,332.21 1009.85,332.14 1010.10,332.07 1010.35,331.99 1010.60,331.91 1010.85,331.82 1011.10,331.72 1011.35,331.62 1011.60,331.52 1011.85,331.40 1012.10,331.29 1012.35,331.17 1012.60,331.04 1012.85,330.92 1013.10,330.78 1013.35,330.65 1013.60,330.51 1013.85,330.36 1014.10,330.22 1014.35,330.07 1014.60,329.92 1014.85,329.76 1015.10,329.61 1015.35,329.45 1015.60,329.29 1015.85,329.13 1016.10,328.96 1016.35,328.80 1016.60,328.63 1016.85,328.47 1017.10,328.30 1017.35,328.13 1017.60,327.97 1017.85,327.80 1018.10,327.63 1018.35,327.47 1018.60,327.30 1018.85,327.13 1019.10,326.97 1019.35,326.81 1019.60,326.65 1019.85,326.49 1020.10,326.33 1020.35,326.17 1020.60,326.02 1020.85,325.87 1021.10,325.72 1021.35,325.57 1021.60,325.43 1021.85,325.29 1022.10,325.16 1022.35,325.03 1022.60,324.90 1022.85,324.77 1023.10,324.65 1023.35,324.52 1023.60,324.40 1023.85,324.28 1024.10,324.17 1024.35,324.05 1024.60,323.94 1024.85,323.82 1025.10,323.71 1025.35,323.60 1025.60,323.49 1025.85,323.37 1026.10,323.26 1026.35,323.16 1026.60,323.05 1026.85,322.94 1027.10,322.83 1027.35,322.72 1027.60,322.61 1027.85,322.50 1028.10,322.39 1028.35,322.28 1028.60,322.17 1028.85,322.06 1029.10,321.95 1029.35,321.83 1029.60,321.72 1029.85,321.60 1030.10,321.49 1030.35,321.37 1030.60,321.25 1030.85,321.13 1031.10,321.01 1031.35,320.88 1031.60,320.75 1031.85,320.62 1032.10,320.49 1032.35,320.36 1032.60,320.22 1032.85,320.08 1033.10,319.94 1033.35,319.80 1033.60,319.66 1033.85,319.53 1034.10,319.39 1034.35,319.25 1034.60,319.11 1034.85,318.97 1035.10,318.84 1035.35,318.69 1035.60,318.55 1035.85,318.41 1036.10,318.26 1036.35,318.11 1036.60,317.95 1036.85,317.79 1037.10,317.63 1037.35,317.46 1037.60,317.29 1037.85,317.11 1038.10,316.93 1038.35,316.74 1038.60,316.54 1038.85,316.34 1039.10,316.13 1039.35,315.91 1039.60,315.68 1039.85,315.45 1040.10,315.21 1040.35,314.95 1040.60,314.68 1040.85,314.37 1041.10,314.03 1041.35,313.66 1041.60,313.26 1041.85,312.84 1042.10,312.39 1042.35,311.92 1042.60,311.43 1042.85,310.92 1043.10,310.40 1043.35,309.86 1043.60,309.31 1043.85,308.76 1044.10,308.20 1044.35,307.64 1044.60,307.07 1044.85,306.51 1045.10,305.95 1045.35,305.40 1045.60,304.85 1045.85,304.32 1046.10,303.79 1046.35,303.27 1046.60,302.74 1046.85,302.20 1047.10,301.66 1047.35,301.12 1047.60,300.58 1047.85,300.03 1048.10,299.48 1048.35,298.92 1048.60,298.36 1048.85,297.80 1049.10,297.23 1049.35,296.66 1049.60,296.09 1049.85,295.51 1050.10,294.93 1050.35,294.35 1050.60,293.77 1050.85,293.18 1051.10,292.59 1051.35,292.00 1051.60,291.40 1051.85,290.79 1052.10,290.15 1052.35,289.49 1052.60,288.81 1052.85,288.11 1053.10,287.41 1053.35,286.70 1053.60,285.99 1053.85,285.28 1054.10,284.57 1054.35,283.88 1054.60,283.20 1054.85,282.55 1055.10,281.91 1055.35,281.31 1055.60,280.73 1055.85,280.20 1056.10,279.70 1056.35,279.25 1056.60,278.84 1056.85,278.44 1057.10,278.03 1057.35,277.63 1057.60,277.22 1057.85,276.82 1058.10,276.43 1058.35,276.04 1058.60,275.67 1058.85,275.31 1059.10,274.97 1059.35,274.64 1059.60,274.34 1059.85,274.06 1060.10,273.81 1060.35,273.59 1060.60,273.40 1060.85,273.24 1061.10,273.12 1061.35,273.04 1061.60,273.00 1061.85,273.01 1062.10,273.05 1062.35,273.12 1062.60,273.23 1062.85,273.37 1063.10,273.53 1063.35,273.72 1063.60,273.94 1063.85,274.17 1064.10,274.41 1064.35,274.68 1064.60,274.95 1064.85,275.24 1065.10,275.53 1065.35,275.82 1065.60,276.12 1065.85,276.48 1066.10,276.89 1066.35,277.35 1066.60,277.85 1066.85,278.40 1067.10,278.98 1067.35,279.60 1067.60,280.24 1067.85,280.90 1068.10,281.58 1068.35,282.26 1068.60,282.97 1068.85,283.74 1069.10,284.57 1069.35,285.44 1069.60,286.36 1069.85,287.32 1070.10,288.32 1070.35,289.35 1070.60,290.41 1070.85,291.48 1071.10,292.57 1071.35,293.68 1071.60,294.79 1071.85,295.90 1072.10,297.01 1072.35,298.11 1072.60,299.19 1072.85,300.26 1073.10,301.30 1073.35,302.32 1073.60,303.31 1073.85,304.25 1074.10,305.16 1074.35,306.07 1074.60,306.98 1074.85,307.90 1075.10,308.81 1075.35,309.72 1075.60,310.61 1075.85,311.50 1076.10,312.36 1076.35,313.21 1076.60,314.03 1076.85,314.82 1077.10,315.59 1077.35,316.31 1077.60,317.00 1077.85,317.64 1078.10,318.24 1078.35,318.82 1078.60,319.40 1078.85,319.97 1079.10,320.52 1079.35,321.06 1079.60,321.58 1079.85,322.08 1080.10,322.56 1080.35,323.01 1080.60,323.44 1080.85,323.83 1081.10,324.19 1081.35,324.52 1081.60,324.80 1081.85,325.05 1082.10,325.27 1082.35,325.49 1082.60,325.69 1082.85,325.89 1083.10,326.08 1083.35,326.26 1083.60,326.43 1083.85,326.60 1084.10,326.76 1084.35,326.91 1084.60,327.05 1084.85,327.20 1085.10,327.33 1085.35,327.46 1085.60,327.59 1085.85,327.71 1086.10,327.83 1086.35,327.95 1086.60,328.06 1086.85,328.17 1087.10,328.28 1087.35,328.39 1087.60,328.50 1087.85,328.60 1088.10,328.71 1088.35,328.82 1088.60,328.92 1088.85,329.03 1089.10,329.14 1089.35,329.25 1089.60,329.37 1089.85,329.49 1090.10,329.61 1090.35,329.73 1090.60,329.86 1090.85,329.99 1091.10,330.13 1091.35,330.27 1091.60,330.41 1091.85,330.57 1092.10,330.73 1092.35,330.89 1092.60,331.05 1092.85,331.22 1093.10,331.38 1093.35,331.55 1093.60,331.72 1093.85,331.89 1094.10,332.07 1094.35,332.24 1094.60,332.42 1094.85,332.60 1095.10,332.78 1095.35,332.96 1095.60,333.14 1095.85,333.32 1096.10,333.51 1096.35,333.70 1096.60,333.88 1096.85,334.07 1097.10,334.26 1097.35,334.45 1097.60,334.64 1097.85,334.83 1098.10,335.02 1098.35,335.22 1098.60,335.41 1098.85,335.61 1099.10,335.80 1099.35,336.00 1099.60,336.19 1099.85,336.39 1100.10,336.58 1100.35,336.78 1100.60,336.98 1100.85,337.17 1101.10,337.37 1101.35,337.57 1101.60,337.76 1101.85,337.96 1102.10,338.16 1102.35,338.35 1102.60,338.55 1102.85,338.74 1103.10,338.94 1103.35,339.13 1103.60,339.33 1103.85,339.52 1104.10,339.71 1104.35,339.90 1104.60,340.09 1104.85,340.28 1105.10,340.47 1105.35,340.66 1105.60,340.85 1105.85,341.05 1106.10,341.25 1106.35,341.45 1106.60,341.66 1106.85,341.88 1107.10,342.09 1107.35,342.32 1107.60,342.54 1107.85,342.77 1108.10,343.00 1108.35,343.23 1108.60,343.47 1108.85,343.71 1109.10,343.94 1109.35,344.18 1109.60,344.42 1109.85,344.66 1110.10,344.90 1110.35,345.14 1110.60,345.38 1110.85,345.62 1111.10,345.86 1111.35,346.09 1111.60,346.33 1111.85,346.56 1112.10,346.79 1112.35,347.01 1112.60,347.24 1112.85,347.46 1113.10,347.67 1113.35,347.88 1113.60,348.09 1113.85,348.29 1114.10,348.49 1114.35,348.68 1114.60,348.86 1114.85,349.04 1115.10,349.22 1115.35,349.38 1115.60,349.54 1115.85,349.69 1116.10,349.84 1116.35,349.97 1116.60,350.10 1116.85,350.22 1117.10,350.33 1117.35,350.42 1117.60,350.51 1117.85,350.59 1118.10,350.66 1118.35,350.72 1118.60,350.77 1118.85,350.81 1119.10,350.84 1119.35,350.87 1119.60,350.90 1119.85,350.93 1120.10,350.96 1120.35,350.98 1120.60,351.01 1120.85,351.03 1121.10,351.06 1121.35,351.08 1121.60,351.10 1121.85,351.13 1122.10,351.15 1122.35,351.17 1122.60,351.19 1122.85,351.21 1123.10,351.22 1123.35,351.24 1123.60,351.26 1123.85,351.28 1124.10,351.29 1124.35,351.31 1124.60,351.32 1124.85,351.34 1125.10,351.35 1125.35,351.37 1125.60,351.38 1125.85,351.39 1126.10,351.41 1126.35,351.42 1126.60,351.43 1126.85,351.44 1127.10,351.46 1127.35,351.47 1127.60,351.48 1127.85,351.49 1128.10,351.50 1128.35,351.52 1128.60,351.53 1128.85,351.54 1129.10,351.55 1129.35,351.57 1129.60,351.58 1129.85,351.59 1130.10,351.60 1130.35,351.62 1130.60,351.63 1130.85,351.64 1131.10,351.66 1131.35,351.67 1131.60,351.69 1131.85,351.70 1132.10,351.72 1132.35,351.74 1132.60,351.75 1132.85,351.77 1133.10,351.79 1133.35,351.81 1133.60,351.83 1133.85,351.84 1134.10,351.87 1134.35,351.89 1134.60,351.91 1134.85,351.93 1135.10,351.96 1135.35,351.98 1135.60,352.01 1135.85,352.04 1136.10,352.07 1136.35,352.10 1136.60,352.13 1136.85,352.16 1137.10,352.20 1137.35,352.23 1137.60,352.26 1137.85,352.30 1138.10,352.34 1138.35,352.37 1138.60,352.41 1138.85,352.45 1139.10,352.49 1139.35,352.53 1139.60,352.57 1139.85,352.61 1140.10,352.65 1140.35,352.69 1140.60,352.73 1140.85,352.77 1141.10,352.81 1141.35,352.85 1141.60,352.90 1141.85,352.94 1142.10,352.98 1142.35,353.02 1142.60,353.06 1142.85,353.10 1143.10,353.14 1143.35,353.18 1143.60,353.22 1143.85,353.26 1144.10,353.30 1144.35,353.34 1144.60,353.37 1144.85,353.41 1145.10,353.45 1145.35,353.48 1145.60,353.52 1145.85,353.55 1146.10,353.59 1146.35,353.62 1146.60,353.65 1146.85,353.68 1147.10,353.71 1147.35,353.74 1147.60,353.76 1147.85,353.79 1148.10,353.82 1148.35,353.84 1148.60,353.86 1148.85,353.88 1149.10,353.90 1149.35,353.92 1149.60,353.93 1149.85,353.95 1150.10,353.96 1150.35,353.97 1150.60,353.98 1150.85,353.99 1151.10,353.99 1151.35,354.00 1151.60,354.00 1151.85,354.00 1152.10,354.00 1152.35,353.99 1152.60,353.98 1152.85,353.97 1153.10,353.95 1153.35,353.94 1153.60,353.92 1153.85,353.89 1154.10,353.87 1154.35,353.84 1154.60,353.81 1154.85,353.78 1155.10,353.75 1155.35,353.71 1155.60,353.68 1155.85,353.64 1156.10,353.60 1156.35,353.55 1156.60,353.51 1156.85,353.46 1157.10,353.42 1157.35,353.37 1157.60,353.32 1157.85,353.27 1158.10,353.22 1158.35,353.17 1158.60,353.12 1158.85,353.06 1159.10,353.01 1159.35,352.96 1159.60,352.90 1159.85,352.85 1160.10,352.79 1160.35,352.74 1160.60,352.68 1160.85,352.63 1161.10,352.57 1161.35,352.51 1161.60,352.46 1161.85,352.41 1162.10,352.35 1162.35,352.30 1162.60,352.24 1162.85,352.19 1163.10,352.14 1163.35,352.09 1163.60,352.04 1163.85,351.99 1164.10,351.93 1164.35,351.88 1164.60,351.82 1164.85,351.77 1165.10,351.71 1165.35,351.65 1165.60,351.59 1165.85,351.53 1166.10,351.47 1166.35,351.41 1166.60,351.34 1166.85,351.28 1167.10,351.22 1167.35,351.15 1167.60,351.09 1167.85,351.02 1168.10,350.95 1168.35,350.89 1168.60,350.82 1168.85,350.75 1169.10,350.68 1169.35,350.61 1169.60,350.54 1169.85,350.47 1170.10,350.40 1170.35,350.33 1170.60,350.26 1170.85,350.19 1171.10,350.11 1171.35,350.04 1171.60,349.97 1171.85,349.90 1172.10,349.83 1172.35,349.75 1172.60,349.68 1172.85,349.61 1173.10,349.54 1173.35,349.46 1173.60,349.39 1173.85,349.32 1174.10,349.25 1174.35,349.18 1174.60,349.11 1174.85,349.03 1175.10,348.96 1175.35,348.89 1175.60,348.82 1175.85,348.75 1176.10,348.68 1176.35,348.62 1176.60,348.55 1176.85,348.48 1177.10,348.41 1177.35,348.34 1177.60,348.28 1177.85,348.21 1178.10,348.15 1178.35,348.08 1178.60,348.02 1178.85,347.96 1179.10,347.89 1179.35,347.83 1179.60,347.76 1179.85,347.70 1180.10,347.64 1180.35,347.58 1180.60,347.51 1180.85,347.45 1181.10,347.39 1181.35,347.33 1181.60,347.27 1181.85,347.21 1182.10,347.14 1182.35,347.08 1182.60,347.02 1182.85,346.96 1183.10,346.90 1183.35,346.84 1183.60,346.78 1183.85,346.72 1184.10,346.66 1184.35,346.59 1184.60,346.53 1184.85,346.47 1185.10,346.41 1185.35,346.35 1185.60,346.29 1185.85,346.23 1186.10,346.17 1186.35,346.10 1186.60,346.04 1186.85,345.98 1187.10,345.92 1187.35,345.85 1187.60,345.79 1187.85,345.73 1188.10,345.67 1188.35,345.60 1188.60,345.54 1188.85,345.48 1189.10,345.41 1189.35,345.35 1189.60,345.28 1189.85,345.22 1190.10,345.15 1190.35,345.08 1190.60,345.02 1190.85,344.95 1191.10,344.88 1191.35,344.82 1191.60,344.75 1191.85,344.68 1192.10,344.61 1192.35,344.54 1192.60,344.47 1192.85,344.40 1193.10,344.33 1193.35,344.26 1193.60,344.19 1193.85,344.12 1194.10,344.05 1194.35,343.98 1194.60,343.91 1194.85,343.84 1195.10,343.77 1195.35,343.70 1195.60,343.63 1195.85,343.56 1196.10,343.49 1196.35,343.42 1196.60,343.35 1196.85,343.27 1197.10,343.20 1197.35,343.13 1197.60,343.05 1197.85,342.98 1198.10,342.91 1198.35,342.83 1198.60,342.76 1198.85,342.68 1199.10,342.60 1199.35,342.53 1199.60,342.45 1199.85,342.37 1200.10,342.29 1200.35,342.21 1200.60,342.13 1200.85,342.05 1201.10,341.96 1201.35,341.88 1201.60,341.80 1201.85,341.71 1202.10,341.63 1202.35,341.54 1202.60,341.45 1202.85,341.36 1203.10,341.27 1203.35,341.18 1203.60,341.09 1203.85,340.99 1204.10,340.90 1204.35,340.80 1204.60,340.70 1204.85,340.60 1205.10,340.50 1205.35,340.39 1205.60,340.28 1205.85,340.16 1206.10,340.05 1206.35,339.93 1206.60,339.82 1206.85,339.70 1207.10,339.57 1207.35,339.45 1207.60,339.33 1207.85,339.21 1208.10,339.08 1208.35,338.96 1208.60,338.83 1208.85,338.71 1209.10,338.58 1209.35,338.45 1209.60,338.33 1209.85,338.21 1210.10,338.08 1210.35,337.96 1210.60,337.84 1210.85,337.72 1211.10,337.60" fill="none" stroke="#ff00ff" stroke-width="2.6" stroke-linejoin="round" stroke-linecap="round"/>
<polygon points="819.40,43.10 825.40,45.30 831.40,43.10 825.40,59.40" fill="#ff00ff"/>
<polygon points="830.40,43.10 836.40,45.30 842.40,43.10 836.40,59.40" fill="#00e1f5"/>
<polygon points="826.00,43.10 832.00,45.30 838.00,43.10 832.00,59.40" fill="#0000c8"/>
<polygon points="930.60,117.70 936.60,119.90 942.60,117.70 936.60,134.00" fill="#ff00ff"/>
<polygon points="938.50,117.70 944.50,119.90 950.50,117.70 944.50,134.00" fill="#00e1f5"/>
<polygon points="934.40,117.70 940.40,119.90 946.40,117.70 940.40,134.00" fill="#0000c8"/>
<polygon points="1055.90,171.30 1061.90,173.50 1067.90,171.30 1061.90,187.60" fill="#ff00ff"/>
<polygon points="1127.70,171.30 1133.70,173.50 1139.70,171.30 1133.70,187.60" fill="#00e1f5"/>
<polygon points="1124.50,171.30 1130.50,173.50 1136.50,171.30 1130.50,187.60" fill="#0000c8"/>
<text x="1171.5" y="20.4" font-size="28" font-weight="bold" stroke="#ff00ff" stroke-width="0.5" fill="#ff00ff">1.5x Gα<tspan font-size="16" dy="8.8">iq</tspan><tspan dy="-8.8"> only</tspan></text>
<text x="1216" y="77.6" font-size="28" font-weight="bold" stroke="#231f20" stroke-width="0.5" fill="#231f20">[Gα<tspan font-size="16" dy="7.7">iq</tspan><tspan dy="-7.7">]:</tspan></text>
<text x="1169.5" y="109.9" font-size="28" font-weight="bold" stroke="#231f20" stroke-width="0.5" fill="#231f20">[enNTS<tspan font-size="15.5" dy="8.7">1</tspan><tspan dy="-8.7">ΔM4]</tspan></text>
<line x1="1169.2" y1="119.6" x2="1348" y2="119.6" stroke="#000" stroke-width="2.2"/>
<defs><linearGradient id="g" x1="0" y1="0" x2="0" y2="1">
<stop offset="0" stop-color="#103a40"/><stop offset="0.28" stop-color="#00e4f4"/><stop offset="0.45" stop-color="#0a9af0"/><stop offset="1" stop-color="#000cb0"/></linearGradient></defs>
<polygon points="1260.2,134.6 1260.2,241.4 1196,241.4" fill="url(#g)" stroke="#000" stroke-width="3" stroke-linejoin="miter" stroke-miterlimit="2"/>
<text x="1271.3" y="151.4" font-size="28" font-weight="bold" stroke="#231f20" stroke-width="0.5" fill="#231f20">0.0</text>
<text x="1271.3" y="196" font-size="28" font-weight="bold" stroke="#1e96ff" stroke-width="0.5" fill="#1e96ff">1.5</text>
<text x="1271.3" y="243.6" font-size="28" font-weight="bold" stroke="#0a0ac0" stroke-width="0.5" fill="#0a0ac0">3.0</text>
</svg></body></html>
